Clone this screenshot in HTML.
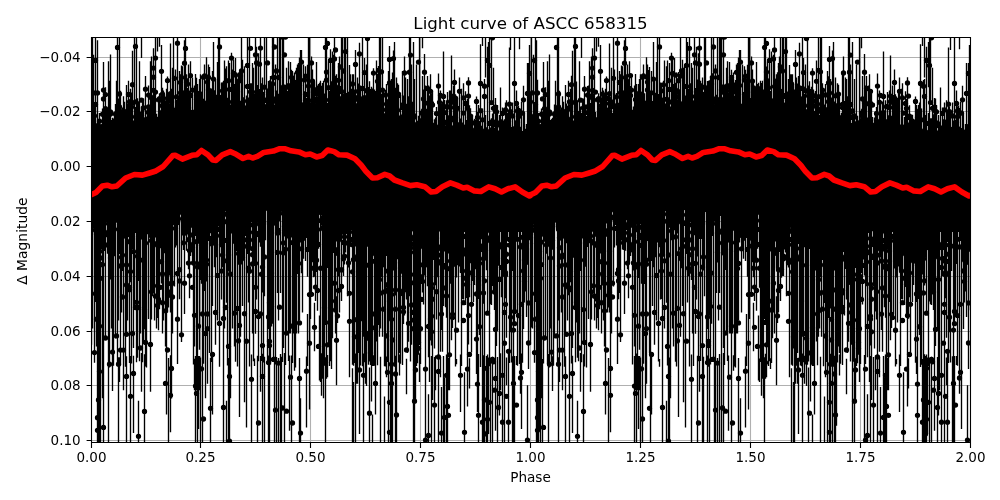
<!DOCTYPE html>
<html><head><meta charset="utf-8"><title>Light curve of ASCC 658315</title>
<style>html,body{margin:0;padding:0;background:#fff;width:1000px;height:500px;overflow:hidden}svg{display:block}</style></head>
<body><svg width="1000" height="500" viewBox="0 0 1000 500">
<rect width="1000" height="500" fill="#fff"/>
<defs><clipPath id="c"><rect x="91" y="37" width="880" height="406"/></clipPath></defs>
<g clip-path="url(#c)">
<path d="M91.5 37.0V443.0M200.5 37.0V443.0M310.5 37.0V443.0M420.5 37.0V443.0M530.5 37.0V443.0M640.5 37.0V443.0M750.5 37.0V443.0M860.5 37.0V443.0M970.5 37.0V443.0M91.0 57.5H971.0M91.0 111.5H971.0M91.0 166.5H971.0M91.0 221.5H971.0M91.0 276.5H971.0M91.0 331.5H971.0M91.0 385.5H971.0M91.0 440.5H971.0" stroke="#b0b0b0" stroke-width="1.1" fill="none"/>
<g fill="#000"><path d="M91 125L93 124.9L95 124.7L97 124.6L99 124.5L101 124.3L103 124.2L105 124.1L107 123.9L109 123.8L111 123.6L113 123.5L115 123.4L117 123.2L119 123.1L121 123L123 122.8L125 122.7L127 122.6L129 122.4L131 122.3L133 122.2L135 122L137 121.9L139 121.7L141 121.6L143 121.5L145 121.3L147 121.2L149 121.1L151 120.7L153 120.2L155 119.7L157 119.1L159 118.6L161 118L163 117.5L165 117L167 116.4L169 115.9L171 115.4L173 114.8L175 114.3L177 113.8L179 113.2L181 112.7L183 112.1L185 111.6L187 111.1L189 110.5L191 110L193 109.8L195 109.7L197 109.5L199 109.3L201 109.2L203 109L205 108.8L207 108.6L209 108.5L211 108.3L213 108.1L215 108L217 107.8L219 107.6L221 107.5L223 107.3L225 107.1L227 106.9L229 106.8L231 106.6L233 106.4L235 106.3L237 106.1L239 105.9L241 105.8L243 105.6L245 105.4L247 105.3L249 105.1L251 105L253 104.9L255 104.9L257 104.8L259 104.8L261 104.7L263 104.7L265 104.6L267 104.6L269 104.5L271 104.5L273 104.4L275 104.4L277 104.3L279 104.3L281 104.2L283 104.2L285 104.1L287 104.1L289 104L291 104L293 103.9L295 103.9L297 103.8L299 103.8L301 103.7L303 103.7L305 103.6L307 103.6L309 103.5L311 103.5L313 103.4L315 103.4L317 103.3L319 103.3L321 103.2L323 103.2L325 103.1L327 103.1L329 103L331 103.2L333 103.5L335 103.8L337 104.1L339 104.5L341 104.8L343 105.1L345 105.4L347 105.7L349 106.1L351 106.4L353 106.7L355 107L357 107.4L359 107.7L361 108L363 108.7L365 109.4L367 110.2L369 110.9L371 111.6L373 112.3L375 113L377 113.7L379 114.5L381 115.2L383 115.9L385 116.6L387 117.3L389 118.1L391 118.8L393 119.5L395 120.2L397 120.9L399 121.6L401 122.2L403 122.5L405 122.8L407 123.1L409 123.4L411 123.8L413 124.1L415 124.4L417 124.7L419 125L421 125.4L423 125.7L425 126L427 126.3L429 126.6L431 127L433 127.3L435 127.6L437 127.9L439 128.2L441 128.6L443 128.9L445 129.2L447 129.5L449 129.8L451 130.1L453 130.2L455 130.3L457 130.4L459 130.6L461 130.7L463 130.8L465 130.9L467 131L469 131.2L471 131.3L473 131.4L475 131.5L477 131.7L479 131.8L481 131.9L483 132L485 132.1L487 132.3L489 132.4L491 132.5L493 132.6L495 132.8L497 132.9L499 133L501 133.1L503 133.3L505 133.4L507 133.5L509 133.6L511 133.7L513 133.9L515 134L517 134.1L519 134.2L521 134.4L523 134.5L525 134.6L527 134.7L529 134.8L531 135L531 232L529 232L527 232L525 232L523 232L521 232L519 232L517 232L515 232L513 232L511 232L509 232L507 232L505 232L503 232L501 232L499 232L497 232L495 232L493 232L491 232L489 232L487 232L485 232L483 232L481 232L479 232L477 232L475 232L473 232L471 232L469 232L467 232L465 232L463 232L461 232L459 232L457 232L455 232L453 232L451 232L449 232L447 231.9L445 231.8L443 231.7L441 231.6L439 231.6L437 231.5L435 231.4L433 231.3L431 231.2L429 231.2L427 231.1L425 231L423 230.9L421 230.8L419 230.8L417 230.7L415 230.6L413 230.5L411 230.4L409 230.4L407 230.3L405 230.2L403 230.1L401 230L399 229.8L397 229.5L395 229.2L393 228.9L391 228.6L389 228.2L387 227.9L385 227.6L383 227.3L381 227L379 226.6L377 226.3L375 226L373 225.7L371 225.4L369 225L367 224.7L365 224.4L363 224.1L361 223.8L359 223.4L357 223.1L355 222.8L353 222.5L351 222.2L349 221.8L347 221.3L345 220.8L343 220.4L341 219.9L339 219.5L337 219L335 218.5L333 218.1L331 217.6L329 217.2L327 216.7L325 216.2L323 215.8L321 215.3L319 214.8L317 214.4L315 213.9L313 213.5L311 213L309 212.9L307 212.8L305 212.7L303 212.6L301 212.5L299 212.4L297 212.3L295 212.2L293 212.1L291 212L289 211.9L287 211.8L285 211.7L283 211.6L281 211.5L279 211.4L277 211.3L275 211.2L273 211.1L271 211L269 210.9L267 210.8L265 210.7L263 210.6L261 210.5L259 210.4L257 210.3L255 210.2L253 210.1L251 210L249 210L247 210L245 210L243 210L241 210L239 210L237 210L235 210L233 210L231 210L229 210L227 210L225 210L223 210L221 210L219 210L217 210L215 210L213 210L211 210L209 210L207 210L205 210L203 210L201 210L199 210L197 210L195 210L193 210L191 210L189 210L187 210L185 210L183 210L181 210L179 210L177 210L175 210L173 210L171 210L169 210.2L167 210.6L165 211L163 211.4L161 211.8L159 212.2L157 212.6L155 213L153 213.4L151 213.8L149 214.2L147 214.6L145 215L143 215.4L141 215.8L139 216.2L137 216.6L135 217L133 217.4L131 217.8L129 218.2L127 218.5L125 218.9L123 219.3L121 219.6L119 220L117 220.3L115 220.7L113 221.1L111 221.4L109 221.8L107 222.1L105 222.5L103 222.8L101 223.2L99 223.6L97 223.9L95 224.3L93 224.6L91 225Z"/><path d="M530.5 125L532.5 124.9L534.5 124.7L536.5 124.6L538.5 124.5L540.5 124.3L542.5 124.2L544.5 124.1L546.5 123.9L548.5 123.8L550.5 123.6L552.5 123.5L554.5 123.4L556.5 123.2L558.5 123.1L560.5 123L562.5 122.8L564.5 122.7L566.5 122.6L568.5 122.4L570.5 122.3L572.5 122.2L574.5 122L576.5 121.9L578.5 121.7L580.5 121.6L582.5 121.5L584.5 121.3L586.5 121.2L588.5 121.1L590.5 120.7L592.5 120.2L594.5 119.7L596.5 119.1L598.5 118.6L600.5 118L602.5 117.5L604.5 117L606.5 116.4L608.5 115.9L610.5 115.4L612.5 114.8L614.5 114.3L616.5 113.8L618.5 113.2L620.5 112.7L622.5 112.1L624.5 111.6L626.5 111.1L628.5 110.5L630.5 110L632.5 109.8L634.5 109.7L636.5 109.5L638.5 109.3L640.5 109.2L642.5 109L644.5 108.8L646.5 108.6L648.5 108.5L650.5 108.3L652.5 108.1L654.5 108L656.5 107.8L658.5 107.6L660.5 107.5L662.5 107.3L664.5 107.1L666.5 106.9L668.5 106.8L670.5 106.6L672.5 106.4L674.5 106.3L676.5 106.1L678.5 105.9L680.5 105.8L682.5 105.6L684.5 105.4L686.5 105.3L688.5 105.1L690.5 105L692.5 104.9L694.5 104.9L696.5 104.8L698.5 104.8L700.5 104.7L702.5 104.7L704.5 104.6L706.5 104.6L708.5 104.5L710.5 104.5L712.5 104.4L714.5 104.4L716.5 104.3L718.5 104.3L720.5 104.2L722.5 104.2L724.5 104.1L726.5 104.1L728.5 104L730.5 104L732.5 103.9L734.5 103.9L736.5 103.8L738.5 103.8L740.5 103.7L742.5 103.7L744.5 103.6L746.5 103.6L748.5 103.5L750.5 103.5L752.5 103.4L754.5 103.4L756.5 103.3L758.5 103.3L760.5 103.2L762.5 103.2L764.5 103.1L766.5 103.1L768.5 103L770.5 103.2L772.5 103.5L774.5 103.8L776.5 104.1L778.5 104.5L780.5 104.8L782.5 105.1L784.5 105.4L786.5 105.7L788.5 106.1L790.5 106.4L792.5 106.7L794.5 107L796.5 107.4L798.5 107.7L800.5 108L802.5 108.7L804.5 109.4L806.5 110.2L808.5 110.9L810.5 111.6L812.5 112.3L814.5 113L816.5 113.7L818.5 114.5L820.5 115.2L822.5 115.9L824.5 116.6L826.5 117.3L828.5 118.1L830.5 118.8L832.5 119.5L834.5 120.2L836.5 120.9L838.5 121.6L840.5 122.2L842.5 122.5L844.5 122.8L846.5 123.1L848.5 123.4L850.5 123.8L852.5 124.1L854.5 124.4L856.5 124.7L858.5 125L860.5 125.4L862.5 125.7L864.5 126L866.5 126.3L868.5 126.6L870.5 127L872.5 127.3L874.5 127.6L876.5 127.9L878.5 128.2L880.5 128.6L882.5 128.9L884.5 129.2L886.5 129.5L888.5 129.8L890.5 130.1L892.5 130.2L894.5 130.3L896.5 130.4L898.5 130.6L900.5 130.7L902.5 130.8L904.5 130.9L906.5 131L908.5 131.2L910.5 131.3L912.5 131.4L914.5 131.5L916.5 131.7L918.5 131.8L920.5 131.9L922.5 132L924.5 132.1L926.5 132.3L928.5 132.4L930.5 132.5L932.5 132.6L934.5 132.8L936.5 132.9L938.5 133L940.5 133.1L942.5 133.3L944.5 133.4L946.5 133.5L948.5 133.6L950.5 133.7L952.5 133.9L954.5 134L956.5 134.1L958.5 134.2L960.5 134.4L962.5 134.5L964.5 134.6L966.5 134.7L968.5 134.8L970.5 135L970.5 232L968.5 232L966.5 232L964.5 232L962.5 232L960.5 232L958.5 232L956.5 232L954.5 232L952.5 232L950.5 232L948.5 232L946.5 232L944.5 232L942.5 232L940.5 232L938.5 232L936.5 232L934.5 232L932.5 232L930.5 232L928.5 232L926.5 232L924.5 232L922.5 232L920.5 232L918.5 232L916.5 232L914.5 232L912.5 232L910.5 232L908.5 232L906.5 232L904.5 232L902.5 232L900.5 232L898.5 232L896.5 232L894.5 232L892.5 232L890.5 232L888.5 232L886.5 231.9L884.5 231.8L882.5 231.7L880.5 231.6L878.5 231.6L876.5 231.5L874.5 231.4L872.5 231.3L870.5 231.2L868.5 231.2L866.5 231.1L864.5 231L862.5 230.9L860.5 230.8L858.5 230.8L856.5 230.7L854.5 230.6L852.5 230.5L850.5 230.4L848.5 230.4L846.5 230.3L844.5 230.2L842.5 230.1L840.5 230L838.5 229.8L836.5 229.5L834.5 229.2L832.5 228.9L830.5 228.6L828.5 228.2L826.5 227.9L824.5 227.6L822.5 227.3L820.5 227L818.5 226.6L816.5 226.3L814.5 226L812.5 225.7L810.5 225.4L808.5 225L806.5 224.7L804.5 224.4L802.5 224.1L800.5 223.8L798.5 223.4L796.5 223.1L794.5 222.8L792.5 222.5L790.5 222.2L788.5 221.8L786.5 221.3L784.5 220.8L782.5 220.4L780.5 219.9L778.5 219.5L776.5 219L774.5 218.5L772.5 218.1L770.5 217.6L768.5 217.2L766.5 216.7L764.5 216.2L762.5 215.8L760.5 215.3L758.5 214.8L756.5 214.4L754.5 213.9L752.5 213.5L750.5 213L748.5 212.9L746.5 212.8L744.5 212.7L742.5 212.6L740.5 212.5L738.5 212.4L736.5 212.3L734.5 212.2L732.5 212.1L730.5 212L728.5 211.9L726.5 211.8L724.5 211.7L722.5 211.6L720.5 211.5L718.5 211.4L716.5 211.3L714.5 211.2L712.5 211.1L710.5 211L708.5 210.9L706.5 210.8L704.5 210.7L702.5 210.6L700.5 210.5L698.5 210.4L696.5 210.3L694.5 210.2L692.5 210.1L690.5 210L688.5 210L686.5 210L684.5 210L682.5 210L680.5 210L678.5 210L676.5 210L674.5 210L672.5 210L670.5 210L668.5 210L666.5 210L664.5 210L662.5 210L660.5 210L658.5 210L656.5 210L654.5 210L652.5 210L650.5 210L648.5 210L646.5 210L644.5 210L642.5 210L640.5 210L638.5 210L636.5 210L634.5 210L632.5 210L630.5 210L628.5 210L626.5 210L624.5 210L622.5 210L620.5 210L618.5 210L616.5 210L614.5 210L612.5 210L610.5 210L608.5 210.2L606.5 210.6L604.5 211L602.5 211.4L600.5 211.8L598.5 212.2L596.5 212.6L594.5 213L592.5 213.4L590.5 213.8L588.5 214.2L586.5 214.6L584.5 215L582.5 215.4L580.5 215.8L578.5 216.2L576.5 216.6L574.5 217L572.5 217.4L570.5 217.8L568.5 218.2L566.5 218.5L564.5 218.9L562.5 219.3L560.5 219.6L558.5 220L556.5 220.3L554.5 220.7L552.5 221.1L550.5 221.4L548.5 221.8L546.5 222.1L544.5 222.5L542.5 222.8L540.5 223.2L538.5 223.6L536.5 223.9L534.5 224.3L532.5 224.6L530.5 225Z"/></g>
<path d="M97.5 435.5V444M97.5 355.2V444M98.5 353.6V444M99.5 354.3V444M99.5 357.6V430.7M100.5 357.2V444M102.5 353.8V398.3M103.5 359V444M108.5 354.1V444M109.5 354.2V367.5M112.5 356.2V391M118.5 357.2V444M119.5 357.3V382.1M123.5 357.5V390.2M126.5 356.3V444M130.5 356V444M133.5 355.7V433.1M138.5 400.7V444M141.5 353V391.8M144.5 354.2V444M146.5 355.3V367.5M150.5 353.1V391.8M166.5 357.7V414.5M168.5 358V444M170.5 355.3V432.3M177.5 358.7V361.8M194.5 358.8V390.2M195.5 355.9V444M196.5 356.2V390.2M197.5 353.5V444M197.5 355.2V390.2M198.5 355.9V429M199.5 356V390.2M200.5 357.5V444M202.5 358.9V444M205.5 357.8V398.3M207.5 354.8V383.7M210.5 357.8V444M212.5 356.8V414.5M219.5 359V366.7M223.5 354V444M226.5 400.7V444M228.5 358.1V444M229.5 357.4V444M230.5 353.7V398.3M239.5 355.9V416.9M244.5 353.9V402.3M246.5 355.2V427.4M251.5 354.5V444M254.5 358.5V365.9M257.5 355.8V444M260.5 356V391.8M262.5 353.8V444M264.5 356.8V444M268.5 355.4V444M269.5 358.6V444M274.5 356.7V444M276.5 357.1V444M278.5 358.1V444M280.5 354.1V444M281.5 356.7V444M284.5 353.1V444M289.5 355.5V430.7M291.5 355.4V444M294.5 355.2V370.7M295.5 354.9V367.5M299.5 358.1V444M300.5 398.3V444M306.5 356.4V427.4M309.5 357.6V409.6M319.5 356.6V380.4M320.5 358.4V382.1M321.5 353.2V395.8M322.5 357.7V378.8M323.5 355V398.3M325.5 357.2V444M326.5 353.8V378.8M327.5 355V377.2M331.5 358.2V369.1M336.5 353.9V385.3M349.5 353.3V377.2M352.5 368.3V444M353.5 382.1V444M355.5 353.6V444M356.5 355.6V383.7M357.5 358.1V383.7M359.5 357.8V433.9M363.5 353.4V444M365.5 355.7V383.7M366.5 357.9V386.1M369.5 367.5V444M371.5 353.7V401.5M372.5 414.5V444M373.5 355.2V365.9M375.5 355.6V414.5M380.5 356.7V444M384.5 396.6V444M386.5 356.5V377.2M388.5 357.6V444M390.5 358.8V444M391.5 353.7V444M392.5 356.2V444M395.5 355.7V444M396.5 357.1V425.8M399.5 354.5V375.6M406.5 358.8V394.2M413.5 356.8V444M414.5 358.8V444M415.5 358.3V399.9M419.5 353.2V382.1M425.5 355.1V444M428.5 394.2V444M429.5 356.4V382.1M431.5 355.9V444M432.5 353.8V399.9M434.5 356.9V444M435.5 355.5V390.2M438.5 354.9V444M440.5 356.9V377.2M441.5 386.9V444M443.5 355.9V444M444.5 377.2V444M446.5 354.4V444M447.5 353.5V444M448.5 358.1V390.2M449.5 353.4V390.2M456.5 359V364.2M460.5 354.5V412M464.5 372.3V444M467.5 354.1V406.4M469.5 358.2V388.5M476.5 356.5V374M478.5 354.1V444M482.5 358.9V444M483.5 355.2V444M484.5 354.2V444M486.5 355.9V444M487.5 354.6V444M488.5 357.6V433.9M490.5 357.8V444M492.5 356.8V444M495.5 357.9V430.7M497.5 356.9V444M500.5 353.3V390.2M502.5 355.6V444M504.5 357V444M506.5 357.4V385.3M508.5 353.3V444M512.5 356.3V444M513.5 353.1V444M514.5 355.9V444M516.5 355.9V365.1M521.5 353.6V429M527.5 385.3V444M528.5 354.5V369.1M91.5 221.9V344.8M92.5 221.7V328.6M94.5 221.4V318.9M96.5 221V346.4M97.5 220.8V364.5M98.5 220.7V363.6M99.5 220.5V366.3M99.5 220.4V363.5M100.5 220.3V366.5M102.5 220V361.4M103.5 219.7V363.6M105.5 219.3V338.3M108.5 218.9V364.1M109.5 218.7V366.7M111.5 218.4V328.6M112.5 309.2V362.5M113.5 217.9V365.8M115.5 217.6V338.3M117.5 217.2V365.1M118.5 217V320.5M120.5 216.8V365.3M121.5 216.5V312.4M123.5 216.2V364.8M125.5 215.8V366.8M126.5 215.7V333.5M127.5 215.4V320.5M129.5 215V363M131.5 214.7V363.4M133.5 214.3V348M134.5 214.1V307.5M136.5 213.7V362.2M137.5 213.4V357.8M139.5 213.1V361.3M140.5 212.9V333.5M142.5 212.6V362.3M143.5 212.3V343.2M145.5 211.9V366.5M146.5 211.6V366M148.5 211.3V318.9M150.5 210.9V361.7M152.5 210.6V296.2M154.5 210V320.5M156.5 209.7V328.6M158.5 209.3V330.2M159.5 209V309.2M162.5 208.5V333.5M163.5 208.3V320.5M165.5 208V346.4M166.5 207.7V364.6M167.5 207.4V312.4M170.5 207V312.4M172.5 207V333.5M174.5 207V286.5M177.5 207V363.9M179.5 207V293M181.5 207V291.3M184.5 207V314M193.5 207V364.6M194.5 207V346.4M196.5 207V365M197.5 207V362.8M199.5 207V349.7M202.5 207V366.8M203.5 207V363.8M205.5 207V364.8M207.5 207V364.8M209.5 207V352.9M211.5 207V362.1M212.5 207V305.9M215.5 207V344.8M217.5 207V320.5M219.5 207V361.4M221.5 207V299.4M223.5 207V363.5M224.5 207V328.6M226.5 207V302.7M227.5 207V365.6M229.5 207V365.9M230.5 207V365.4M232.5 207V328.6M234.5 207V346.4M235.5 207V361.7M237.5 207V366.5M239.5 207V365.8M240.5 207V336.7M242.5 207V305.9M244.5 207V366.3M246.5 207V364.1M248.5 207V299.4M249.5 207V366.5M252.5 207.1V333.5M253.5 207.2V361.3M256.5 207.3V299.4M258.5 207.4V361.2M261.5 207.6V361.1M263.5 207.7V362.5M264.5 207.7V296.2M267.5 207.9V362.5M269.5 207.9V362.1M270.5 208V364.4M272.5 208.1V323.7M273.5 208.2V361.2M275.5 208.3V364.5M277.5 208.3V293M278.5 208.4V320.5M280.5 208.5V293M282.5 208.6V362M283.5 208.7V348M285.5 208.7V365.1M286.5 208.8V333.5M288.5 208.9V361.1M289.5 209V333.5M290.5 209V333.5M292.5 209.1V362.9M293.5 209.1V333.5M294.5 209.2V366.6M295.5 209.3V364.2M296.5 209.3V333.5M298.5 209.4V333.5M299.5 209.4V320.5M302.5 209.6V312.4M307.5 314V365.9M309.5 209.9V364.9M310.5 210V318.9M311.5 210.2V296.2M314.5 302.7V351.3M317.5 211.5V310.8M319.5 315.6V364.7M320.5 212.2V362.1M322.5 212.5V364.4M323.5 212.8V361.2M324.5 213.1V365.8M325.5 213.4V323.7M326.5 213.7V366.8M328.5 213.9V344.8M329.5 214.2V366.1M330.5 214.5V361.3M331.5 214.8V363M332.5 215V338.3M334.5 215.3V312.4M335.5 215.6V333.5M336.5 296.2V362.9M337.5 216.2V312.4M339.5 216.5V312.4M341.5 217V301.1M347.5 218.4V296.2M349.5 219V361.7M352.5 219.4V364.8M353.5 219.6V365.8M354.5 219.8V362.9M356.5 220V366.2M357.5 220.1V365.8M358.5 220.3V352.9M359.5 220.5V361.8M360.5 220.7V365.6M362.5 220.9V366.3M363.5 221.1V336.7M364.5 221.3V362.2M365.5 221.5V364.4M366.5 221.7V364.8M368.5 221.9V364.7M369.5 222.1V361.6M370.5 222.3V365M371.5 222.5V364.8M372.5 222.7V365.9M374.5 222.9V365.8M375.5 223.1V363M376.5 223.3V341.6M377.5 223.4V365.3M379.5 223.6V336.7M380.5 223.9V328.6M382.5 224.2V336.7M384.5 224.5V366.2M385.5 224.7V366.4M387.5 224.9V362M388.5 225.1V361.2M390.5 225.4V364.9M391.5 225.7V362.3M392.5 225.8V364.4M394.5 226.1V366.7M396.5 226.4V363.3M398.5 226.7V362.5M399.5 227V352.9M400.5 227V363.7M402.5 227.1V364.9M404.5 227.2V315.6M406.5 227.3V299.4M407.5 227.3V352.9M409.5 227.4V296.2M410.5 227.4V361.6M411.5 227.5V344.8M413.5 227.5V363.3M414.5 227.6V361.8M415.5 227.6V365M416.5 227.7V366M417.5 227.7V363.3M419.5 227.8V344.8M420.5 227.8V363.2M92.5 35V127.9M93.5 54.8V127.8M95.5 35V127.7M97.5 40.2V127.6M103.5 62.1V127.1M108.5 61.3V126.8M110.5 54.5V126.7M116.5 80.7V126.3M117.5 35V126.2M119.5 35V126.1M123.5 111.5V125.8M128.5 80.7V125.5M130.5 88.8V125.3M132.5 50.8V125.2M134.5 35V125M136.5 35V124.9M139.5 61.3V124.7M141.5 35V58.1M142.5 98.6V124.5M145.5 75.9V124.3M148.5 85.6V124.1M150.5 61.3V124M151.5 56.4V123.5M153.5 48.3V123.1M155.5 35V122.5M157.5 35V51.6M159.5 35V46.7M161.5 45.1V120.9M163.5 90.5V120.4M166.5 88.8V119.6M170.5 43.5V118.6M172.5 67.8V118.1M173.5 35V118M175.5 69.4V118M177.5 35V118M179.5 71V118M180.5 74.3V118M182.5 66.2V118M184.5 40.2V118M186.5 74.3V118M188.5 64.5V118M190.5 61.3V118M192.5 77.5V118M194.5 85.6V118M197.5 84V118M199.5 84V118M200.5 74.3V118M202.5 75.9V118M204.5 64.5V118M206.5 57.3V118M208.5 64.5V118M209.5 67V118M212.5 71V118M213.5 41.9V118M215.5 79.1V118M218.5 35V118M219.5 35V118M221.5 82.4V118M223.5 80.7V118M224.5 60.5V118M226.5 66.2V118M228.5 60.5V118M229.5 62.9V118M232.5 69.4V118M233.5 59.7V118M235.5 58.1V118M236.5 72.6V118M238.5 72.6V118M241.5 35V118M242.5 59.7V118M244.5 66.2V118M247.5 35V118M247.5 41.9V118M249.5 35V118M252.5 62.9V118M253.5 67.8V118M255.5 35V118M256.5 46.7V118M258.5 53.2V118M260.5 80.7V118M262.5 77.5V118M264.5 35V118M266.5 35V118M269.5 80.7V118M270.5 75.9V118M272.5 35V118M273.5 35V118M275.5 64.5V118M277.5 35V118M279.5 35V118M280.5 35V118M282.5 35V118M283.5 35V118M286.5 67.8V118M288.5 61.3V118M290.5 62.1V118M292.5 79.1V118M294.5 72.6V118M296.5 67.8V118M298.5 62.9V118M300.5 50V118M301.5 50V118M303.5 64.5V118M305.5 66.2V118M307.5 79.1V118M308.5 35V118M309.5 35V118M311.5 56.4V118M312.5 69.4V118M316.5 62.1V118M314.5 85.6V118M323.5 80.7V118M325.5 35V118M326.5 35V118M328.5 61.3V118M330.5 64.5V118M332.5 51.6V118M333.5 54.8V118M334.5 35V118M336.5 74.3V118M338.5 62.9V118M339.5 56.4V118M341.5 35V118M342.5 35V118M344.5 35V118M345.5 35V118M347.5 35V118M349.5 79.1V118M350.5 74.3V118M352.5 74.3V118M353.5 74.3V118M355.5 50V118M357.5 77.5V118M359.5 75.9V118M360.5 85.6V118M362.5 35V118M364.5 58.1V118M366.5 64.5V118M367.5 35V118M369.5 85.6V118M370.5 106.7V118M372.5 106.7V118M374.5 108.3V118M376.5 60.5V118M379.5 35V118M380.5 35V118.2M382.5 35V118.6M383.5 88.8V119.2M386.5 84V120.1M388.5 71V120.8M389.5 45.9V121.3M391.5 79.1V121.8M392.5 72.6V122.4M394.5 41.9V123M396.5 77.5V123.6M397.5 83.2V124.2M400.5 95.3V125M402.5 71V125.4M404.5 56.4V125.7M405.5 77.5V125.9M407.5 79.1V126.2M409.5 35V126.4M410.5 35V126.6M411.5 64.5V126.8M413.5 41.9V127.1M414.5 79.1V127.3M416.5 64.5V127.7M419.5 35V128.1M422.5 35V48.3M422.5 75.9V128.6M424.5 54V128.9M425.5 85.6V129.1M427.5 75.9V129.4M428.5 85.6V129.6M430.5 74.3V129.9M432.5 90.5V130.1M436.5 111.5V130.8M438.5 73.5V131.2M440.5 90.5V131.4M443.5 51.6V132M446.5 100.2V132.4M447.5 92.1V132.6M449.5 90.5V133M451.5 55.6V133.1M453.5 85.6V133.2M454.5 69.4V133.3M456.5 98.6V133.4M459.5 77.5V133.6M461.5 88.8V133.7M463.5 83.2V133.8M465.5 91.3V134M468.5 83.2V134.1M470.5 108.3V134.3M472.5 114.8V134.4M478.5 105V134.7M480.5 44.3V134.9M482.5 35V45.9M484.5 79.1V135.1M485.5 35V77.5M487.5 46.7V135.3M488.5 41.9V87.2M489.5 35V135.4M491.5 35V105M493.5 67.8V135.6M495.5 98.6V135.8M497.5 105V135.9M506.5 100.2V136.5M509.5 47.5V136.6M510.5 35V50M514.5 35V137M516.5 90.5V137.1M519.5 35V49.2M519.5 108.3V137.2M521.5 101.8V137.4M523.5 96.9V137.5M527.5 62.9V137.7M528.5 62.9V137.8M529.5 45.1V137.9M328.5 104.2V120.4M185.5 37.5V113.4M199.5 79.1V111.2M236.5 82.7V108.2M292.5 71V105.9M126.5 107.6V124.6M422.5 123.4V146.7M345.5 99.9V117.6M222.5 98.1V123.7M125.5 119.2V132.3M426.5 108.8V131.3M148.5 110.5V133.3M149.5 116V134.2M148.5 106.1V123.1M126.5 120.1V137M489.5 123V147.4M209.5 104.7V116.9M225.5 103.5V113.5M457.5 132.7V150.8M363.5 111.5V124.7M173.5 113.1V138.8M282.5 77V106.2M479.5 121V149.8M256.5 89.3V115.8M403.5 113.8V136.1M133.5 120.6V132.7M411.5 115.9V142M432.5 120V144M454.5 116.7V141.2M387.5 99.2V122.5M254.5 100.5V126.7M119.5 122.9V137.4M319.5 101.8V124.6M424.5 124.6V143.9M174.5 117.5V132.9M208.5 82.4V110.5M326.5 66.4V105.1M420.5 122.3V141.1M485.5 122.7V138.8M146.5 124V141.2M172.5 103.8V130.6M442.5 101.4V130.8M374.5 111.1V134.1M408.5 119.3V148.9M529.5 131.2V144M504.5 119.3V138.5M461.5 136.1V146.2M432.5 124.8V141.5M264.5 101.2V130.1M373.5 68.2V114.4M172.5 113.2V137.9M425.5 120.3V147.4M424.5 126.4V145.6M408.5 96.3V125.3M286.5 99V116.7M257.5 102.3V118.1M275.5 89.2V108.4M105.5 114.8V127.1M462.5 134V148.8M329.5 99V113.7M261.5 83.3V113.1M332.5 102.3V117.7M408.5 121.6V134.7M258.5 101.8V130.5M456.5 136.8V147.9M495.5 129.5V158.7M261.5 100.8V127.5M151.5 120.8V143.1M425.5 117.1V134.5M527.5 124.5V136.8M156.5 124.4V134.8M404.5 129.2V139.5M454.5 95.1V132.3M496.5 116.1V134.8M145.5 118.3V146.6M131.5 112.9V132.7M525.5 131.1V160.9M142.5 115.5V139.4M168.5 92.8V118M343.5 97.4V117.6M287.5 105.6V117.1M421.5 132.7V141.5M174.5 109.6V138.4M493.5 136.7V152.1M186.5 116.5V128.6M429.5 130.4V140.7M120.5 123.3V145.7M299.5 104.7V122.8M105.5 109.2V126M229.5 97.3V121M228.5 100.2V113.9M407.5 120.5V145.6M291.5 101.7V120.5M115.5 111.8V131.5M528.5 131.6V149.6M482.5 108.4V134M494.5 128.1V157.9M199.5 106.2V131.8M264.5 105.1V114.6M190.5 86V112M145.5 117.1V130.3M105.5 130.8V141.1M312.5 94.6V106.9M145.5 125.3V138.8M168.5 111.4V140.5M469.5 105.2V133.2M304.5 94.1V120.8M171.5 94.9V118.3M385.5 120.1V135.1M207.5 106.7V123.3M322.5 105.9V123.6M215.5 105.3V119.8M318.5 93.9V111.2M367.5 106.2V131.2M326.5 75.4V105.1M265.5 106.4V120.5M438.5 124V142.5M475.5 119.5V142.4M169.5 116.2V138.5M150.5 117.7V141.7M140.5 122.3V132.6M522.5 130.9V142.9M505.5 102.5V135.4M192.5 83V111.9M517.5 122.8V147.4M182.5 106.7V136.5M313.5 97.9V121M309.5 107.1V115.9M493.5 131.1V145.7M108.5 122.8V148.5M229.5 102.2V130.5M354.5 89.4V110.5M120.5 106.4V125M195.5 113V128.8M295.5 93.2V115.1M478.5 127.2V154.3M425.5 112.9V128.4M455.5 111.6V132.4M425.5 118.2V128.1M402.5 124.7V135.7M464.5 128.9V155.6M390.5 109.4V131.1M414.5 102.1V131.9M223.5 108.9V118.4M164.5 94.8V119M423.5 97.9V127.8M163.5 114.2V136.8M495.5 106.5V134.8M353.5 110.3V127.1M235.5 93.8V115.8M503.5 128.7V151.8M159.5 119.9V137.8M317.5 96.3V108.4M131.5 92.5V124.3M515.5 135V153.3M344.5 95.6V119.4M444.5 118.5V138.3M215.5 115V124.8M443.5 130V143.2M400.5 127.7V137M374.5 89.6V114.7M509.5 131.1V143.5M281.5 106.4V123.5M273.5 103.6V118.7M395.5 87.8V122.4M458.5 122.2V148.2M238.5 102.9V111.4M385.5 89.8V118.8M182.5 100.5V126.3M333.5 96.2V115.9M429.5 116.9V134.5M119.5 119V132.9M411.5 94.5V125.8M97.5 122.4V135.3M512.5 102.5V135.8M297.5 88.8V114.9M270.5 102.5V117.5M407.5 102.3V125.3M321.5 100.7V128.3M412.5 110.1V126M128.5 110.1V132.6M338.5 95.7V122.6M336.5 103V128.6M501.5 119.2V146.1M108.5 113.3V132M290.5 94.6V121.1M368.5 110.1V128.3M333.5 99.8V113.6M123.5 113.3V131.9M352.5 94.2V109.6M188.5 85.9V112.6M177.5 106.7V133M477.5 111.9V133.7M178.5 116.1V127.7M290.5 82.6V106M421.5 120.9V139.1M402.5 112.7V141.7M334.5 87.7V116.4M446.5 125.7V155M295.5 80V105.9M363.5 102.3V125.2M451.5 132V145.9M389.5 110.2V126.4M373.5 91.6V114.5M269.5 80.3V106.6M336.5 107.5V121.5M265.5 110.8V120.6M418.5 115.8V130.7M258.5 104.6V119.7M296.5 92.9V116.9M423.5 112.1V127.7M312.5 105.5V118.5M239.5 89.3V117.1M454.5 125.4V152.2M258.5 103.8V125.7M462.5 122.5V142.8M436.5 107.1V129.8M287.5 90.9V118.1M404.5 102V126.7M106.5 116.8V136.1M262.5 108.3V119.8M469.5 131.5V144.2M345.5 43.5V107.6M336.5 105.7V121M383.5 112.1V121.4M389.5 115.6V132.6M347.5 91.5V109.4M276.5 102.2V116.5M171.5 116.3V132.8M219.5 92.6V109.6M219.5 110.3V126.6M280.5 88V109.6M530.5 92.3V136.9M246.5 111V123.4M287.5 97.9V123.4M254.5 105V124.3M346.5 107V125.1M508.5 109.5V135.6M482.5 120V144.6M256.5 97.7V124.3M208.5 107V132.9M480.5 117.1V139.8M308.5 74.2V105.5M392.5 119.4V130.8M123.5 117.3V140.7M472.5 127.8V141.4M228.5 105.9V119.6M308.5 100.8V111.5M178.5 96.7V115.5M275.5 103.3V111.7M455.5 124.4V146.8M455.5 124.7V149.2M299.5 101.5V126.6M428.5 119.1V129.9M292.5 89.6V111.7M255.5 101.7V128.1M331.5 104V112.8M179.5 101.4V115.1M230.5 104.6V118.5M401.5 119.9V138.1M430.5 120.7V132.4M115.5 104.1V125.3M413.5 117.6V133.2M450.5 109.3V132M286.5 95.7V115.4M118.5 98.6V125.1M391.5 115.1V128.5M199.5 94.2V117.8M374.5 105.2V129.3M256.5 98.6V122.5M371.5 114.5V124M204.5 93.3V122.1M300.5 101.2V121.9M321.5 107.4V121.3M368.5 87V112.7M180.5 113.9V133.3M514.5 120.8V140.2M218.5 111V124.5M225.5 107V120.8M203.5 112.4V128.4M120.5 113.7V138.8M277.5 94.7V112.4M430.5 129.1V137.9M403.5 95.4V124.5M177.5 105.6V118M151.5 123V131.3M232.5 87.1V116.6M429.5 131.3V145.8M305.5 95V114.8M497.5 131.1V147M379.5 120.9V130M364.5 99.9V127.8M428.5 118.7V147.3M421.5 123.8V135.9M242.5 107.8V125M204.5 67.6V110.9M283.5 109.9V121.6M306.5 100.7V123.2M153.5 77.7V122.1M285.5 100V124.7M372.5 111V133.8M150.5 108.2V122.8M151.5 116.7V129.8M167.5 88.6V118.3M215.5 92.8V116.3M514.5 120.5V137M102.5 125.6V143.5M171.5 88.8V117.1M163.5 100.7V119.3M299.5 78.6V105.8M97.5 118.4V132.8M292.5 98.6V128.4M162.5 87.7V119.6M209.5 103.5V112.5M439.5 93.7V130.3M171.5 115.5V137.8M362.5 82.8V110.6M269.5 99V125.5M274.5 107.2V119.5M450.5 121.9V145.4M161.5 118.4V129.9M497.5 119.3V146.7M484.5 80V134.1M385.5 116.2V140.3M112.5 117.7V144.2M382.5 83.3V117.8M355.5 104.2V114.2M430.5 110.1V131M185.5 108.4V127.4M510.5 124.5V143.1M480.5 128.8V154M141.5 106.4V124.6M229.5 79.9V108.7M105.5 99.2V126M456.5 133V151M493.5 114.3V134.7M526.5 125.6V137.1M360.5 97.1V111.6M384.5 113.4V127.2M389.5 76.2V120.2M341.5 93.5V118.7M510.5 106.4V135.7M358.5 106.8V119.3M238.5 94.4V114M316.5 91.9V106.7M99.5 120.1V133.4M409.5 64.1V125.5M396.5 101.1V122.7M276.5 90.5V113.3M465.5 124.7V154.1M423.5 111.1V137.8M239.5 72V107.9M125.5 121.2V139.1M149.5 111.4V128.6M172.5 117.7V131M224.5 84.8V113.7M287.5 111.2V120.7M499.5 137.7V150.2M213.5 92V114.5M486.5 127.6V148.6M390.5 102.9V120.6M466.5 124.7V153.3M268.5 97V114M92.5 114.4V135.5M437.5 131.1V141.1M199.5 102.9V130.5M153.5 115.7V125.9M442.5 122.2V138.8M392.5 106.7V134.2M184.5 105.8V134.6M208.5 86.7V114.6M504.5 130.7V156.9M209.5 106.1V119.2M400.5 115.3V124M148.5 98V123.1M449.5 134.4V143.8M142.5 106.9V136.1M318.5 83.9V105.3M106.5 109.2V125.9M333.5 106.7V119.1M463.5 131.9V140.2M128.5 123.3V142.3M211.5 103.4V113.1M427.5 123.2V151M358.5 85.3V109.6M228.5 108.4V124.5M367.5 106.6V133.1M291.5 75.3V106M470.5 108.6V133.3M219.5 101.9V128.5M424.5 123.7V152.1M370.5 106.5V128.1M416.5 128.2V144M257.5 91.6V119.4M409.5 118.7V147.5M398.5 87.8V123.4M261.5 101.1V111M102.5 118V145.1M514.5 131.1V153.7M404.5 100.9V124.8M181.5 112V132.5M412.5 124.5V139.3M213.5 104.3V132.5M297.5 64.5V105.8M469.5 132.2V144.5M288.5 107.9V116.8M217.5 94.9V110.5M225.5 101.9V131.7M124.5 114.3V127.1M187.5 111.2V129.3M210.5 105.4V134.8M167.5 76.5V118.4M118.5 111.9V126.4M295.5 88.6V114.7M185.5 113.2V123.3M416.5 121.7V150.1M496.5 130.6V157M211.5 107.8V119M342.5 106.2V127.2M313.5 82.1V105.4M124.5 101.8V125.1M145.5 112.8V127.6M480.5 102.5V133.9M299.5 108.6V121.9M445.5 133V147.4M120.5 109.7V125M352.5 98.1V126M471.5 116.4V144M472.5 133.3V149.2M93.5 118.2V141.5M320.5 104.2V122.9M253.5 103V117.1M425.5 123.8V139.5M123.5 96.2V125.5M207.5 74.4V110.6M448.5 115.3V136M297.5 93.6V122.4M290.5 106.9V121.4M517.5 109.3V136.1M231.5 52.8V108.5M109.5 123.4V147.5M263.5 93.3V119M158.5 112.9V139.3M127.5 103.4V132.9M340.5 99.6V123.2M510.5 114.7V144.2M345.5 88.2V107.6M375.5 91V115.3M233.5 103.2V115.9M342.5 109.4V119.3M421.5 111.8V129.4M350.5 105.1V128.9M444.5 100.1V131.1M333.5 103.5V111.9M178.5 108.3V137M347.5 104.6V118.1M307.5 106.5V121M164.5 109.5V135.8M363.5 102V129.6M450.5 115V139.2M150.5 89.7V122.9M330.5 91V109.2M413.5 117.7V144M268.5 97.5V113.4M209.5 107.3V133M254.5 102.4V127.6M329.5 98.8V117.1M393.5 101.2V128.9M337.5 102.7V119.2M138.5 101.2V125.7M450.5 90.6V132.1M497.5 135.5V150.7M135.5 106.9V126.6M200.5 97.2V118.5M167.5 113V132.8M464.5 127.4V137.9M491.5 118.2V148M110.5 111.7V140.9M237.5 110.4V119.2M175.5 104.4V133.2M297.5 105V124.7M496.5 129.8V140.6M121.5 114.9V140.9M166.5 100.6V118.6M305.5 99.9V123.6M321.5 92.4V118.6M419.5 123.8V143.6M283.5 108.9V118M153.5 97.2V123.3M246.5 97.3V120.5M523.5 85.8V136.5M421.5 128.2V142.1M142.5 114.3V139.6M446.5 119.2V146.4M227.5 100.8V116.6M434.5 128.2V145.2M96.5 125.6V141M474.5 118.8V133.5M162.5 99.5V119.7M291.5 69.7V106M382.5 98.9V117.6M314.5 102.1V126.9M163.5 115.1V132.5M152.5 116V136.5M216.5 110.5V124.8M114.5 113V128.9M186.5 92.9V117.4M148.5 86V123.1M295.5 96.4V117.5M247.5 92.4V109.7M349.5 90.8V111M214.5 90.3V118M105.5 125.5V139.3M236.5 86.9V108.1M423.5 114.2V137.3M203.5 108.8V118.8M269.5 101.9V131M423.5 89.4V127.7M269.5 99.6V113M481.5 125.7V150.4M494.5 130V155.9M227.5 99.8V121.7M414.5 101.7V129.8M202.5 96.3V111M152.5 118.6V138.2M283.5 80V106.2M356.5 104.5V132.6M502.5 125.6V147.7M155.5 119.8V141.1M404.5 114.2V130.7M300.5 102.1V122.6M148.5 119.1V139.3M518.5 130.2V158.1M397.5 115.7V141.9M147.5 108.7V132.9M489.5 117.8V146.1M136.5 125.8V135.2M131.5 114.2V139.1M236.5 94.5V112.7M503.5 122.8V147.4M105.5 87.3V126M495.5 98V134.8M360.5 105.2V131.3M120.5 111.9V125M341.5 84.2V106.8M292.5 80.5V105.9M339.5 75V106.5M415.5 122.2V136.1M389.5 109.1V135.2M529.5 135.7V149.1M224.5 208V255.7M334.5 184.7V232.5M378.5 224.6V325M478.5 230V280.4M477.5 230V411.9M201.5 192.2V214.1M419.5 228.8V258.7M370.5 192.9V247.5M260.5 207.3V232.5M432.5 229.3V258.4M485.5 198.6V252.9M301.5 196.1V223.5M494.5 190.1V250M147.5 182.8V234.2M164.5 200.6V253.3M427.5 214.5V237.4M225.5 187V209.4M348.5 206.3V254.5M309.5 190.4V242.1M155.5 210.1V232.8M422.5 228.9V292.4M417.5 228.7V253.8M154.5 204.6V223.2M205.5 191.3V223.6M443.5 229.7V306.1M492.5 202.1V244.3M473.5 230V268.4M311.5 204.8V226M252.5 208.1V257.5M286.5 195.8V220.8M168.5 208.3V273.6M309.5 178.5V235.4M192.5 208V262.5M162.5 198.5V217.2M258.5 208.4V256.5M119.5 195.3V254M297.5 195.9V246M397.5 216.2V259.3M377.5 202.9V233M520.5 230V393.7M480.5 230V262.7M369.5 198.2V248.9M485.5 207.1V257.6M286.5 205.1V240.6M442.5 219.1V272.4M216.5 208V257.3M322.5 196.9V241.8M522.5 224.9V249.8M354.5 220.7V348.6M313.5 211.7V258.2M437.5 221.4V277.2M228.5 195.8V246.2M456.5 206.2V261.4M99.5 221.5V352M195.5 185.4V236M168.5 208.2V300M204.5 208V290.9M507.5 217.6V237.6M101.5 202.8V246.3M222.5 207.8V221.9M343.5 185.2V243.5M400.5 228V289.9M431.5 228.4V248.3M259.5 190.2V239.1M187.5 177V228.6M466.5 216.9V230.9M144.5 202.8V242M119.5 206.3V238.4M192.5 182.6V224.3M307.5 210.8V276.8M505.5 230V298.3M411.5 228.5V293.9M339.5 212.1V250.7M320.5 213.2V287.7M396.5 213.3V225.8M366.5 222.7V274.4M238.5 204.3V233.5M131.5 210.2V230.8M179.5 208V292.7M435.5 201.1V245.6M370.5 186.4V244.6M441.5 229.7V277.9M110.5 219.5V279.4M487.5 213.6V262.2M259.5 198.1V242.4M498.5 222.3V265.8M352.5 220.4V277.8M331.5 207V260.7M450.5 213V232.7M366.5 210.3V231M387.5 226V307.9M160.5 208.2V248.3M356.5 203.1V251.4M247.5 186.5V212.6M124.5 179.1V236.4M149.5 182.4V224.6M302.5 197.4V250M206.5 208V281.6M427.5 229.1V260.5M144.5 203.3V215.9M97.5 221.9V265M529.5 204.3V236.7M228.5 208V271.4M315.5 212V300.9M183.5 191.2V211.7M182.5 188.8V223.5M268.5 186.8V211.1M438.5 194.1V249M108.5 213.3V233.9M459.5 208.1V266.6M526.5 199.5V252.8M337.5 217V268.7M249.5 207.8V256.9M193.5 179.9V219.8M171.5 192.3V226.6M233.5 192.7V243.7M465.5 195V246.9M92.5 215V236.7M436.5 229.5V319.4M384.5 225.5V239.3M99.5 221.5V252.5M121.5 217.5V274.9M414.5 228.6V261.4M387.5 226V287.3M228.5 190.5V225.5M469.5 204.9V239.4M183.5 171.8V227.4M278.5 204.8V260.8M141.5 193V221.6M375.5 205.8V231.6M129.5 198.1V241.5M169.5 208V236.1M428.5 229.1V267.8M311.5 179.7V226.2M382.5 220.1V232.3M413.5 198.7V247.7M357.5 189V236.3M178.5 190.6V221.2M398.5 207.3V231.2M142.5 207.3V245.2M209.5 205.9V232.1M288.5 196.2V247.6M141.5 191.2V231.5M137.5 214.5V269.6M377.5 204.4V255.2M417.5 228.7V280.4M254.5 208V226.4M262.5 196.9V228.8M182.5 189V224.5M320.5 192V249.3M346.5 195.8V223.1M501.5 207.4V240.9M108.5 186.6V245.4M490.5 211.7V244.1M526.5 223.3V275M243.5 208V255.1M410.5 208.9V239.8M453.5 216.5V237.4M377.5 208.2V262.6M218.5 188V226.5M365.5 204.7V227.2M476.5 230V302.1M138.5 214.4V255M302.5 210.6V243.4M100.5 208.9V244.2M462.5 202.7V249.7M433.5 227V253.9M111.5 207.9V228M419.5 205.2V234.5M395.5 223.2V243.2M146.5 191.9V244.4M322.5 213.6V230.8M394.5 227.1V291.8M238.5 194.6V222.6M312.5 211.4V262.3M520.5 222.5V271.5M370.5 217V235.5M311.5 186.6V234.9M120.5 217.8V276.4M144.5 213.1V329.3M465.5 230V299.7M417.5 228.7V293.2M458.5 225.7V246.1M345.5 201.8V249.5M344.5 191.6V243M324.5 214.1V238.2M414.5 214V231.5M236.5 208V251.3M309.5 193.4V235.5M297.5 189.8V219.4M382.5 196.2V254.4M186.5 200.8V250.8M102.5 221V292.6M129.5 209V249.8M169.5 208V275.4M468.5 230V344.4M406.5 218.2V231.9M420.5 228.8V296.4M286.5 199.5V220.5M136.5 203.6V253.7M295.5 196.2V219.4M470.5 211.4V259M315.5 206.8V234.7M369.5 201.8V245.1M255.5 208.3V333.8M157.5 210.6V273M366.5 188.1V242M304.5 185.9V218.9M243.5 175.8V220.9M204.5 208V242.8M397.5 216.3V233M230.5 208V297.3M344.5 209V264.5M205.5 208V258.5M422.5 204.4V241.3M255.5 202.8V245.1M301.5 177.4V224.5M499.5 230V299.1M407.5 228.3V261.9M414.5 210.2V263M240.5 187.5V217.2M460.5 217.5V272.9M260.5 196.3V246.7M525.5 215.9V265.9M485.5 204.9V256.9M381.5 217.8V277.2M456.5 217.9V277.5M330.5 211.5V247.6M413.5 228.5V335.1M145.5 212.8V266.7M525.5 230V291.5M443.5 227.9V270.1M153.5 211.3V292.5M197.5 208V234.5M343.5 218.6V276M426.5 195.9V245.7M156.5 181.8V236.4M513.5 230V345.1M243.5 182.1V218.9M528.5 206.5V243.1M422.5 228.9V273.1M304.5 210.7V240.8M250.5 183.6V220.8M133.5 215.3V269.7M129.5 215V268.5M367.5 212.8V233.5M431.5 229.3V310.6M490.5 214.1V239.1M251.5 184.1V222M503.5 201.4V247.4M221.5 208V235.5M504.5 230V341.2M495.5 230V407.4M159.5 171.2V229.8M469.5 215V227.1M400.5 209.6V252.5M400.5 226.4V270.7M460.5 209.8V264M327.5 214.7V267.9M313.5 211.7V277.2M252.5 208.1V280.1M471.5 230V260.3M487.5 212.7V227.9M161.5 195.7V212.1M430.5 229.2V340.5M212.5 208V260.9M171.5 183.2V231.1M177.5 185.5V236.2M343.5 208.3V220.4M214.5 208V267.3M197.5 179.8V234.1M134.5 200.9V257.7M233.5 183.5V232.4M431.5 209.1V239.5M100.5 221.3V290.2M303.5 192.8V248.6M356.5 208.9V241.1M112.5 208.6V244M220.5 199.6V245.2M489.5 205.4V250.4M528.5 230V365.6M465.5 203.3V245.3M165.5 208.9V249M427.5 229.1V286.3M289.5 209.9V242.5M166.5 206.9V231.5M302.5 175.4V231M497.5 195.4V248M476.5 222.8V269.3M263.5 191.8V211.9M118.5 218V236.4M487.5 198.8V255.1M524.5 230V288.7M316.5 200V225M190.5 208V256.1M330.5 202.4V215.2M397.5 223.2V254.1M303.5 193.8V239.6M246.5 208V254.5M200.5 208V262.8M221.5 208V299M112.5 219.1V249.8M203.5 183.9V229M510.5 230V332.2M94.5 222.4V362.8M411.5 228.4V319.4M438.5 229.5V280.5M269.5 182V237M352.5 220.3V269.1M188.5 208V269.2M384.5 220V234.7M402.5 216.2V275.9M414.5 203.2V241.9M307.5 182.9V224.2M517.5 224.8V253.8M472.5 197V248.9M342.5 195.6V234.4M391.5 208.7V249.1M211.5 208V255.8M506.5 230V286.1M374.5 224V272.4M484.5 223.9V242.5M217.5 201.9V242.6M523.5 201.4V253.4M137.5 193.1V219.2M324.5 212.2V238.7M139.5 199.5V218.7M174.5 189.7V230.6M427.5 221.8V270.8M120.5 217.8V275M259.5 197.3V235M175.5 208V247.4M465.5 230V258.5M127.5 190.8V228.3M239.5 186.6V211.7M467.5 223.7V245.3M393.5 207.8V267.1M400.5 216.7V233.1M527.5 211.8V240.3M101.5 208V249.6M383.5 215.6V247.1M418.5 228.8V354.7M420.5 194.3V247.9M405.5 228.2V269.4M122.5 217.3V271M127.5 187.4V243M431.5 229.2V345.5M360.5 203.7V259.6M206.5 208V276M95.5 190.4V238.1M325.5 189.3V242M130.5 215.8V282.3M420.5 228.8V357.9M240.5 199.6V216.5M446.5 229.9V317.8M133.5 196.8V220.3M308.5 190.5V212.9M134.5 211.3V229.9M434.5 211.2V268.4M337.5 217.1V258.8M194.5 175.1V230.9M514.5 230V321.5M391.5 226.6V308.4M238.5 208V264.8M467.5 230V314.1M258.5 204.2V220.7M505.5 196.7V250.1M221.5 208V238.8M524.5 195.7V253.4M118.5 191.1V239.1M414.5 225.8V250.5M219.5 208V247.8M277.5 209.4V262.4M370.5 214.6V246.1M111.5 219.4V250.2M189.5 208V298.2M136.5 214.6V322.5M416.5 228.7V268.1M188.5 208V246M310.5 196.2V253.3M235.5 208V236.7M194.5 208V255.6M502.5 230V254.1M314.5 193.6V224M377.5 203.4V234.7M400.5 223.7V261.3M452.5 230V328.1M206.5 208V238.1M125.5 184.3V234M296.5 210.3V264.2M165.5 186.1V214.1M99.5 221.4V262.6M495.5 230V264.7M366.5 220.8V267.7M273.5 191.4V207.5M151.5 189.1V216.6M425.5 219.3V251.5M325.5 201.3V225.7M167.5 191.8V244.1M523.5 230V260.8M509.5 205.5V237.7M498.5 208.6V243.1M454.5 214.9V266.7M324.5 214.2V319M223.5 179.1V230.9M377.5 219.7V277.2M157.5 210.5V317.9M362.5 208.6V228.7M120.5 212.8V262.6M96.5 212.5V239.5M405.5 228.2V268.1M241.5 208V256.6M397.5 201.7V243.2M434.5 228.9V285.9M458.5 203.1V257.4M361.5 221.9V321.2M463.5 205.2V238.3M380.5 204V262.8M499.5 230V415.4M485.5 191.6V249.5M110.5 208.5V253.6M208.5 185.8V231.3M262.5 193.2V238.9M201.5 193.2V211.3M168.5 208.2V307.4M475.5 216.8V232M102.5 213.7V270.4M171.5 208V398.4M425.5 205.3V246.4M189.5 200V219.5M204.5 208V250.8M516.5 204V237.4M426.5 229.1V266.5M288.5 199.9V221.3M150.5 204.7V221M209.5 208V260M522.5 197.4V247.4M439.5 215.7V230.7M121.5 216.8V243.6M402.5 228.1V306.7M256.5 184.3V222.3M407.5 213.3V254.3M220.5 182.7V214.4M148.5 193.3V246.9M99.5 208.6V239.4M221.5 208V258M469.5 230V297.3M483.5 219.3V271.7M391.5 226.7V346.4M420.5 228.8V254.2M176.5 197.7V219.2M246.5 197.7V231.9M486.5 211.9V270.3M524.5 230V302.4M285.5 209.8V270.1M432.5 229.3V313.1M501.5 230V297.2M529.5 214.1V234.9M221.5 193.1V232M378.5 193.8V238.2M262.5 208.6V292.5M295.5 175.7V226.8M294.5 200.2V230.8M213.5 208V241.5M99.5 221.5V401.1M428.5 229.1V345.8M397.5 209.9V235.4M460.5 226.4V245M158.5 191.9V242.5M195.5 176V228.8M353.5 220.5V279.4M503.5 230V273.6M298.5 199.4V243.1M179.5 208V299.2M352.5 206V245.8M512.5 221.3V271M472.5 226.8V281.1M486.5 204.9V253.2M271.5 191.8V227.1M206.5 205.4V225.9M474.5 210.5V255.9M437.5 197.6V249.5M465.5 224.8V283M263.5 196V215.3M216.5 208V230.3M196.5 179.3V221.8M474.5 230V285M495.5 230V262.2M252.5 208.1V284.6M475.5 230V256M258.5 208.4V346.6M288.5 187.3V216.7M340.5 217.8V240.3M188.5 192.6V242.2M208.5 201.8V228.2M208.5 204.6V236.7M205.5 208V283.9M317.5 212.6V243.4M135.5 210.3V228.7M434.5 227.2V251.6M167.5 196.7V236.5M286.5 187.3V213.7M373.5 211V255M151.5 211.7V319.5M271.5 209V326.4M338.5 217.4V276.4M333.5 195V253.1M483.5 230V303.7M436.5 223.8V252.4M144.5 213.2V251.2M457.5 223.5V265.2M332.5 197.8V226.2M389.5 226.3V317.9M161.5 209.7V253.6M298.5 210.4V280.3M398.5 210.7V236.3M441.5 229.7V329.9M445.5 229.8V280.7M186.5 190V216M457.5 203.2V244.1M341.5 217.9V288.4M385.5 210.7V242.4M465.5 201.8V247.8M269.5 209V366.8M495.5 208.6V251.7M478.5 230V299M446.5 229.9V296.3M258.5 208.4V242M323.5 201.6V252.2M167.5 191.2V223.4M425.5 229V268.3M483.5 222V274.4M161.5 209.6V283.4M418.5 198.2V257M396.5 227.4V442.1M107.5 220.1V253.8M494.5 230V310M301.5 210.5V273.2M209.5 208V235.3M104.5 212.9V250.9M435.5 225.6V285.2M239.5 188.8V212.3M316.5 194.6V212.2M176.5 195.3V221.2M358.5 215.3V243.9M265.5 186.2V212M445.5 210.7V243.4M384.5 195.9V247.9M408.5 228.3V341.7M201.5 207.1V247.4M119.5 217.7V234.9M478.5 230V271M502.5 218.7V276.3M374.5 223.9V328.4M496.5 196.8V254.3M401.5 228.1V273.8M357.5 192.2V234.9M275.5 177.6V221.4M247.5 208V254M306.5 195.7V211.1M188.5 195V228.2M279.5 198.9V217M314.5 194.3V220.5M104.5 208V229.4M264.5 208.7V270.4M216.5 198.6V232.5M370.5 209.9V236.8M448.5 221.7V249.8M361.5 204.2V239.5M383.5 199.4V244.2M361.5 221.8V255.5M203.5 193.9V253.8M256.5 200.6V233.3M462.5 230V299M507.5 215.9V228.3M170.5 208V225.9M95.5 222.2V302.1M514.5 199.7V255.5M469.5 204.4V236.2M358.5 189.7V242.3M450.5 230V283.8M352.5 204.4V220.6M489.5 207.3V236.6M198.5 208V243.8M286.5 183.4V217.1M386.5 193.6V241.7M185.5 208V235.6M405.5 212.6V269.1M206.5 181.5V216.4M403.5 228.1V305.4M444.5 202.8V248.3M277.5 205.3V230.5M526.5 220.4V266.6M368.5 201.4V233.3M423.5 224.5V259.5M100.5 221.4V268.4M140.5 213.9V271M404.5 198.6V251.9M505.5 230V292.5M367.5 213.5V245.8M431.5 229.3V298.3M492.5 214.1V242M160.5 207.8V217.3M530.5 223.8V251.8M97.5 221.9V245M361.5 214.8V229M207.5 208V240.7M201.5 208V283.7M308.5 210.9V226.5M356.5 213.6V236M283.5 209.6V253M405.5 228.2V289.7M509.5 227.7V251.4M165.5 208.6V229.3M195.5 205V217.5M359.5 215.6V233.4M271.5 209.1V284.2M229.5 199.5V220M312.5 206.5V225.4M397.5 227.6V256.8M490.5 230V304.2M504.5 226.7V235.6M451.5 230V260.2M243.5 208V233.6M479.5 230V335.1M403.5 228.1V324.1M167.5 208.4V248M510.5 230V284.8M199.5 203.1V218.7M391.5 223.7V240M396.5 217.9V236.8M490.5 225.3V251.5M384.5 215.6V235.6M523.5 230V277.9M117.5 207.2V228.4M107.5 211.6V226.2M177.5 208V232.1M344.5 218.6V261.2M277.5 198.8V218.1M127.5 216.5V243.2M179.5 203.7V224.6M345.5 219V252.6M268.5 198.5V218M426.5 216.3V239.1M296.5 210.3V328.1M477.5 230V290.5M424.5 229V275.6M308.5 210.9V237.3M248.5 208V276.2M185.5 203.7V213.4M219.5 197.8V224.3M247.5 208V234.5M249.5 200.4V227.9M169.5 206.6V223.8M299.5 210.4V242.9M140.5 214V243.8M473.5 230V250.8M333.5 205.9V231.9M132.5 215.4V248.9M235.5 208V224.6M203.5 202.9V213.5M159.5 210.1V228.8M302.5 209.2V227.8M171.5 202.8V223.9M157.5 199.4V218.7M400.5 215.8V241.4M280.5 196.9V220.9M386.5 220.2V230.3M297.5 210.4V229.9M312.5 197.7V223.4M227.5 208V259.3M278.5 209.4V234.6M302.5 210.6V237.6M241.5 208V264.4M454.5 229.7V247.8M199.5 208V278M188.5 206.8V216.3M242.5 196.4V220.9M436.5 218.7V236.4M463.5 225.9V253.5M339.5 217.6V251.9M249.5 208V244.5M376.5 224.2V270.5M454.5 230V257.5M197.5 208V224.8M384.5 225.6V302.9M403.5 226V239.1M262.5 206.1V218.2M154.5 211.1V250.9M358.5 221.3V248.3M183.5 208V249.4M252.5 208.1V223.8M330.5 205.6V222.1M514.5 230V253.1M155.5 210.9V237.5M123.5 217.2V253.2M328.5 214.2V234.5M505.5 221.8V247M111.5 216.3V226.9M373.5 222.6V243.8M103.5 220.8V235.6M333.5 208.4V233.8M143.5 213.3V238.4M381.5 225V270.2M249.5 208V283.7M379.5 224.6V246.9M204.5 208V241.9M123.5 211.3V220.9M171.5 198.3V224.4M211.5 208V230.5M163.5 197V222.3M178.5 202.5V212M330.5 215.5V240.5M283.5 209.7V226.4M454.5 227V245.8M309.5 210.9V256.4M328.5 215V239.6M403.5 220.2V246.7M466.5 230V243.1M348.5 219.6V261.6M107.5 220.1V247.8M293.5 210.1V218.4M105.5 220.5V241.7M357.5 221.1V263.3M119.5 204.2V227.6M328.5 208.8V228M156.5 210.6V227.2M467.5 230V287.6M132.5 215.5V248.7M381.5 216.4V237.2M400.5 215.7V236.8M212.5 195.5V220.8M351.5 216.1V230M236.5 194.6V222.5M204.5 208V226.1M205.5 208V243.2M97.5 221.7V264.3M387.5 225.9V290.4M122.5 217.3V232.7M177.5 208V282.5M129.5 216.1V233.8M444.5 229.8V248.7M323.5 214V231.5M296.5 207V216.7M347.5 215.9V235.9M446.5 225.5V242.5M365.5 216.6V227.8M316.5 212.3V272.1M228.5 208V225.5M318.5 212.7V248.8M525.5 217.8V243.4M341.5 218.1V277.7M300.5 210.5V237.7M481.5 225.5V239.3M114.5 218.7V256.2M118.5 215.6V224.5M438.5 224.1V238.8M505.5 230V258.6M113.5 219V240.1M101.5 221.1V247.8M95.5 222.2V235.8M344.5 218.8V234.6M151.5 209.1V220.7M337.5 217.2V322.9M383.5 225.3V260M97.5 221.8V248.7M473.5 230V262.1M202.5 203.2V227.9M334.5 216.5V242.8M246.5 208V234.5M242.5 203V226.8M268.5 205.9V226.6M92.5 212V236.1M279.5 205.6V221.2M207.5 203.9V226.9M248.5 208V302.5M162.5 207.7V230.4M238.5 208V233.6M398.5 227.8V346.5M523.5 230V256.3M177.5 208V223.2M472.5 221.8V238.4M361.5 210.1V229.9M135.5 203.5V227.9M97.5 221.8V251M479.5 230V274M193.5 208V270.4M137.5 214.5V225.2M379.5 224.7V287M401.5 225.5V246.3M484.5 230V285.6M311.5 206.6V231.6M228.5 208V221.7M231.5 207.2V219.9M181.5 208V342.1M370.5 223.3V295.9M505.5 230V258.4M128.5 201.7V229M261.5 208.5V287.2M245.5 208V236.1M126.5 216.7V277.3M352.5 214.6V229.4M523.5 230V251.5M212.5 208V268.9M410.5 228.4V245.3M487.5 230V272.3M210.5 205.9V232.5M495.5 230V255.3M420.5 228.8V276.3M375.5 224V269.5M176.5 208V221.9M213.5 207.3V224.8M135.5 214.9V233.1M485.5 230V258M446.5 229.5V237.9M129.5 216.2V295.3M324.5 214.1V234.4M184.5 208V240.1M427.5 229.1V273.3M343.5 218.4V276.1M506.5 230V272.5M410.5 220.5V233.3M135.5 201.5V224.5M255.5 208.2V235.3M344.5 218.7V239.1M492.5 230V282.1M254.5 204.7V216.9M173.5 208V225.3M215.5 208V235.5M200.5 208V279.9M158.5 210.2V234.2M242.5 208V268.2M200.5 195.1V221M315.5 212.1V248.3M484.5 230V248.9M510.5 230V244.7M161.5 209.8V239.5M341.5 218V245.7M387.5 222.7V235.1M158.5 209.6V229.9M324.5 214.2V317.2M179.5 208V239.8M251.5 196.4V219.1M233.5 207.4V229.4M449.5 230V302M194.5 208V249.8M328.5 205.7V226.5M348.5 219.7V267.6M236.5 203.9V227.8M499.5 230V256.1M237.5 208V217.1M234.5 200.2V228.2M395.5 227.3V295.6M305.5 210.7V261M409.5 228.4V284.7M158.5 209.2V236.8M156.5 206V214.3M414.5 216.9V238.6M261.5 202.3V227.1M468.5 230V244.8M193.5 208V224.8M196.5 208V223M470.5 230V263.2M250.5 208V247.9M139.5 208.2V226.8M187.5 208V234.5M429.5 220.1V240.7M207.5 204.1V224M335.5 214.6V226.6M458.5 230V250.3M359.5 221.5V272.8M422.5 228.9V266.1M520.5 224.3V241.1M222.5 198.4V222.3M476.5 230V261.2M333.5 216.2V250.6M179.5 206.2V218.2M149.5 199.8V222.7M235.5 193.3V220.6M151.5 209.7V237.4M430.5 224.6V239.7M336.5 216.8V232M110.5 213.8V228.2M477.5 230V254.7M353.5 218.2V245.9M285.5 203.2V217.4M153.5 206.7V231.7M297.5 210.3V225.2M494.5 230V270.9M348.5 219.6V243M293.5 206.8V231.5M358.5 221.4V241.4M333.5 203.6V226.9M365.5 222.5V247.3M178.5 208V223.7M156.5 210.7V229.8M96.5 214.6V240.2M457.5 230V260.8M92.5 222.7V327.4M203.5 198.2V218.2M348.5 219.7V234.3M310.5 198.3V224.8M487.5 228.7V249.9M184.5 208V262.9M141.5 213.8V239.6M161.5 202.6V215.3M310.5 211V245.9M219.5 198.2V219.9M291.5 210V237.6M393.5 227V268.2M232.5 208V237.3M383.5 225.4V253.8M99.5 221.4V261.7M331.5 215.7V237.7M490.5 222.5V248.9M502.5 228.8V238.8M342.5 216.7V229.3M523.5 230V301.1M194.5 208V233.1M221.5 203.1V217.8M288.5 209.9V246.1M314.5 211.9V276.8M451.5 230V252.3M287.5 209.9V238.5M112.5 216.8V241M398.5 227.8V257.4M188.5 208V223.3M479.5 228.4V246.8M184.5 201.5V223.8M221.5 208V229.3M151.5 211.7V245.3M224.5 206V222.4M355.5 219.9V246.6M208.5 195.8V218.4M112.5 219.2V322.5M348.5 219.8V245.4M414.5 218.7V240M138.5 214.2V281M277.5 209.4V239.8M121.5 217.6V233.5M98.5 220V236.1M255.5 208.3V270.9M217.5 207.3V221M476.5 230V262.7M96.5 221.9V245.9M375.5 224.1V263M413.5 228.6V257.9M274.5 201.8V223.2M311.5 211.1V239.8M199.5 208V247.8M202.5 201.5V222.1M114.5 209.8V231.7M489.5 230V301.6M103.5 220.7V243.9M151.5 211.7V248.8M409.5 228.4V258.8M292.5 210.1V250.2M316.5 212.2V259.2M220.5 206.8V233.3M161.5 209.6V239.4M442.5 222.5V239.3M145.5 203.2V219.2M221.5 203.7V214.3M421.5 214.4V241.9M222.5 201.1V222.6M509.5 230V258.7M168.5 198.5V219.1M323.5 213.8V238.2M327.5 205.1V228M311.5 196.8V222.5M431.5 229.3V283.2M111.5 214.6V229.6M331.5 211.1V229.2M438.5 229.5V293.9M113.5 214.9V233.1M331.5 215.7V251.5M284.5 209.7V235.8M269.5 208.9V234.9M327.5 214.8V227.3M365.5 222.5V246.1M400.5 228V239.9M486.5 222.8V239.5M379.5 224.8V241.7M530.5 230V310.3M383.5 225.4V267.3M209.5 208V218.8M155.5 210.8V236.7M122.5 217.4V245.8M209.5 200V224.8M143.5 205V220.3M391.5 226.7V289M394.5 227.1V246.2M360.5 220.7V238.1M259.5 208.5V237.6M295.5 210.2V230.7M205.5 203.4V217.4M495.5 219.9V236.3M97.5 221.7V243.9M232.5 208V240.3M343.5 218.4V253.9M170.5 202.6V227.1M466.5 230V298.1M302.5 210.6V300.2M254.5 208.2V263.3M118.5 210.7V230.3M214.5 208V228.1M350.5 215.6V228.3M214.5 206.2V220.9M110.5 219.4V244.7M346.5 215.1V233.9M224.5 208V265.4M463.5 229.2V248.1M395.5 227.3V267M408.5 228.3V241.1M482.5 230V244.2M447.5 229.9V282.4M235.5 203.2V222.8M341.5 218V241.1M204.5 204V223.6M179.5 208V231.8M181.5 208V227M139.5 214V241.3M196.5 208V234.5M189.5 203V221.9M386.5 225.9V255.9M201.5 208V251.9M111.5 219.3V250M276.5 209.3V232.1M179.5 208V239.9M394.5 223.8V233.1M188.5 208V233.2M336.5 216.8V241.5M168.5 208.3V262.6M303.5 198.1V219.5M472.5 230V260M224.5 208V230M322.5 208.2V221M283.5 209.7V262.1M121.5 217.5V239.3M100.5 221.4V269.9M461.5 230V266.5M240.5 208V271.2M392.5 226.9V245.7M272.5 209.1V236M459.5 230V261.3M176.5 208V245.5M303.5 210.7V258.7M332.5 213.3V240.1M440.5 229.6V263.7M103.5 220.7V321.8M250.5 208V232.6M300.5 210.5V242.6M350.5 220V246.7M153.5 211.4V223.6M330.5 215.4V236.3M396.5 222.1V242.7M413.5 228.5V248.6M189.5 208V263.6M284.5 209.7V226.5M222.5 208V267.2M261.5 194.5V221.4M250.5 195.7V218.6M506.5 224.7V235M96.5 221.9V237.5M507.5 230V240.7M105.5 220.4V248.1M125.5 204.7V227.9M181.5 208V240.6M217.5 208V284M468.5 230V242.6M461.5 230V260.9M502.5 230V256M262.5 203V226.9M97.5 221.7V281.5M366.5 221.9V233.7M486.5 221V243M138.5 214.3V235.2M455.5 230V268.4M91.5 214.5V233.7M413.5 228.5V247M308.5 210.9V245.4M490.5 217.5V241.2M475.5 230V269.2M111.5 219.3V245.1M310.5 211V236.5M197.5 208V279.6M284.5 209.7V236.5M120.5 202.8V230.5M249.5 208V249.4M270.5 209V250.2M92.5 214.4V238.3M299.5 209.3V225.1M484.5 230V281.2M117.5 203.3V230.5M506.5 230V259.9M306.5 205.1V226.1M183.5 208V236.1M517.5 230V264.1M299.5 206.7V215.9M283.5 209.6V231.9M256.5 208.3V224.9M478.5 230V247.3M148.5 212.4V241.8M183.5 208V249.9M215.5 208V246.3M118.5 218.1V272.3M462.5 222.3V233.9M305.5 210.8V239.3M355.5 217.7V228.9M480.5 224.9V244.8M308.5 203.7V230.6M212.5 192.8V219.7M324.5 213V232.1M311.5 211V229.7M222.5 208V249.4M192.5 208V226.9M248.5 203.5V217.8M414.5 228.6V259.5M163.5 209.3V237.2M529.5 228.7V237.5M194.5 204.2V227.2M210.5 208V233.2M145.5 213V253M263.5 200.6V215.9M254.5 197.4V218.4M390.5 226.6V293.2M485.5 230V259.1M200.5 208V233.6M447.5 225V244.4M226.5 195.8V221.8M269.5 209V315.6M147.5 199.8V225.3M483.5 230V271.3M255.5 206.5V228.6M399.5 227.9V242.5M102.5 216.3V234.1M397.5 227.6V245.3M190.5 208V256M289.5 209.3V230.2M387.5 226V250.4M166.5 208.8V219.1M322.5 212.5V223.1M458.5 230V264.1M162.5 209.4V285.4M296.5 203.7V213.2M171.5 208V227.4M154.5 204.8V219.3M306.5 210.8V237.9M291.5 209.3V218.3M374.5 217.8V227.7M468.5 230V249.5M401.5 228.1V236.8M238.5 208V249.8M304.5 208.9V217.4M387.5 226V295.4M460.5 230V270.2M391.5 216V237.3M312.5 211.3V231.7M149.5 212.1V234.8M473.5 227.9V239.7M214.5 208V220.1M269.5 208.9V229.8M480.5 230V309M182.5 208V235.4M493.5 230V293.1M191.5 207.5V227.8M129.5 205.3V228.2M316.5 210.5V235M440.5 229.6V253.3M268.5 208.9V329.1M461.5 230V262.1M265.5 208.8V240.3M449.5 230V258M140.5 212V223.4M215.5 206.5V225.4M144.5 202.6V230M416.5 228.7V259.4M297.5 210.3V274.1M379.5 224.7V250.4M195.5 206.4V220M414.5 228.6V280.1M527.5 230V264.7M125.5 216.8V311.5M231.5 208V230M473.5 230V262.3M465.5 229.4V243.7M474.5 230V260.2M190.5 198.6V218.4M338.5 214.6V225.4M128.5 204.1V227.6M280.5 200.7V214.5M344.5 209.3V226.4M204.5 208V233M276.5 207.1V224.9M252.5 208.1V226.5M128.5 212.9V227.3M121.5 217.6V240.5M434.5 229.4V276.8M92.5 222.8V240.7M524.5 223.7V237.3M111.5 119.9V131.3M477.5 118.2V141.9M357.5 85.3V109.5M132.5 118V133.5M402.5 115.6V128M115.5 113.7V133M369.5 103.7V112.9M335.5 75.7V105.8M405.5 108.3V124.9M132.5 117.1V125.9M490.5 127.6V141M504.5 119.2V135.4M524.5 133.2V141.3M428.5 121V133.5M228.5 96.8V120.6M521.5 128.1V148.5M361.5 102.3V111.2M407.5 108.4V130.5M381.5 104.3V119.7M181.5 65.6V114.4M466.5 119.9V133.1M375.5 99.4V115.2M188.5 98.4V117.3M257.5 95.5V111.3M154.5 93.8V121.9M281.5 97.7V114.1M526.5 126.1V144.3M259.5 90.4V106.8M264.5 89.9V111.1M444.5 112.3V132.2M127.5 109.5V129.5M143.5 98.6V123.4M419.5 120.5V132.2M148.5 108.8V128.1M359.5 92.7V109.8M450.5 126.4V136.7M338.5 83.1V106.4M126.5 85V124.6M181.5 108.3V118.3M328.5 78.9V105M510.5 111.3V135.7M378.5 65.9V116.4M397.5 104.5V123.2M352.5 91.8V108.7M234.5 84V108.3M358.5 93.7V110.9M95.5 102V126.7M273.5 73.2V106.4M448.5 118.2V137.4M180.5 106.8V122.9M376.5 107.3V124.5M407.5 105.4V125.3M159.5 107.3V129.8M468.5 127.6V142.6M198.5 95.7V118.3M514.5 127V137.8M242.5 94.3V109.6M360.5 100V110.9M508.5 119V135.6M451.5 119.4V141.9M304.5 91.3V114.9M176.5 103V118.6M361.5 98V110.5M349.5 98.7V111.8M119.5 104.2V126.6M259.5 89.1V106.8M496.5 126.6V137.8M322.5 95.1V116.5M170.5 110.9V127.1M374.5 107.8V122.6M290.5 91V113.5M493.5 73.8V134.6M306.5 101.9V110.2M102.5 114.8V138.3M162.5 107V122.3M168.5 112V122.9M509.5 124.6V147.2M249.5 89V107.1M244.5 94.4V113.3M520.5 126.8V146.8M181.5 95.3V114.5M364.5 93.9V117.6M507.5 113.8V135.6M491.5 118.2V134.5M161.5 113V129.6M298.5 98.7V107M201.5 93.8V117.5M398.5 84.8V123.6M199.5 100.8V114.9M168.5 109.3V130.1M210.5 98.5V119.2M148.5 112.9V132.2M406.5 107.2V125M213.5 105.1V114.5M267.5 88.6V110.3M212.5 93.4V115.6M258.5 79.6V106.8M225.5 99.6V113.7M246.5 100.2V114.7M402.5 101.4V124.5M167.5 103.4V126.4M393.5 50.4V121.5M243.5 97.3V116.6M132.5 75.8V124.2M143.5 116.5V125.9M487.5 123V134.3M109.5 105.1V125.7M212.5 102.8V118.7M470.5 124.6V142.6M125.5 112.5V136.4M183.5 94.9V117.3M209.5 69.9V110.5M458.5 122.4V136.6M141.5 118.5V132M507.5 127.8V147M143.5 118.2V131.7M339.5 91.3V111.5M431.5 93.5V129M336.5 100.5V110.4M314.5 81.6V105.4M283.5 90.1V106.2M202.5 103.7V116.8M527.5 125.9V149.5M268.5 93.7V112.1M372.5 88.4V114.1M347.5 79.2V107.8M514.5 122.8V135.9M198.5 99.2V119.9M159.5 93.2V120.5M486.5 127.3V136.3M314.5 96.7V106.4M373.5 105.3V115.3M366.5 102.7V120.8M435.5 117.4V135.7M459.5 116.1V137.7M399.5 115.5V128.2M93.5 116.9V137.1M459.5 127.3V139.6M109.5 118.4V131.4M468.5 114.3V133.1M91.5 120.6V134.9M431.5 112.6V136.6M372.5 101.9V114.9M102.5 108.4V126.2M422.5 116.7V138.7M345.5 85.6V107.6M144.5 119.7V130.3M476.5 118.9V133.6M351.5 88.8V108.4M294.5 100.6V109.7M506.5 129V142.9M180.5 106.1V126.4M168.5 98.5V118.8M483.5 130.1V140.5M161.5 106.3V119.9M450.5 113.4V132M183.5 103V122M449.5 128.4V138.5M270.5 92.7V116.4M362.5 90V110.6M358.5 83.5V109.5M264.5 95.8V115.1M319.5 82.7V105.9M376.5 88.1V115.7M151.5 103V124.7M493.5 119.4V135.9M453.5 112.3V132.2M182.5 93V114.3M190.5 97V114.7M264.5 92.3V108.8M430.5 117.3V137.8M318.5 97.8V114.5M229.5 99V113.1M429.5 121.8V138.1M177.5 93.1V115.7M402.5 112.9V124.4M422.5 102.4V127.6M135.5 112.6V129.8M341.5 97.5V116.9M352.5 86.9V108.6M518.5 106.7V136.2M222.5 82.8V109.3M293.5 80.8V105.9M502.5 107.5V135.2M148.5 102.2V123.1M485.5 114.9V137.7M251.5 83.2V107M242.5 101.9V113.5M528.5 117V136.8M262.5 86.3V106.7M199.5 93.2V116M182.5 104.2V114.4M397.5 103.3V123.6M370.5 90.5V113.5M196.5 82.9V111.6M308.5 91.7V109.4M217.5 95.8V109.8M459.5 124.6V143.6M248.5 97.5V114M361.5 103.8V115.6M492.5 126.9V136.8M196.5 92.4V111.6M509.5 107.5V135.7M304.5 96.3V111.9M372.5 106.6V114.8M210.5 93.9V110.3M396.5 114.5V133.4M409.5 116.1V132.9M351.5 93.8V113.7M470.5 125.4V140.1M298.5 90.3V105.8M97.5 79.7V126.6M492.5 128.6V140.1M340.5 104.1V113.1M361.5 104.2V118M354.5 99.2V114.4M109.5 107.7V125.8M217.5 99.8V123.1M130.5 118V129.7M376.5 106.7V116.7M467.5 99V133M381.5 93.8V117.4M448.5 125.9V138.4M237.5 100.9V115.5M104.5 115.3V127.7M271.5 81.8V106.5M165.5 105.2V118.9M225.5 68.4V109.1M196.5 77.8V111.6M170.5 105.3V122.6M393.5 99.1V122.7M353.5 83.7V108.9M453.5 106.3V132.2M524.5 112.4V136.5M195.5 73.9V111.6M503.5 128.1V142M428.5 112.5V132.9M338.5 101.6V111.7M518.5 125V143.6M316.5 87.3V105.3M103.5 112.8V135.5M145.5 104.5V123.3M228.5 103.1V116.3M397.5 104V123.1M340.5 99.8V116.5M391.5 97.5V121M99.5 112.9V129.6M200.5 97.9V117.7M335.5 98.7V115.1M378.5 93.3V116.4M281.5 92.7V110.1M187.5 103.6V121.1M227.5 97.7V115.2M425.5 119.7V132.5M406.5 117.6V129.9M199.5 99.6V112.9M509.5 113.6V135.6M110.5 108.8V125.7M194.5 106.4V119M283.5 89.7V106.2M444.5 111.9V134.5M339.5 92.9V112.1M388.5 110.1V126.4M509.5 125.5V145M252.5 101.1V116.2M170.5 111.2V120M271.5 95.1V114.1M338.5 95V114.3M150.5 101.8V123M107.5 113.8V135.4M410.5 116.5V137M526.5 124V145.2M500.5 132.3V141.1M256.5 69.4V106.8M290.5 96.5V113.9M455.5 123.8V141.3M524.5 127.2V145M247.5 94.3V107.2M509.5 127.1V139.9M398.5 111.4V133.4M155.5 112V129.6M289.5 92.2V115.5M92.5 115.9V127.2M270.5 92.6V110M321.5 98V115.6M442.5 114.2V130.7M236.5 99.4V117.4M376.5 94.7V115.7M382.5 109.3V124.2M321.5 85.8V105.2M360.5 102.7V120.2M293.5 87V105.9M359.5 42.8V109.8M293.5 96.5V118M492.5 123.6V147.3M140.5 113.4V137M471.5 120.1V139.3M418.5 122.1V134.5M95.5 96.1V126.7M407.5 118.5V127.8M250.5 83.3V107M314.5 88.1V105.4M318.5 90.2V106.7M414.5 114.8V134.8M305.5 90V105.6M370.5 104V126M187.5 88V112.9M122.5 107.4V124.9M385.5 110.1V121.5M525.5 129.2V137.8M125.5 115.6V131.2M491.5 126.5V138.7M260.5 102.5V111.8M378.5 97.8V119M208.5 104.5V116.4M395.5 101.4V124.5M282.5 97.9V115.6M440.5 114.2V130.5M212.5 105.4V114.4M237.5 80.8V108.1M366.5 85.8V111.9M137.5 98.3V123.9M520.5 128.8V145.2M358.5 83.6V109.6M518.5 105.6V136.2M169.5 103.4V118.1M402.5 119.7V127.9M179.5 95.6V115.8M127.5 105.7V125M285.5 93.1V106.1M298.5 98V114.2M336.5 94.5V106.1M296.5 96.3V115.7M177.5 110.7V121.7M391.5 114.8V125.6M208.5 78.3V110.6M218.5 94V117.5M434.5 119.2V140.3M390.5 111.1V125.5M410.5 113.1V133.8M496.5 105V134.9M466.5 128.6V139.6M187.5 100.2V122.5M520.5 130V138.5M319.5 87.5V108.2M336.5 92.5V115.9M213.5 99.6V110.1M261.5 89.8V111.6M336.5 84.5V106M105.5 100.1V126M407.5 109.4V125.3M244.5 67.8V107.5M395.5 111.5V125.6M413.5 114.1V128.2M363.5 95.5V110.8M123.5 116.6V124.8M338.5 84.2V106.4M246.5 99.4V112.1M405.5 117.1V135.4M403.5 109.6V128.8M312.5 90.3V110.3M412.5 101.7V126M154.5 109.5V131.8M450.5 112.3V132M517.5 129.1V142.1M487.5 129.8V138.5M448.5 116.5V136.1M269.5 82.2V106.5M501.5 122.5V135.1M338.5 72.2V106.3M185.5 83.2V113.4M329.5 91V108.7M465.5 124.4V137.3M389.5 91.3V120.2M457.5 97.8V132.5M106.5 121.5V129.7M517.5 106.3V136.2M496.5 113.8V137.2M312.5 99.4V108.9M497.5 112.8V134.9M171.5 112V120.5M251.5 100.7V115.5M165.5 107V119.5M385.5 111.6V125.1M494.5 130.4V139.9M500.5 87.4V135.1M126.5 101.7V124.6M429.5 95.5V128.7M336.5 79.1V106.1M188.5 103.4V124.3M484.5 115.7V137.6M323.5 89.5V105.2M109.5 80.8V125.7M256.5 88V106.8M391.5 114.9V124M465.5 120.7V134.7M178.5 111.4V121.2M351.5 97.6V121.1M129.5 99.8V124.4M492.5 130.1V143.1M95.5 118.2V135.5M518.5 130V140.7M339.5 83.2V106.6M421.5 112.4V128.4M385.5 105.5V124.7M313.5 93.5V105.4M283.5 82.3V106.2M182.5 100V119.4M217.5 103.3V117.5M132.5 98.3V124.2M209.5 100.6V116.1M378.5 86V116.4M333.5 96.1V111.5M340.5 96.3V120M323.5 93.2V110.2M507.5 112.8V135.5M465.5 124.7V133.2M207.5 103.2V121.3M335.5 79.6V106M517.5 123.1V136.8M208.5 91.4V113.8M399.5 118.8V128.3M375.5 107.7V123.5M385.5 112.6V125.5M335.5 93.4V116.8M416.5 114.8V135.3M256.5 90.9V106.8M503.5 120.4V135.3M340.5 104.3V112.7M239.5 103.2V114.1M372.5 99.5V122.3M392.5 105.8V127.8M495.5 124.1V144.9M370.5 99.7V114.2M320.5 80.8V105.2M246.5 95.6V112.8M278.5 93.7V114.7M217.5 104.3V112.3M363.5 95.3V111M469.5 124.2V141.5M351.5 101.5V111.8M180.5 101V124M107.5 110.1V125.9M477.5 113.3V136.9M220.5 95.1V109.5M394.5 115.4V126.5M507.5 128V142.8M504.5 120.1V138.3M335.5 94.1V117.8M492.5 113.5V134.6M268.5 81V106.5M504.5 120.6V142.9M389.5 98.3V122M126.5 116.6V130.3M448.5 118.1V133.7M161.5 106.3V119.9M529.5 129.6V143.7M112.5 119V132.7M424.5 124.3V134.3M158.5 99.1V120.8M328.5 92.2V105M254.5 95.5V106.9M476.5 96.6V133.6M211.5 88.6V110.3M407.5 100.3V125.3M504.5 122.4V138.9M119.5 108V125.1M405.5 119.2V133.9M127.5 106.9V130.4M433.5 123.2V137.3M468.5 126.2V141.8M152.5 95.3V122.4M480.5 118.2V141.1M283.5 76V106.2M226.5 97V119.1M515.5 122.6V136M260.5 36.5V106.7M183.5 101.6V122.8M236.5 94.3V108.2M489.5 112.9V134.4M524.5 117.1V140.4M291.5 96.6V116.5M308.5 88.4V108.2M354.5 94.2V115.6M460.5 118.5V140.6M94.5 105.5V126.7M441.5 103.8V130.6M518.5 123.4V136.2M269.5 92.2V106.5M283.5 72.4V106.2M512.5 131.5V140.5M270.5 97.6V114.4M256.5 83.5V106.8M469.5 122.6V146.3M299.5 57.6V105.8M375.5 107.6V126.5M217.5 62V109.8M390.5 82V120.5M252.5 89.2V106.9M435.5 121.8V131.4M307.5 64.8V105.6M495.5 119.1V134.8M331.5 81.2V105.3M468.5 77.2V133.1M284.5 91V110.6M385.5 104.4V127.6M208.5 98.7V114.3M348.5 91.8V108.1M382.5 104.7V128.7M175.5 107.5V120.5M330.5 49.3V105M496.5 122V141.4M179.5 112.7V120.9M305.5 69.7V105.6M459.5 92.8V132.6M278.5 97.4V106.3M104.5 108.8V130.5M322.5 83.1V105.7M294.5 89.6V109.8M499.5 114.9V135.8M383.5 99.9V117.9M432.5 117.1V138M252.5 94.1V109.5M485.5 120.3V134.9M455.5 94.3V132.3M131.5 116.7V132.1M381.5 107.4V120.4M488.5 129.6V141.9M377.5 73.8V115.8M518.5 129.2V143.3M205.5 100.8V120.9M349.5 65V108.2M325.5 94.9V115.7M220.5 97.6V119.1M434.5 123.8V137.6M280.5 100.5V114.4M376.5 98V119.4M435.5 121.5V132.4M410.5 102.6V125.8M135.5 117.4V133.8M115.5 104.5V125.4M451.5 120.6V139.7M377.5 106.2V124.9M156.5 113.8V125.6M148.5 119.6V128M309.5 94.9V118.1M169.5 107.3V129.7M500.5 121.6V137.6M189.5 99.5V118.1M506.5 131.7V141.1M405.5 98.4V125M335.5 95.9V113.3M386.5 100.1V119.3M395.5 118V129.5M216.5 94.8V109.8M305.5 88.8V112.2M120.5 90.8V125M112.5 119.5V130.4M506.5 121.7V142.8M465.5 116.9V137.9M422.5 114.6V127.6M136.5 81.4V123.9M365.5 95.2V111.6M405.5 115.1V128.4M280.5 89V106.2M257.5 84.9V106.8M410.5 99.8V125.7M95.5 109.9V126.7M298.5 101.2V110.8M203.5 98.8V119.5M286.5 98.3V111.4M334.5 96.6V108.9M276.5 91.3V109.5M476.5 105V133.6M479.5 121.9V144.5M425.5 105.7V128M440.5 112.6V133.3M311.5 99V112.5M210.5 101.8V116.7M449.5 117.8V132M142.5 113.1V125.1M352.5 88V108.6M369.5 81.2V113.1M139.5 114V130M180.5 82.2V114.7M386.5 111.7V121.5M468.5 117.6V133.1M262.5 101.5V110.1M324.5 93.6V116.2M402.5 96.3V124.4M346.5 95.9V112.6M294.5 95.5V114.3M371.5 86.7V113.9M403.5 110V133.7M443.5 117.6V141.3M337.5 91.2V106.3M381.5 112.7V122.9M176.5 100.1V118.5M162.5 97.2V119.8M447.5 121.7V139.4M420.5 228.8V364.1M423.5 228.9V304.5M425.5 229V363.9M428.5 229.1V357.2M429.5 229.2V365.1M432.5 229.3V361.6M434.5 229.4V348.4M436.5 229.4V311.4M438.5 229.5V363.1M440.5 229.6V351.8M442.5 229.7V351.8M445.5 229.8V307.3M447.5 229.9V365.9M449.5 230V366.4M451.5 230V340.3M453.5 230V314M455.5 230V366.4M458.5 230V322.4M461.5 230V366.1M463.5 230V299.5M465.5 230V304.9M467.5 230V361.8M468.5 230V318.7M471.5 230V352.5M473.5 230V302M476.5 230V362.7M477.5 230V321.5M480.5 230V366.9M482.5 230V364.8M484.5 230V364M487.5 230V312.5M489.5 230V366.3M491.5 230V304.9M493.5 230V291.8M496.5 230V346M497.5 230V330.3M499.5 230V366.1M502.5 230V363.2M504.5 230V362M506.5 230V337.7M509.5 230V363.1M511.5 230V362.6M513.5 230V363.5M515.5 230V313.4M517.5 230V365.8M519.5 230V364.1M522.5 230V362.8M523.5 230V328.9M526.5 230V317.1M528.5 230V355.1M536.5 435.5V444M536.5 355.2V444M537.5 353.6V444M538.5 354.3V444M539.5 357.6V430.7M540.5 357.2V444M541.5 353.8V398.3M542.5 359V444M548.5 354.1V444M549.5 354.2V367.5M552.5 356.2V391M558.5 357.2V444M559.5 357.3V382.1M562.5 357.5V390.2M565.5 356.3V444M569.5 356V444M572.5 355.7V433.1M577.5 400.7V444M580.5 353V391.8M583.5 354.2V444M586.5 355.3V367.5M590.5 353.1V391.8M605.5 357.7V414.5M608.5 358V444M610.5 355.3V432.3M617.5 358.7V361.8M634.5 358.8V390.2M634.5 355.9V444M635.5 356.2V390.2M636.5 353.5V444M637.5 355.2V390.2M638.5 355.9V429M639.5 356V390.2M640.5 357.5V444M642.5 358.9V444M645.5 357.8V398.3M646.5 354.8V383.7M650.5 357.8V444M651.5 356.8V414.5M659.5 359V366.7M662.5 354V444M666.5 400.7V444M668.5 358.1V444M669.5 357.4V444M670.5 353.7V398.3M678.5 355.9V416.9M683.5 353.9V402.3M685.5 355.2V427.4M691.5 354.5V444M693.5 358.5V365.9M697.5 355.8V444M699.5 356V391.8M702.5 353.8V444M703.5 356.8V444M707.5 355.4V444M709.5 358.6V444M714.5 356.7V444M715.5 357.1V444M717.5 358.1V444M719.5 354.1V444M721.5 356.7V444M723.5 353.1V444M728.5 355.5V430.7M731.5 355.4V444M733.5 355.2V370.7M735.5 354.9V367.5M738.5 358.1V444M740.5 398.3V444M745.5 356.4V427.4M748.5 357.6V409.6M758.5 356.6V380.4M759.5 358.4V382.1M761.5 353.2V395.8M762.5 357.7V378.8M763.5 355V398.3M764.5 357.2V444M765.5 353.8V378.8M766.5 355V377.2M770.5 358.2V369.1M776.5 353.9V385.3M789.5 353.3V377.2M791.5 368.3V444M793.5 382.1V444M794.5 353.6V444M795.5 355.6V383.7M797.5 358.1V383.7M798.5 357.8V433.9M802.5 353.4V444M804.5 355.7V383.7M806.5 357.9V386.1M808.5 367.5V444M810.5 353.7V401.5M812.5 414.5V444M813.5 355.2V365.9M814.5 355.6V414.5M820.5 356.7V444M824.5 396.6V444M825.5 356.5V377.2M827.5 357.6V444M829.5 358.8V444M830.5 353.7V444M832.5 356.2V444M834.5 355.7V444M836.5 357.1V425.8M839.5 354.5V375.6M846.5 358.8V394.2M852.5 356.8V444M854.5 358.8V444M855.5 358.3V399.9M859.5 353.2V382.1M864.5 355.1V444M867.5 394.2V444M869.5 356.4V382.1M870.5 355.9V444M871.5 353.8V399.9M873.5 356.9V444M875.5 355.5V390.2M877.5 354.9V444M879.5 356.9V377.2M880.5 386.9V444M883.5 355.9V444M884.5 377.2V444M885.5 354.4V444M886.5 353.5V444M887.5 358.1V390.2M888.5 353.4V390.2M896.5 359V364.2M899.5 354.5V412M903.5 372.3V444M907.5 354.1V406.4M908.5 358.2V388.5M916.5 356.5V374M917.5 354.1V444M922.5 358.9V444M923.5 355.2V444M924.5 354.2V444M925.5 355.9V444M926.5 354.6V444M927.5 357.6V433.9M929.5 357.8V444M931.5 356.8V444M934.5 357.9V430.7M937.5 356.9V444M939.5 353.3V390.2M941.5 355.6V444M944.5 357V444M946.5 357.4V385.3M947.5 353.3V444M952.5 356.3V444M953.5 353.1V444M954.5 355.9V444M956.5 355.9V365.1M961.5 353.6V429M967.5 385.3V444M968.5 354.5V369.1M530.5 221.9V344.8M532.5 221.7V328.6M534.5 221.4V318.9M536.5 221V346.4M536.5 220.8V364.5M537.5 220.7V363.6M538.5 220.5V366.3M539.5 220.4V363.5M540.5 220.3V366.5M541.5 220V361.4M543.5 219.7V363.6M545.5 219.3V338.3M547.5 218.9V364.1M549.5 218.7V366.7M550.5 218.4V328.6M551.5 309.2V362.5M553.5 217.9V365.8M554.5 217.6V338.3M557.5 217.2V365.1M558.5 217V320.5M559.5 216.8V365.3M561.5 216.5V312.4M562.5 216.2V364.8M564.5 215.8V366.8M565.5 215.7V333.5M567.5 215.4V320.5M569.5 215V363M571.5 214.7V363.4M572.5 214.3V348M574.5 214.1V307.5M575.5 213.7V362.2M577.5 213.4V357.8M578.5 213.1V361.3M579.5 212.9V333.5M581.5 212.6V362.3M583.5 212.3V343.2M584.5 211.9V366.5M586.5 211.6V366M588.5 211.3V318.9M590.5 210.9V361.7M591.5 210.6V296.2M594.5 210V320.5M596.5 209.7V328.6M598.5 209.3V330.2M599.5 209V309.2M601.5 208.5V333.5M603.5 208.3V320.5M604.5 208V346.4M605.5 207.7V364.6M607.5 207.4V312.4M609.5 207V312.4M611.5 207V333.5M613.5 207V286.5M617.5 207V363.9M619.5 207V293M620.5 207V291.3M624.5 207V314M632.5 207V364.6M634.5 207V346.4M635.5 207V365M637.5 207V362.8M639.5 207V349.7M642.5 207V366.8M643.5 207V363.8M645.5 207V364.8M646.5 207V364.8M649.5 207V352.9M650.5 207V362.1M652.5 207V305.9M654.5 207V344.8M656.5 207V320.5M658.5 207V361.4M660.5 207V299.4M662.5 207V363.5M664.5 207V328.6M666.5 207V302.7M667.5 207V365.6M668.5 207V365.9M670.5 207V365.4M672.5 207V328.6M673.5 207V346.4M675.5 207V361.7M676.5 207V366.5M678.5 207V365.8M680.5 207V336.7M682.5 207V305.9M683.5 207V366.3M685.5 207V364.1M687.5 207V299.4M689.5 207V366.5M692.5 207.1V333.5M693.5 207.2V361.3M696.5 207.3V299.4M698.5 207.4V361.2M700.5 207.6V361.1M702.5 207.7V362.5M704.5 207.7V296.2M706.5 207.9V362.5M708.5 207.9V362.1M710.5 208V364.4M711.5 208.1V323.7M713.5 208.2V361.2M715.5 208.3V364.5M716.5 208.3V293M718.5 208.4V320.5M719.5 208.5V293M721.5 208.6V362M723.5 208.7V348M724.5 208.7V365.1M726.5 208.8V333.5M727.5 208.9V361.1M729.5 209V333.5M730.5 209V333.5M731.5 209.1V362.9M732.5 209.1V333.5M734.5 209.2V366.6M735.5 209.3V364.2M736.5 209.3V333.5M737.5 209.4V333.5M738.5 209.4V320.5M741.5 209.6V312.4M746.5 314V365.9M748.5 209.9V364.9M749.5 210V318.9M751.5 210.2V296.2M753.5 302.7V351.3M756.5 211.5V310.8M758.5 315.6V364.7M760.5 212.2V362.1M761.5 212.5V364.4M762.5 212.8V361.2M763.5 213.1V365.8M765.5 213.4V323.7M766.5 213.7V366.8M767.5 213.9V344.8M768.5 214.2V366.1M769.5 214.5V361.3M771.5 214.8V363M772.5 215V338.3M773.5 215.3V312.4M774.5 215.6V333.5M776.5 296.2V362.9M777.5 216.2V312.4M778.5 216.5V312.4M780.5 217V301.1M786.5 218.4V296.2M789.5 219V361.7M791.5 219.4V364.8M792.5 219.6V365.8M794.5 219.8V362.9M795.5 220V366.2M796.5 220.1V365.8M797.5 220.3V352.9M799.5 220.5V361.8M800.5 220.7V365.6M801.5 220.9V366.3M802.5 221.1V336.7M803.5 221.3V362.2M805.5 221.5V364.4M806.5 221.7V364.8M807.5 221.9V364.7M808.5 222.1V361.6M810.5 222.3V365M811.5 222.5V364.8M812.5 222.7V365.9M813.5 222.9V365.8M814.5 223.1V363M816.5 223.3V341.6M817.5 223.4V365.3M818.5 223.6V336.7M819.5 223.9V328.6M821.5 224.2V336.7M823.5 224.5V366.2M825.5 224.7V366.4M826.5 224.9V362M827.5 225.1V361.2M829.5 225.4V364.9M831.5 225.7V362.3M832.5 225.8V364.4M833.5 226.1V366.7M836.5 226.4V363.3M837.5 226.7V362.5M839.5 227V352.9M840.5 227V363.7M842.5 227.1V364.9M844.5 227.2V315.6M846.5 227.3V299.4M847.5 227.3V352.9M848.5 227.4V296.2M850.5 227.4V361.6M851.5 227.5V344.8M852.5 227.5V363.3M853.5 227.6V361.8M854.5 227.6V365M856.5 227.7V366M857.5 227.7V363.3M858.5 227.8V344.8M859.5 227.8V363.2M531.5 35V127.9M533.5 54.8V127.8M535.5 35V127.7M536.5 40.2V127.6M543.5 62.1V127.1M547.5 61.3V126.8M549.5 54.5V126.7M555.5 80.7V126.3M557.5 35V126.2M558.5 35V126.1M562.5 111.5V125.8M568.5 80.7V125.5M570.5 88.8V125.3M572.5 50.8V125.2M574.5 35V125M575.5 35V124.9M579.5 61.3V124.7M581.5 35V58.1M582.5 98.6V124.5M584.5 75.9V124.3M588.5 85.6V124.1M589.5 61.3V124M591.5 56.4V123.5M592.5 48.3V123.1M594.5 35V122.5M596.5 35V51.6M598.5 35V46.7M600.5 45.1V120.9M603.5 90.5V120.4M605.5 88.8V119.6M609.5 43.5V118.6M611.5 67.8V118.1M613.5 35V118M614.5 69.4V118M617.5 35V118M619.5 71V118M620.5 74.3V118M622.5 66.2V118M624.5 40.2V118M626.5 74.3V118M627.5 64.5V118M629.5 61.3V118M631.5 77.5V118M634.5 85.6V118M636.5 84V118M638.5 84V118M640.5 74.3V118M642.5 75.9V118M643.5 64.5V118M646.5 57.3V118M647.5 64.5V118M649.5 67V118M651.5 71V118M653.5 41.9V118M654.5 79.1V118M657.5 35V118M659.5 35V118M660.5 82.4V118M663.5 80.7V118M664.5 60.5V118M666.5 66.2V118M667.5 60.5V118M669.5 62.9V118M671.5 69.4V118M672.5 59.7V118M674.5 58.1V118M676.5 72.6V118M678.5 72.6V118M680.5 35V118M682.5 59.7V118M684.5 66.2V118M686.5 35V118M687.5 41.9V118M689.5 35V118M691.5 62.9V118M692.5 67.8V118M694.5 35V118M696.5 46.7V118M698.5 53.2V118M700.5 80.7V118M702.5 77.5V118M704.5 35V118M705.5 35V118M708.5 80.7V118M710.5 75.9V118M711.5 35V118M713.5 35V118M715.5 64.5V118M717.5 35V118M719.5 35V118M720.5 35V118M721.5 35V118M723.5 35V118M726.5 67.8V118M727.5 61.3V118M729.5 62.1V118M732.5 79.1V118M733.5 72.6V118M736.5 67.8V118M737.5 62.9V118M739.5 50V118M740.5 50V118M742.5 64.5V118M744.5 66.2V118M746.5 79.1V118M748.5 35V118M749.5 35V118M751.5 56.4V118M752.5 69.4V118M756.5 62.1V118M754.5 85.6V118M762.5 80.7V118M764.5 35V118M765.5 35V118M767.5 61.3V118M769.5 64.5V118M771.5 51.6V118M773.5 54.8V118M774.5 35V118M776.5 74.3V118M778.5 62.9V118M779.5 56.4V118M780.5 35V118M782.5 35V118M783.5 35V118M785.5 35V118M786.5 35V118M788.5 79.1V118M790.5 74.3V118M791.5 74.3V118M792.5 74.3V118M795.5 50V118M796.5 77.5V118M798.5 75.9V118M800.5 85.6V118M802.5 35V118M803.5 58.1V118M805.5 64.5V118M807.5 35V118M808.5 85.6V118M810.5 106.7V118M812.5 106.7V118M813.5 108.3V118M816.5 60.5V118M818.5 35V118M820.5 35V118.2M821.5 35V118.6M823.5 88.8V119.2M825.5 84V120.1M827.5 71V120.8M829.5 45.9V121.3M830.5 79.1V121.8M832.5 72.6V122.4M833.5 41.9V123M835.5 77.5V123.6M837.5 83.2V124.2M839.5 95.3V125M842.5 71V125.4M843.5 56.4V125.7M845.5 77.5V125.9M846.5 79.1V126.2M848.5 35V126.4M849.5 35V126.6M850.5 64.5V126.8M852.5 41.9V127.1M854.5 79.1V127.3M856.5 64.5V127.7M859.5 35V128.1M861.5 35V48.3M862.5 75.9V128.6M864.5 54V128.9M865.5 85.6V129.1M866.5 75.9V129.4M868.5 85.6V129.6M869.5 74.3V129.9M871.5 90.5V130.1M875.5 111.5V130.8M877.5 73.5V131.2M879.5 90.5V131.4M883.5 51.6V132M885.5 100.2V132.4M887.5 92.1V132.6M889.5 90.5V133M890.5 55.6V133.1M892.5 85.6V133.2M894.5 69.4V133.3M896.5 98.6V133.4M899.5 77.5V133.6M901.5 88.8V133.7M902.5 83.2V133.8M905.5 91.3V134M907.5 83.2V134.1M909.5 108.3V134.3M912.5 114.8V134.4M918.5 105V134.7M920.5 44.3V134.9M922.5 35V45.9M924.5 79.1V135.1M924.5 35V77.5M926.5 46.7V135.3M928.5 41.9V87.2M929.5 35V135.4M930.5 35V105M932.5 67.8V135.6M935.5 98.6V135.8M936.5 105V135.9M946.5 100.2V136.5M948.5 47.5V136.6M950.5 35V50M954.5 35V137M956.5 90.5V137.1M959.5 35V49.2M958.5 108.3V137.2M960.5 101.8V137.4M962.5 96.9V137.5M966.5 62.9V137.7M968.5 62.9V137.8M969.5 45.1V137.9M767.5 104.2V120.4M625.5 37.5V113.4M639.5 79.1V111.2M675.5 82.7V108.2M731.5 71V105.9M566.5 107.6V124.6M861.5 123.4V146.7M785.5 99.9V117.6M662.5 98.1V123.7M564.5 119.2V132.3M866.5 108.8V131.3M588.5 110.5V133.3M589.5 116V134.2M588.5 106.1V123.1M566.5 120.1V137M929.5 123V147.4M648.5 104.7V116.9M665.5 103.5V113.5M896.5 132.7V150.8M803.5 111.5V124.7M612.5 113.1V138.8M721.5 77V106.2M919.5 121V149.8M695.5 89.3V115.8M843.5 113.8V136.1M573.5 120.6V132.7M850.5 115.9V142M872.5 120V144M893.5 116.7V141.2M827.5 99.2V122.5M693.5 100.5V126.7M558.5 122.9V137.4M758.5 101.8V124.6M863.5 124.6V143.9M614.5 117.5V132.9M647.5 82.4V110.5M766.5 66.4V105.1M859.5 122.3V141.1M924.5 122.7V138.8M585.5 124V141.2M611.5 103.8V130.6M882.5 101.4V130.8M814.5 111.1V134.1M847.5 119.3V148.9M969.5 131.2V144M943.5 119.3V138.5M901.5 136.1V146.2M872.5 124.8V141.5M704.5 101.2V130.1M812.5 68.2V114.4M611.5 113.2V137.9M864.5 120.3V147.4M863.5 126.4V145.6M847.5 96.3V125.3M726.5 99V116.7M696.5 102.3V118.1M715.5 89.2V108.4M545.5 114.8V127.1M902.5 134V148.8M769.5 99V113.7M701.5 83.3V113.1M771.5 102.3V117.7M848.5 121.6V134.7M698.5 101.8V130.5M895.5 136.8V147.9M935.5 129.5V158.7M700.5 100.8V127.5M591.5 120.8V143.1M865.5 117.1V134.5M967.5 124.5V136.8M595.5 124.4V134.8M844.5 129.2V139.5M893.5 95.1V132.3M935.5 116.1V134.8M584.5 118.3V146.6M570.5 112.9V132.7M965.5 131.1V160.9M581.5 115.5V139.4M608.5 92.8V118M783.5 97.4V117.6M726.5 105.6V117.1M860.5 132.7V141.5M614.5 109.6V138.4M932.5 136.7V152.1M626.5 116.5V128.6M868.5 130.4V140.7M560.5 123.3V145.7M738.5 104.7V122.8M544.5 109.2V126M668.5 97.3V121M667.5 100.2V113.9M847.5 120.5V145.6M730.5 101.7V120.5M555.5 111.8V131.5M968.5 131.6V149.6M921.5 108.4V134M933.5 128.1V157.9M638.5 106.2V131.8M703.5 105.1V114.6M630.5 86V112M585.5 117.1V130.3M545.5 130.8V141.1M751.5 94.6V106.9M584.5 125.3V138.8M608.5 111.4V140.5M909.5 105.2V133.2M743.5 94.1V120.8M611.5 94.9V118.3M825.5 120.1V135.1M647.5 106.7V123.3M762.5 105.9V123.6M654.5 105.3V119.8M757.5 93.9V111.2M807.5 106.2V131.2M766.5 75.4V105.1M704.5 106.4V120.5M878.5 124V142.5M914.5 119.5V142.4M609.5 116.2V138.5M590.5 117.7V141.7M580.5 122.3V132.6M961.5 130.9V142.9M944.5 102.5V135.4M631.5 83V111.9M957.5 122.8V147.4M621.5 106.7V136.5M753.5 97.9V121M749.5 107.1V115.9M933.5 131.1V145.7M548.5 122.8V148.5M669.5 102.2V130.5M794.5 89.4V110.5M559.5 106.4V125M634.5 113V128.8M735.5 93.2V115.1M918.5 127.2V154.3M865.5 112.9V128.4M895.5 111.6V132.4M865.5 118.2V128.1M841.5 124.7V135.7M904.5 128.9V155.6M830.5 109.4V131.1M854.5 102.1V131.9M663.5 108.9V118.4M604.5 94.8V119M863.5 97.9V127.8M603.5 114.2V136.8M935.5 106.5V134.8M793.5 110.3V127.1M675.5 93.8V115.8M942.5 128.7V151.8M598.5 119.9V137.8M756.5 96.3V108.4M570.5 92.5V124.3M955.5 135V153.3M783.5 95.6V119.4M884.5 118.5V138.3M654.5 115V124.8M883.5 130V143.2M839.5 127.7V137M813.5 89.6V114.7M948.5 131.1V143.5M721.5 106.4V123.5M713.5 103.6V118.7M835.5 87.8V122.4M897.5 122.2V148.2M677.5 102.9V111.4M825.5 89.8V118.8M622.5 100.5V126.3M773.5 96.2V115.9M868.5 116.9V134.5M559.5 119V132.9M850.5 94.5V125.8M537.5 122.4V135.3M952.5 102.5V135.8M736.5 88.8V114.9M710.5 102.5V117.5M847.5 102.3V125.3M760.5 100.7V128.3M852.5 110.1V126M567.5 110.1V132.6M778.5 95.7V122.6M776.5 103V128.6M940.5 119.2V146.1M547.5 113.3V132M729.5 94.6V121.1M808.5 110.1V128.3M772.5 99.8V113.6M563.5 113.3V131.9M791.5 94.2V109.6M628.5 85.9V112.6M616.5 106.7V133M917.5 111.9V133.7M617.5 116.1V127.7M730.5 82.6V106M860.5 120.9V139.1M841.5 112.7V141.7M774.5 87.7V116.4M885.5 125.7V155M735.5 80V105.9M803.5 102.3V125.2M890.5 132V145.9M828.5 110.2V126.4M812.5 91.6V114.5M709.5 80.3V106.6M776.5 107.5V121.5M704.5 110.8V120.6M857.5 115.8V130.7M697.5 104.6V119.7M735.5 92.9V116.9M862.5 112.1V127.7M752.5 105.5V118.5M679.5 89.3V117.1M894.5 125.4V152.2M698.5 103.8V125.7M902.5 122.5V142.8M876.5 107.1V129.8M727.5 90.9V118.1M844.5 102V126.7M545.5 116.8V136.1M702.5 108.3V119.8M909.5 131.5V144.2M785.5 43.5V107.6M775.5 105.7V121M822.5 112.1V121.4M828.5 115.6V132.6M787.5 91.5V109.4M715.5 102.2V116.5M611.5 116.3V132.8M659.5 92.6V109.6M659.5 110.3V126.6M720.5 88V109.6M970.5 92.3V136.9M685.5 111V123.4M727.5 97.9V123.4M694.5 105V124.3M786.5 107V125.1M947.5 109.5V135.6M921.5 120V144.6M696.5 97.7V124.3M647.5 107V132.9M919.5 117.1V139.8M747.5 74.2V105.5M832.5 119.4V130.8M562.5 117.3V140.7M911.5 127.8V141.4M668.5 105.9V119.6M748.5 100.8V111.5M617.5 96.7V115.5M715.5 103.3V111.7M894.5 124.4V146.8M894.5 124.7V149.2M738.5 101.5V126.6M868.5 119.1V129.9M732.5 89.6V111.7M694.5 101.7V128.1M770.5 104V112.8M619.5 101.4V115.1M669.5 104.6V118.5M841.5 119.9V138.1M869.5 120.7V132.4M555.5 104.1V125.3M852.5 117.6V133.2M890.5 109.3V132M726.5 95.7V115.4M557.5 98.6V125.1M830.5 115.1V128.5M638.5 94.2V117.8M813.5 105.2V129.3M696.5 98.6V122.5M810.5 114.5V124M644.5 93.3V122.1M740.5 101.2V121.9M761.5 107.4V121.3M808.5 87V112.7M619.5 113.9V133.3M953.5 120.8V140.2M657.5 111V124.5M665.5 107V120.8M643.5 112.4V128.4M560.5 113.7V138.8M716.5 94.7V112.4M870.5 129.1V137.9M842.5 95.4V124.5M616.5 105.6V118M590.5 123V131.3M671.5 87.1V116.6M868.5 131.3V145.8M745.5 95V114.8M936.5 131.1V147M819.5 120.9V130M803.5 99.9V127.8M868.5 118.7V147.3M860.5 123.8V135.9M681.5 107.8V125M643.5 67.6V110.9M723.5 109.9V121.6M745.5 100.7V123.2M592.5 77.7V122.1M724.5 100V124.7M812.5 111V133.8M590.5 108.2V122.8M591.5 116.7V129.8M606.5 88.6V118.3M655.5 92.8V116.3M953.5 120.5V137M541.5 125.6V143.5M611.5 88.8V117.1M603.5 100.7V119.3M739.5 78.6V105.8M537.5 118.4V132.8M732.5 98.6V128.4M602.5 87.7V119.6M649.5 103.5V112.5M879.5 93.7V130.3M611.5 115.5V137.8M802.5 82.8V110.6M709.5 99V125.5M714.5 107.2V119.5M889.5 121.9V145.4M601.5 118.4V129.9M936.5 119.3V146.7M923.5 80V134.1M824.5 116.2V140.3M552.5 117.7V144.2M822.5 83.3V117.8M794.5 104.2V114.2M870.5 110.1V131M624.5 108.4V127.4M949.5 124.5V143.1M920.5 128.8V154M580.5 106.4V124.6M669.5 79.9V108.7M544.5 99.2V126M896.5 133V151M933.5 114.3V134.7M966.5 125.6V137.1M799.5 97.1V111.6M823.5 113.4V127.2M828.5 76.2V120.2M781.5 93.5V118.7M949.5 106.4V135.7M797.5 106.8V119.3M678.5 94.4V114M756.5 91.9V106.7M538.5 120.1V133.4M849.5 64.1V125.5M835.5 101.1V122.7M715.5 90.5V113.3M905.5 124.7V154.1M862.5 111.1V137.8M678.5 72V107.9M564.5 121.2V139.1M588.5 111.4V128.6M611.5 117.7V131M664.5 84.8V113.7M727.5 111.2V120.7M938.5 137.7V150.2M653.5 92V114.5M925.5 127.6V148.6M829.5 102.9V120.6M906.5 124.7V153.3M707.5 97V114M531.5 114.4V135.5M876.5 131.1V141.1M638.5 102.9V130.5M593.5 115.7V125.9M882.5 122.2V138.8M832.5 106.7V134.2M623.5 105.8V134.6M648.5 86.7V114.6M943.5 130.7V156.9M648.5 106.1V119.2M839.5 115.3V124M587.5 98V123.1M889.5 134.4V143.8M582.5 106.9V136.1M757.5 83.9V105.3M545.5 109.2V125.9M772.5 106.7V119.1M903.5 131.9V140.2M567.5 123.3V142.3M651.5 103.4V113.1M866.5 123.2V151M798.5 85.3V109.6M668.5 108.4V124.5M807.5 106.6V133.1M730.5 75.3V106M909.5 108.6V133.3M659.5 101.9V128.5M863.5 123.7V152.1M810.5 106.5V128.1M856.5 128.2V144M696.5 91.6V119.4M849.5 118.7V147.5M837.5 87.8V123.4M700.5 101.1V111M542.5 118V145.1M954.5 131.1V153.7M844.5 100.9V124.8M620.5 112V132.5M852.5 124.5V139.3M653.5 104.3V132.5M736.5 64.5V105.8M908.5 132.2V144.5M727.5 107.9V116.8M657.5 94.9V110.5M664.5 101.9V131.7M564.5 114.3V127.1M627.5 111.2V129.3M649.5 105.4V134.8M606.5 76.5V118.4M558.5 111.9V126.4M735.5 88.6V114.7M624.5 113.2V123.3M855.5 121.7V150.1M936.5 130.6V157M650.5 107.8V119M782.5 106.2V127.2M753.5 82.1V105.4M563.5 101.8V125.1M585.5 112.8V127.6M919.5 102.5V133.9M739.5 108.6V121.9M884.5 133V147.4M559.5 109.7V125M792.5 98.1V126M911.5 116.4V144M912.5 133.3V149.2M533.5 118.2V141.5M760.5 104.2V122.9M692.5 103V117.1M864.5 123.8V139.5M562.5 96.2V125.5M647.5 74.4V110.6M888.5 115.3V136M737.5 93.6V122.4M729.5 106.9V121.4M956.5 109.3V136.1M671.5 52.8V108.5M548.5 123.4V147.5M703.5 93.3V119M597.5 112.9V139.3M566.5 103.4V132.9M780.5 99.6V123.2M950.5 114.7V144.2M785.5 88.2V107.6M815.5 91V115.3M672.5 103.2V115.9M781.5 109.4V119.3M861.5 111.8V129.4M789.5 105.1V128.9M883.5 100.1V131.1M772.5 103.5V111.9M617.5 108.3V137M786.5 104.6V118.1M746.5 106.5V121M603.5 109.5V135.8M802.5 102V129.6M889.5 115V139.2M589.5 89.7V122.9M770.5 91V109.2M853.5 117.7V144M707.5 97.5V113.4M649.5 107.3V133M694.5 102.4V127.6M768.5 98.8V117.1M832.5 101.2V128.9M776.5 102.7V119.2M577.5 101.2V125.7M890.5 90.6V132.1M936.5 135.5V150.7M575.5 106.9V126.6M640.5 97.2V118.5M606.5 113V132.8M904.5 127.4V137.9M931.5 118.2V148M549.5 111.7V140.9M676.5 110.4V119.2M615.5 104.4V133.2M737.5 105V124.7M935.5 129.8V140.6M561.5 114.9V140.9M605.5 100.6V118.6M744.5 99.9V123.6M761.5 92.4V118.6M858.5 123.8V143.6M723.5 108.9V118M592.5 97.2V123.3M686.5 97.3V120.5M962.5 85.8V136.5M860.5 128.2V142.1M581.5 114.3V139.6M886.5 119.2V146.4M667.5 100.8V116.6M874.5 128.2V145.2M536.5 125.6V141M913.5 118.8V133.5M601.5 99.5V119.7M731.5 69.7V106M821.5 98.9V117.6M753.5 102.1V126.9M603.5 115.1V132.5M591.5 116V136.5M655.5 110.5V124.8M553.5 113V128.9M625.5 92.9V117.4M587.5 86V123.1M735.5 96.4V117.5M687.5 92.4V109.7M788.5 90.8V111M654.5 90.3V118M545.5 125.5V139.3M676.5 86.9V108.1M862.5 114.2V137.3M643.5 108.8V118.8M708.5 101.9V131M862.5 89.4V127.7M709.5 99.6V113M920.5 125.7V150.4M934.5 130V155.9M667.5 99.8V121.7M854.5 101.7V129.8M641.5 96.3V111M591.5 118.6V138.2M723.5 80V106.2M795.5 104.5V132.6M942.5 125.6V147.7M594.5 119.8V141.1M843.5 114.2V130.7M739.5 102.1V122.6M588.5 119.1V139.3M958.5 130.2V158.1M836.5 115.7V141.9M587.5 108.7V132.9M929.5 117.8V146.1M575.5 125.8V135.2M571.5 114.2V139.1M676.5 94.5V112.7M943.5 122.8V147.4M545.5 87.3V126M934.5 98V134.8M799.5 105.2V131.3M560.5 111.9V125M780.5 84.2V106.8M732.5 80.5V105.9M778.5 75V106.5M854.5 122.2V136.1M829.5 109.1V135.2M969.5 135.7V149.1M663.5 208V255.7M774.5 184.7V232.5M818.5 224.6V325M917.5 230V280.4M917.5 230V411.9M640.5 192.2V214.1M858.5 228.8V258.7M809.5 192.9V247.5M700.5 207.3V232.5M871.5 229.3V258.4M925.5 198.6V252.9M741.5 196.1V223.5M933.5 190.1V250M586.5 182.8V234.2M603.5 200.6V253.3M866.5 214.5V237.4M664.5 187V209.4M788.5 206.3V254.5M749.5 190.4V242.1M594.5 210.1V232.8M862.5 228.9V292.4M856.5 228.7V253.8M594.5 204.6V223.2M644.5 191.3V223.6M882.5 229.7V306.1M931.5 202.1V244.3M913.5 230V268.4M751.5 204.8V226M692.5 208.1V257.5M726.5 195.8V220.8M608.5 208.3V273.6M748.5 178.5V235.4M632.5 208V262.5M601.5 198.5V217.2M697.5 208.4V256.5M558.5 195.3V254M737.5 195.9V246M836.5 216.2V259.3M817.5 202.9V233M959.5 230V393.7M920.5 230V262.7M809.5 198.2V248.9M925.5 207.1V257.6M726.5 205.1V240.6M882.5 219.1V272.4M655.5 208V257.3M762.5 196.9V241.8M961.5 224.9V249.8M793.5 220.7V348.6M753.5 211.7V258.2M876.5 221.4V277.2M667.5 195.8V246.2M896.5 206.2V261.4M538.5 221.5V352M635.5 185.4V236M608.5 208.2V300M643.5 208V290.9M946.5 217.6V237.6M541.5 202.8V246.3M661.5 207.8V221.9M783.5 185.2V243.5M839.5 228V289.9M870.5 228.4V248.3M699.5 190.2V239.1M627.5 177V228.6M905.5 216.9V230.9M584.5 202.8V242M559.5 206.3V238.4M632.5 182.6V224.3M747.5 210.8V276.8M945.5 230V298.3M851.5 228.5V293.9M778.5 212.1V250.7M759.5 213.2V287.7M835.5 213.3V225.8M806.5 222.7V274.4M678.5 204.3V233.5M571.5 210.2V230.8M618.5 208V292.7M874.5 201.1V245.6M809.5 186.4V244.6M881.5 229.7V277.9M550.5 219.5V279.4M926.5 213.6V262.2M698.5 198.1V242.4M938.5 222.3V265.8M792.5 220.4V277.8M771.5 207V260.7M890.5 213V232.7M805.5 210.3V231M827.5 226V307.9M599.5 208.2V248.3M796.5 203.1V251.4M687.5 186.5V212.6M563.5 179.1V236.4M589.5 182.4V224.6M741.5 197.4V250M646.5 208V281.6M867.5 229.1V260.5M584.5 203.3V215.9M536.5 221.9V265M969.5 204.3V236.7M668.5 208V271.4M754.5 212V300.9M622.5 191.2V211.7M622.5 188.8V223.5M707.5 186.8V211.1M878.5 194.1V249M547.5 213.3V233.9M898.5 208.1V266.6M966.5 199.5V252.8M776.5 217V268.7M688.5 207.8V256.9M633.5 179.9V219.8M610.5 192.3V226.6M672.5 192.7V243.7M905.5 195V246.9M531.5 215V236.7M876.5 229.5V319.4M824.5 225.5V239.3M538.5 221.5V252.5M561.5 217.5V274.9M853.5 228.6V261.4M826.5 226V287.3M668.5 190.5V225.5M909.5 204.9V239.4M622.5 171.8V227.4M718.5 204.8V260.8M581.5 193V221.6M814.5 205.8V231.6M568.5 198.1V241.5M609.5 208V236.1M867.5 229.1V267.8M750.5 179.7V226.2M821.5 220.1V232.3M853.5 198.7V247.7M797.5 189V236.3M617.5 190.6V221.2M837.5 207.3V231.2M581.5 207.3V245.2M649.5 205.9V232.1M727.5 196.2V247.6M580.5 191.2V231.5M577.5 214.5V269.6M817.5 204.4V255.2M856.5 228.7V280.4M693.5 208V226.4M702.5 196.9V228.8M621.5 189V224.5M760.5 192V249.3M785.5 195.8V223.1M941.5 207.4V240.9M548.5 186.6V245.4M930.5 211.7V244.1M966.5 223.3V275M682.5 208V255.1M849.5 208.9V239.8M893.5 216.5V237.4M816.5 208.2V262.6M657.5 188V226.5M804.5 204.7V227.2M916.5 230V302.1M577.5 214.4V255M741.5 210.6V243.4M540.5 208.9V244.2M902.5 202.7V249.7M873.5 227V253.9M550.5 207.9V228M858.5 205.2V234.5M834.5 223.2V243.2M586.5 191.9V244.4M761.5 213.6V230.8M833.5 227.1V291.8M678.5 194.6V222.6M752.5 211.4V262.3M959.5 222.5V271.5M810.5 217V235.5M751.5 186.6V234.9M559.5 217.8V276.4M583.5 213.1V329.3M904.5 230V299.7M857.5 228.7V293.2M897.5 225.7V246.1M784.5 201.8V249.5M783.5 191.6V243M763.5 214.1V238.2M853.5 214V231.5M675.5 208V251.3M749.5 193.4V235.5M737.5 189.8V219.4M821.5 196.2V254.4M625.5 200.8V250.8M541.5 221V292.6M569.5 209V249.8M609.5 208V275.4M907.5 230V344.4M845.5 218.2V231.9M860.5 228.8V296.4M725.5 199.5V220.5M575.5 203.6V253.7M735.5 196.2V219.4M910.5 211.4V259M754.5 206.8V234.7M808.5 201.8V245.1M695.5 208.3V333.8M596.5 210.6V273M806.5 188.1V242M743.5 185.9V218.9M682.5 175.8V220.9M644.5 208V242.8M836.5 216.3V233M670.5 208V297.3M783.5 209V264.5M644.5 208V258.5M862.5 204.4V241.3M695.5 202.8V245.1M741.5 177.4V224.5M938.5 230V299.1M846.5 228.3V261.9M854.5 210.2V263M679.5 187.5V217.2M900.5 217.5V272.9M700.5 196.3V246.7M965.5 215.9V265.9M924.5 204.9V256.9M820.5 217.8V277.2M896.5 217.9V277.5M769.5 211.5V247.6M853.5 228.5V335.1M585.5 212.8V266.7M965.5 230V291.5M882.5 227.9V270.1M593.5 211.3V292.5M637.5 208V234.5M783.5 218.6V276M866.5 195.9V245.7M595.5 181.8V236.4M953.5 230V345.1M682.5 182.1V218.9M968.5 206.5V243.1M861.5 228.9V273.1M744.5 210.7V240.8M690.5 183.6V220.8M572.5 215.3V269.7M569.5 215V268.5M807.5 212.8V233.5M870.5 229.3V310.6M929.5 214.1V239.1M691.5 184.1V222M943.5 201.4V247.4M661.5 208V235.5M944.5 230V341.2M934.5 230V407.4M598.5 171.2V229.8M909.5 215V227.1M840.5 209.6V252.5M839.5 226.4V270.7M900.5 209.8V264M766.5 214.7V267.9M753.5 211.7V277.2M691.5 208.1V280.1M911.5 230V260.3M926.5 212.7V227.9M601.5 195.7V212.1M870.5 229.2V340.5M651.5 208V260.9M611.5 183.2V231.1M617.5 185.5V236.2M782.5 208.3V220.4M653.5 208V267.3M637.5 179.8V234.1M573.5 200.9V257.7M673.5 183.5V232.4M871.5 209.1V239.5M540.5 221.3V290.2M742.5 192.8V248.6M795.5 208.9V241.1M552.5 208.6V244M659.5 199.6V245.2M929.5 205.4V250.4M968.5 230V365.6M904.5 203.3V245.3M605.5 208.9V249M866.5 229.1V286.3M728.5 209.9V242.5M605.5 206.9V231.5M742.5 175.4V231M936.5 195.4V248M916.5 222.8V269.3M702.5 191.8V211.9M558.5 218V236.4M926.5 198.8V255.1M964.5 230V288.7M755.5 200V225M629.5 208V256.1M769.5 202.4V215.2M836.5 223.2V254.1M742.5 193.8V239.6M685.5 208V254.5M639.5 208V262.8M661.5 208V299M552.5 219.1V249.8M642.5 183.9V229M949.5 230V332.2M534.5 222.4V362.8M850.5 228.4V319.4M877.5 229.5V280.5M708.5 182V237M792.5 220.3V269.1M627.5 208V269.2M824.5 220V234.7M841.5 216.2V275.9M853.5 203.2V241.9M746.5 182.9V224.2M957.5 224.8V253.8M911.5 197V248.9M782.5 195.6V234.4M830.5 208.7V249.1M651.5 208V255.8M945.5 230V286.1M814.5 224V272.4M924.5 223.9V242.5M657.5 201.9V242.6M962.5 201.4V253.4M576.5 193.1V219.2M763.5 212.2V238.7M579.5 199.5V218.7M614.5 189.7V230.6M866.5 221.8V270.8M559.5 217.8V275M698.5 197.3V235M614.5 208V247.4M904.5 230V258.5M566.5 190.8V228.3M678.5 186.6V211.7M907.5 223.7V245.3M832.5 207.8V267.1M839.5 216.7V233.1M966.5 211.8V240.3M540.5 208V249.6M823.5 215.6V247.1M858.5 228.8V354.7M859.5 194.3V247.9M844.5 228.2V269.4M562.5 217.3V271M567.5 187.4V243M870.5 229.2V345.5M799.5 203.7V259.6M646.5 208V276M534.5 190.4V238.1M765.5 189.3V242M570.5 215.8V282.3M859.5 228.8V357.9M680.5 199.6V216.5M885.5 229.9V317.8M572.5 196.8V220.3M747.5 190.5V212.9M574.5 211.3V229.9M873.5 211.2V268.4M776.5 217.1V258.8M633.5 175.1V230.9M954.5 230V321.5M830.5 226.6V308.4M678.5 208V264.8M906.5 230V314.1M697.5 204.2V220.7M945.5 196.7V250.1M661.5 208V238.8M963.5 195.7V253.4M557.5 191.1V239.1M853.5 225.8V250.5M658.5 208V247.8M717.5 209.4V262.4M810.5 214.6V246.1M550.5 219.4V250.2M628.5 208V298.2M576.5 214.6V322.5M855.5 228.7V268.1M627.5 208V246M749.5 196.2V253.3M675.5 208V236.7M634.5 208V255.6M941.5 230V254.1M753.5 193.6V224M816.5 203.4V234.7M840.5 223.7V261.3M891.5 230V328.1M646.5 208V238.1M565.5 184.3V234M736.5 210.3V264.2M605.5 186.1V214.1M539.5 221.4V262.6M935.5 230V264.7M806.5 220.8V267.7M712.5 191.4V207.5M590.5 189.1V216.6M865.5 219.3V251.5M765.5 201.3V225.7M607.5 191.8V244.1M962.5 230V260.8M948.5 205.5V237.7M938.5 208.6V243.1M894.5 214.9V266.7M764.5 214.2V319M662.5 179.1V230.9M817.5 219.7V277.2M597.5 210.5V317.9M801.5 208.6V228.7M559.5 212.8V262.6M536.5 212.5V239.5M845.5 228.2V268.1M681.5 208V256.6M837.5 201.7V243.2M873.5 228.9V285.9M898.5 203.1V257.4M801.5 221.9V321.2M903.5 205.2V238.3M820.5 204V262.8M938.5 230V415.4M925.5 191.6V249.5M549.5 208.5V253.6M648.5 185.8V231.3M701.5 193.2V238.9M641.5 193.2V211.3M608.5 208.2V307.4M914.5 216.8V232M541.5 213.7V270.4M610.5 208V398.4M865.5 205.3V246.4M628.5 200V219.5M644.5 208V250.8M956.5 204V237.4M866.5 229.1V266.5M727.5 199.9V221.3M590.5 204.7V221M648.5 208V260M962.5 197.4V247.4M878.5 215.7V230.7M561.5 216.8V243.6M841.5 228.1V306.7M695.5 184.3V222.3M847.5 213.3V254.3M660.5 182.7V214.4M587.5 193.3V246.9M539.5 208.6V239.4M660.5 208V258M909.5 230V297.3M922.5 219.3V271.7M831.5 226.7V346.4M859.5 228.8V254.2M616.5 197.7V219.2M686.5 197.7V231.9M926.5 211.9V270.3M964.5 230V302.4M725.5 209.8V270.1M871.5 229.3V313.1M941.5 230V297.2M969.5 214.1V234.9M660.5 193.1V232M818.5 193.8V238.2M702.5 208.6V292.5M735.5 175.7V226.8M733.5 200.2V230.8M653.5 208V241.5M538.5 221.5V401.1M867.5 229.1V345.8M836.5 209.9V235.4M900.5 226.4V245M597.5 191.9V242.5M634.5 176V228.8M792.5 220.5V279.4M942.5 230V273.6M738.5 199.4V243.1M618.5 208V299.2M792.5 206V245.8M951.5 221.3V271M912.5 226.8V281.1M926.5 204.9V253.2M711.5 191.8V227.1M645.5 205.4V225.9M913.5 210.5V255.9M877.5 197.6V249.5M905.5 224.8V283M702.5 196V215.3M656.5 208V230.3M636.5 179.3V221.8M913.5 230V285M935.5 230V262.2M692.5 208.1V284.6M915.5 230V256M698.5 208.4V346.6M727.5 187.3V216.7M779.5 217.8V240.3M627.5 192.6V242.2M648.5 201.8V228.2M647.5 204.6V236.7M644.5 208V283.9M757.5 212.6V243.4M574.5 210.3V228.7M873.5 227.2V251.6M607.5 196.7V236.5M725.5 187.3V213.7M812.5 211V255M591.5 211.7V319.5M710.5 209V326.4M778.5 217.4V276.4M772.5 195V253.1M923.5 230V303.7M875.5 223.8V252.4M583.5 213.2V251.2M897.5 223.5V265.2M772.5 197.8V226.2M828.5 226.3V317.9M600.5 209.7V253.6M738.5 210.4V280.3M838.5 210.7V236.3M881.5 229.7V329.9M885.5 229.8V280.7M626.5 190V216M896.5 203.2V244.1M780.5 217.9V288.4M824.5 210.7V242.4M905.5 201.8V247.8M708.5 209V366.8M935.5 208.6V251.7M918.5 230V299M885.5 229.9V296.3M697.5 208.4V242M762.5 201.6V252.2M606.5 191.2V223.4M864.5 229V268.3M922.5 222V274.4M601.5 209.6V283.4M858.5 198.2V257M835.5 227.4V442.1M546.5 220.1V253.8M933.5 230V310M741.5 210.5V273.2M648.5 208V235.3M543.5 212.9V250.9M874.5 225.6V285.2M679.5 188.8V212.3M756.5 194.6V212.2M616.5 195.3V221.2M797.5 215.3V243.9M705.5 186.2V212M885.5 210.7V243.4M823.5 195.9V247.9M848.5 228.3V341.7M641.5 207.1V247.4M558.5 217.7V234.9M917.5 230V271M942.5 218.7V276.3M813.5 223.9V328.4M936.5 196.8V254.3M841.5 228.1V273.8M797.5 192.2V234.9M714.5 177.6V221.4M686.5 208V254M745.5 195.7V211.1M628.5 195V228.2M718.5 198.9V217M753.5 194.3V220.5M544.5 208V229.4M703.5 208.7V270.4M655.5 198.6V232.5M809.5 209.9V236.8M887.5 221.7V249.8M800.5 204.2V239.5M822.5 199.4V244.2M800.5 221.8V255.5M643.5 193.9V253.8M696.5 200.6V233.3M901.5 230V299M946.5 215.9V228.3M610.5 208V225.9M535.5 222.2V302.1M953.5 199.7V255.5M908.5 204.4V236.2M797.5 189.7V242.3M889.5 230V283.8M791.5 204.4V220.6M928.5 207.3V236.6M637.5 208V243.8M725.5 183.4V217.1M825.5 193.6V241.7M625.5 208V235.6M845.5 212.6V269.1M645.5 181.5V216.4M842.5 228.1V305.4M884.5 202.8V248.3M717.5 205.3V230.5M966.5 220.4V266.6M808.5 201.4V233.3M863.5 224.5V259.5M539.5 221.4V268.4M580.5 213.9V271M843.5 198.6V251.9M945.5 230V292.5M806.5 213.5V245.8M871.5 229.3V298.3M931.5 214.1V242M600.5 207.8V217.3M969.5 223.8V251.8M536.5 221.9V245M800.5 214.8V229M646.5 208V240.7M641.5 208V283.7M748.5 210.9V226.5M796.5 213.6V236M722.5 209.6V253M844.5 228.2V289.7M948.5 227.7V251.4M604.5 208.6V229.3M635.5 205V217.5M798.5 215.6V233.4M711.5 209.1V284.2M669.5 199.5V220M752.5 206.5V225.4M837.5 227.6V256.8M930.5 230V304.2M944.5 226.7V235.6M891.5 230V260.2M683.5 208V233.6M919.5 230V335.1M842.5 228.1V324.1M607.5 208.4V248M949.5 230V284.8M639.5 203.1V218.7M830.5 223.7V240M836.5 217.9V236.8M930.5 225.3V251.5M823.5 215.6V235.6M963.5 230V277.9M556.5 207.2V228.4M546.5 211.6V226.2M616.5 208V232.1M783.5 218.6V261.2M717.5 198.8V218.1M566.5 216.5V243.2M619.5 203.7V224.6M785.5 219V252.6M707.5 198.5V218M866.5 216.3V239.1M735.5 210.3V328.1M916.5 230V290.5M864.5 229V275.6M748.5 210.9V237.3M688.5 208V276.2M624.5 203.7V213.4M659.5 197.8V224.3M686.5 208V234.5M689.5 200.4V227.9M609.5 206.6V223.8M738.5 210.4V242.9M579.5 214V243.8M912.5 230V250.8M772.5 205.9V231.9M572.5 215.4V248.9M674.5 208V224.6M642.5 202.9V213.5M599.5 210.1V228.8M741.5 209.2V227.8M611.5 202.8V223.9M597.5 199.4V218.7M839.5 215.8V241.4M719.5 196.9V220.9M826.5 220.2V230.3M737.5 210.4V229.9M752.5 197.7V223.4M667.5 208V259.3M718.5 209.4V234.6M742.5 210.6V237.6M681.5 208V264.4M894.5 229.7V247.8M638.5 208V278M627.5 206.8V216.3M681.5 196.4V220.9M875.5 218.7V236.4M903.5 225.9V253.5M779.5 217.6V251.9M689.5 208V244.5M815.5 224.2V270.5M894.5 230V257.5M637.5 208V224.8M824.5 225.6V302.9M842.5 226V239.1M702.5 206.1V218.2M594.5 211.1V250.9M797.5 221.3V248.3M622.5 208V249.4M692.5 208.1V223.8M770.5 205.6V222.1M954.5 230V253.1M594.5 210.9V237.5M562.5 217.2V253.2M767.5 214.2V234.5M945.5 221.8V247M550.5 216.3V226.9M813.5 222.6V243.8M542.5 220.8V235.6M772.5 208.4V233.8M582.5 213.3V238.4M820.5 225V270.2M689.5 208V283.7M818.5 224.6V246.9M644.5 208V241.9M563.5 211.3V220.9M610.5 198.3V224.4M651.5 208V230.5M602.5 197V222.3M617.5 202.5V212M769.5 215.5V240.5M723.5 209.7V226.4M893.5 227V245.8M749.5 210.9V256.4M767.5 215V239.6M842.5 220.2V246.7M906.5 230V243.1M787.5 219.6V261.6M546.5 220.1V247.8M732.5 210.1V218.4M544.5 220.5V241.7M796.5 221.1V263.3M559.5 204.2V227.6M767.5 208.8V228M596.5 210.6V227.2M906.5 230V287.6M571.5 215.5V248.7M820.5 216.4V237.2M840.5 215.7V236.8M651.5 195.5V220.8M791.5 216.1V230M675.5 194.6V222.5M644.5 208V226.1M644.5 208V243.2M537.5 221.7V264.3M826.5 225.9V290.4M562.5 217.3V232.7M617.5 208V282.5M568.5 216.1V233.8M884.5 229.8V248.7M763.5 214V231.5M736.5 207V216.7M787.5 215.9V235.9M886.5 225.5V242.5M805.5 216.6V227.8M756.5 212.3V272.1M668.5 208V225.5M757.5 212.7V248.8M964.5 217.8V243.4M781.5 218.1V277.7M740.5 210.5V237.7M921.5 225.5V239.3M554.5 218.7V256.2M558.5 215.6V224.5M877.5 224.1V238.8M945.5 230V258.6M552.5 219V240.1M541.5 221.1V247.8M534.5 222.2V235.8M784.5 218.8V234.6M591.5 209.1V220.7M777.5 217.2V322.9M822.5 225.3V260M537.5 221.8V248.7M913.5 230V262.1M641.5 203.2V227.9M774.5 216.5V242.8M686.5 208V234.5M681.5 203V226.8M707.5 205.9V226.6M532.5 212V236.1M719.5 205.6V221.2M647.5 203.9V226.9M687.5 208V302.5M602.5 207.7V230.4M677.5 208V233.6M838.5 227.8V346.5M963.5 230V256.3M617.5 208V223.2M911.5 221.8V238.4M800.5 210.1V229.9M574.5 203.5V227.9M536.5 221.8V251M919.5 230V274M633.5 208V270.4M577.5 214.5V225.2M818.5 224.7V287M841.5 225.5V246.3M924.5 230V285.6M750.5 206.6V231.6M667.5 208V221.7M670.5 207.2V219.9M620.5 208V342.1M810.5 223.3V295.9M945.5 230V258.4M567.5 201.7V229M700.5 208.5V287.2M685.5 208V236.1M565.5 216.7V277.3M792.5 214.6V229.4M963.5 230V251.5M652.5 208V268.9M850.5 228.4V245.3M926.5 230V272.3M649.5 205.9V232.5M934.5 230V255.3M859.5 228.8V276.3M814.5 224V269.5M615.5 208V221.9M652.5 207.3V224.8M575.5 214.9V233.1M924.5 230V258M886.5 229.5V237.9M568.5 216.2V295.3M764.5 214.1V234.4M624.5 208V240.1M867.5 229.1V273.3M782.5 218.4V276.1M946.5 230V272.5M850.5 220.5V233.3M574.5 201.5V224.5M694.5 208.2V235.3M784.5 218.7V239.1M931.5 230V282.1M693.5 204.7V216.9M613.5 208V225.3M655.5 208V235.5M639.5 208V279.9M598.5 210.2V234.2M681.5 208V268.2M640.5 195.1V221M755.5 212.1V248.3M923.5 230V248.9M950.5 230V244.7M600.5 209.8V239.5M781.5 218V245.7M826.5 222.7V235.1M597.5 209.6V229.9M764.5 214.2V317.2M618.5 208V239.8M690.5 196.4V219.1M673.5 207.4V229.4M889.5 230V302M633.5 208V249.8M768.5 205.7V226.5M788.5 219.7V267.6M675.5 203.9V227.8M939.5 230V256.1M676.5 208V217.1M674.5 200.2V228.2M835.5 227.3V295.6M745.5 210.7V261M849.5 228.4V284.7M597.5 209.2V236.8M595.5 206V214.3M854.5 216.9V238.6M701.5 202.3V227.1M907.5 230V244.8M633.5 208V224.8M636.5 208V223M910.5 230V263.2M689.5 208V247.9M578.5 208.2V226.8M627.5 208V234.5M869.5 220.1V240.7M647.5 204.1V224M775.5 214.6V226.6M897.5 230V250.3M799.5 221.5V272.8M861.5 228.9V266.1M960.5 224.3V241.1M662.5 198.4V222.3M916.5 230V261.2M772.5 216.2V250.6M619.5 206.2V218.2M588.5 199.8V222.7M674.5 193.3V220.6M591.5 209.7V237.4M870.5 224.6V239.7M775.5 216.8V232M549.5 213.8V228.2M916.5 230V254.7M792.5 218.2V245.9M725.5 203.2V217.4M592.5 206.7V231.7M737.5 210.3V225.2M934.5 230V270.9M787.5 219.6V243M732.5 206.8V231.5M798.5 221.4V241.4M772.5 203.6V226.9M804.5 222.5V247.3M618.5 208V223.7M595.5 210.7V229.8M536.5 214.6V240.2M896.5 230V260.8M531.5 222.7V327.4M643.5 198.2V218.2M788.5 219.7V234.3M750.5 198.3V224.8M927.5 228.7V249.9M624.5 208V262.9M580.5 213.8V239.6M601.5 202.6V215.3M749.5 211V245.9M658.5 198.2V219.9M730.5 210V237.6M833.5 227V268.2M671.5 208V237.3M823.5 225.4V253.8M539.5 221.4V261.7M770.5 215.7V237.7M929.5 222.5V248.9M941.5 228.8V238.8M782.5 216.7V229.3M963.5 230V301.1M634.5 208V233.1M661.5 203.1V217.8M727.5 209.9V246.1M754.5 211.9V276.8M891.5 230V252.3M727.5 209.9V238.5M551.5 216.8V241M838.5 227.8V257.4M628.5 208V223.3M918.5 228.4V246.8M623.5 201.5V223.8M660.5 208V229.3M590.5 211.7V245.3M663.5 206V222.4M794.5 219.9V246.6M648.5 195.8V218.4M551.5 219.2V322.5M788.5 219.8V245.4M853.5 218.7V240M578.5 214.2V281M717.5 209.4V239.8M560.5 217.6V233.5M537.5 220V236.1M695.5 208.3V270.9M656.5 207.3V221M915.5 230V262.7M536.5 221.9V245.9M814.5 224.1V263M853.5 228.6V257.9M713.5 201.8V223.2M750.5 211.1V239.8M639.5 208V247.8M641.5 201.5V222.1M553.5 209.8V231.7M929.5 230V301.6M543.5 220.7V243.9M590.5 211.7V248.8M849.5 228.4V258.8M731.5 210.1V250.2M755.5 212.2V259.2M660.5 206.8V233.3M601.5 209.6V239.4M882.5 222.5V239.3M584.5 203.2V219.2M660.5 203.7V214.3M861.5 214.4V241.9M661.5 201.1V222.6M949.5 230V258.7M607.5 198.5V219.1M762.5 213.8V238.2M767.5 205.1V228M750.5 196.8V222.5M871.5 229.3V283.2M550.5 214.6V229.6M770.5 211.1V229.2M877.5 229.5V293.9M552.5 214.9V233.1M770.5 215.7V251.5M724.5 209.7V235.8M708.5 208.9V234.9M767.5 214.8V227.3M805.5 222.5V246.1M840.5 228V239.9M925.5 222.8V239.5M819.5 224.8V241.7M970.5 230V310.3M823.5 225.4V267.3M648.5 208V218.8M595.5 210.8V236.7M561.5 217.4V245.8M648.5 200V224.8M582.5 205V220.3M831.5 226.7V289M833.5 227.1V246.2M799.5 220.7V238.1M698.5 208.5V237.6M734.5 210.2V230.7M644.5 203.4V217.4M934.5 219.9V236.3M537.5 221.7V243.9M671.5 208V240.3M782.5 218.4V253.9M609.5 202.6V227.1M906.5 230V298.1M741.5 210.6V300.2M693.5 208.2V263.3M558.5 210.7V230.3M654.5 208V228.1M789.5 215.6V228.3M654.5 206.2V220.9M550.5 219.4V244.7M785.5 215.1V233.9M664.5 208V265.4M902.5 229.2V248.1M834.5 227.3V267M847.5 228.3V241.1M922.5 230V244.2M886.5 229.9V282.4M675.5 203.2V222.8M780.5 218V241.1M644.5 204V223.6M619.5 208V231.8M621.5 208V227M579.5 214V241.3M635.5 208V234.5M629.5 203V221.9M826.5 225.9V255.9M641.5 208V251.9M551.5 219.3V250M716.5 209.3V232.1M618.5 208V239.9M833.5 223.8V233.1M628.5 208V233.2M775.5 216.8V241.5M607.5 208.3V262.6M742.5 198.1V219.5M912.5 230V260M663.5 208V230M762.5 208.2V221M723.5 209.7V262.1M561.5 217.5V239.3M539.5 221.4V269.9M901.5 230V266.5M680.5 208V271.2M832.5 226.9V245.7M712.5 209.1V236M899.5 230V261.3M616.5 208V245.5M743.5 210.7V258.7M771.5 213.3V240.1M879.5 229.6V263.7M543.5 220.7V321.8M689.5 208V232.6M739.5 210.5V242.6M789.5 220V246.7M592.5 211.4V223.6M769.5 215.4V236.3M835.5 222.1V242.7M853.5 228.5V248.6M629.5 208V263.6M724.5 209.7V226.5M661.5 208V267.2M701.5 194.5V221.4M690.5 195.7V218.6M946.5 224.7V235M536.5 221.9V237.5M947.5 230V240.7M545.5 220.4V248.1M564.5 204.7V227.9M621.5 208V240.6M656.5 208V284M907.5 230V242.6M900.5 230V260.9M941.5 230V256M701.5 203V226.9M537.5 221.7V281.5M805.5 221.9V233.7M926.5 221V243M577.5 214.3V235.2M894.5 230V268.4M531.5 214.5V233.7M852.5 228.5V247M747.5 210.9V245.4M930.5 217.5V241.2M915.5 230V269.2M550.5 219.3V245.1M749.5 211V236.5M637.5 208V279.6M723.5 209.7V236.5M559.5 202.8V230.5M689.5 208V249.4M710.5 209V250.2M532.5 214.4V238.3M739.5 209.3V225.1M924.5 230V281.2M557.5 203.3V230.5M946.5 230V259.9M745.5 205.1V226.1M623.5 208V236.1M956.5 230V264.1M738.5 206.7V215.9M722.5 209.6V231.9M696.5 208.3V224.9M918.5 230V247.3M587.5 212.4V241.8M623.5 208V249.9M655.5 208V246.3M557.5 218.1V272.3M901.5 222.3V233.9M745.5 210.8V239.3M795.5 217.7V228.9M920.5 224.9V244.8M748.5 203.7V230.6M652.5 192.8V219.7M764.5 213V232.1M750.5 211V229.7M661.5 208V249.4M632.5 208V226.9M687.5 203.5V217.8M853.5 228.6V259.5M603.5 209.3V237.2M968.5 228.7V237.5M634.5 204.2V227.2M650.5 208V233.2M584.5 213V253M702.5 200.6V215.9M694.5 197.4V218.4M830.5 226.6V293.2M924.5 230V259.1M639.5 208V233.6M886.5 225V244.4M666.5 195.8V221.8M709.5 209V315.6M586.5 199.8V225.3M923.5 230V271.3M694.5 206.5V228.6M838.5 227.9V242.5M542.5 216.3V234.1M837.5 227.6V245.3M630.5 208V256M729.5 209.3V230.2M826.5 226V250.4M605.5 208.8V219.1M762.5 212.5V223.1M898.5 230V264.1M602.5 209.4V285.4M736.5 203.7V213.2M611.5 208V227.4M593.5 204.8V219.3M746.5 210.8V237.9M731.5 209.3V218.3M813.5 217.8V227.7M907.5 230V249.5M841.5 228.1V236.8M678.5 208V249.8M744.5 208.9V217.4M826.5 226V295.4M899.5 230V270.2M830.5 216V237.3M751.5 211.3V231.7M589.5 212.1V234.8M912.5 227.9V239.7M654.5 208V220.1M708.5 208.9V229.8M919.5 230V309M621.5 208V235.4M932.5 230V293.1M631.5 207.5V227.8M568.5 205.3V228.2M756.5 210.5V235M880.5 229.6V253.3M707.5 208.9V329.1M901.5 230V262.1M704.5 208.8V240.3M889.5 230V258M580.5 212V223.4M655.5 206.5V225.4M584.5 202.6V230M855.5 228.7V259.4M737.5 210.3V274.1M818.5 224.7V250.4M635.5 206.4V220M853.5 228.6V280.1M967.5 230V264.7M565.5 216.8V311.5M670.5 208V230M913.5 230V262.3M905.5 229.4V243.7M914.5 230V260.2M630.5 198.6V218.4M778.5 214.6V225.4M568.5 204.1V227.6M720.5 200.7V214.5M783.5 209.3V226.4M644.5 208V233M716.5 207.1V224.9M691.5 208.1V226.5M567.5 212.9V227.3M560.5 217.6V240.5M874.5 229.4V276.8M531.5 222.8V240.7M964.5 223.7V237.3M550.5 119.9V131.3M917.5 118.2V141.9M797.5 85.3V109.5M571.5 118V133.5M842.5 115.6V128M555.5 113.7V133M808.5 103.7V112.9M774.5 75.7V105.8M845.5 108.3V124.9M571.5 117.1V125.9M930.5 127.6V141M944.5 119.2V135.4M963.5 133.2V141.3M867.5 121V133.5M667.5 96.8V120.6M961.5 128.1V148.5M800.5 102.3V111.2M846.5 108.4V130.5M821.5 104.3V119.7M621.5 65.6V114.4M905.5 119.9V133.1M815.5 99.4V115.2M627.5 98.4V117.3M696.5 95.5V111.3M593.5 93.8V121.9M720.5 97.7V114.1M965.5 126.1V144.3M699.5 90.4V106.8M704.5 89.9V111.1M883.5 112.3V132.2M566.5 109.5V129.5M583.5 98.6V123.4M858.5 120.5V132.2M587.5 108.8V128.1M799.5 92.7V109.8M889.5 126.4V136.7M778.5 83.1V106.4M565.5 85V124.6M621.5 108.3V118.3M768.5 78.9V105M950.5 111.3V135.7M818.5 65.9V116.4M837.5 104.5V123.2M792.5 91.8V108.7M673.5 84V108.3M797.5 93.7V110.9M534.5 102V126.7M712.5 73.2V106.4M887.5 118.2V137.4M620.5 106.8V122.9M815.5 107.3V124.5M847.5 105.4V125.3M599.5 107.3V129.8M907.5 127.6V142.6M637.5 95.7V118.3M954.5 127V137.8M682.5 94.3V109.6M799.5 100V110.9M947.5 119V135.6M891.5 119.4V141.9M744.5 91.3V114.9M616.5 103V118.6M801.5 98V110.5M789.5 98.7V111.8M558.5 104.2V126.6M698.5 89.1V106.8M935.5 126.6V137.8M761.5 95.1V116.5M610.5 110.9V127.1M813.5 107.8V122.6M730.5 91V113.5M932.5 73.8V134.6M746.5 101.9V110.2M541.5 114.8V138.3M601.5 107V122.3M607.5 112V122.9M949.5 124.6V147.2M688.5 89V107.1M683.5 94.4V113.3M959.5 126.8V146.8M621.5 95.3V114.5M804.5 93.9V117.6M947.5 113.8V135.6M930.5 118.2V134.5M601.5 113V129.6M737.5 98.7V107M641.5 93.8V117.5M838.5 84.8V123.6M638.5 100.8V114.9M608.5 109.3V130.1M650.5 98.5V119.2M588.5 112.9V132.2M845.5 107.2V125M653.5 105.1V114.5M706.5 88.6V110.3M651.5 93.4V115.6M697.5 79.6V106.8M664.5 99.6V113.7M686.5 100.2V114.7M842.5 101.4V124.5M606.5 103.4V126.4M832.5 50.4V121.5M683.5 97.3V116.6M571.5 75.8V124.2M583.5 116.5V125.9M926.5 123V134.3M548.5 105.1V125.7M652.5 102.8V118.7M910.5 124.6V142.6M565.5 112.5V136.4M623.5 94.9V117.3M648.5 69.9V110.5M898.5 122.4V136.6M581.5 118.5V132M946.5 127.8V147M583.5 118.2V131.7M779.5 91.3V111.5M870.5 93.5V129M776.5 100.5V110.4M753.5 81.6V105.4M723.5 90.1V106.2M641.5 103.7V116.8M967.5 125.9V149.5M708.5 93.7V112.1M811.5 88.4V114.1M786.5 79.2V107.8M953.5 122.8V135.9M637.5 99.2V119.9M598.5 93.2V120.5M926.5 127.3V136.3M754.5 96.7V106.4M812.5 105.3V115.3M805.5 102.7V120.8M874.5 117.4V135.7M899.5 116.1V137.7M839.5 115.5V128.2M532.5 116.9V137.1M898.5 127.3V139.6M549.5 118.4V131.4M907.5 114.3V133.1M530.5 120.6V134.9M871.5 112.6V136.6M811.5 101.9V114.9M541.5 108.4V126.2M862.5 116.7V138.7M785.5 85.6V107.6M583.5 119.7V130.3M916.5 118.9V133.6M790.5 88.8V108.4M734.5 100.6V109.7M946.5 129V142.9M619.5 106.1V126.4M608.5 98.5V118.8M923.5 130.1V140.5M601.5 106.3V119.9M890.5 113.4V132M622.5 103V122M888.5 128.4V138.5M710.5 92.7V116.4M802.5 90V110.6M797.5 83.5V109.5M704.5 95.8V115.1M758.5 82.7V105.9M816.5 88.1V115.7M590.5 103V124.7M933.5 119.4V135.9M892.5 112.3V132.2M622.5 93V114.3M629.5 97V114.7M704.5 92.3V108.8M870.5 117.3V137.8M757.5 97.8V114.5M669.5 99V113.1M868.5 121.8V138.1M616.5 93.1V115.7M842.5 112.9V124.4M862.5 102.4V127.6M575.5 112.6V129.8M781.5 97.5V116.9M791.5 86.9V108.6M957.5 106.7V136.2M661.5 82.8V109.3M732.5 80.8V105.9M942.5 107.5V135.2M587.5 102.2V123.1M925.5 114.9V137.7M691.5 83.2V107M681.5 101.9V113.5M968.5 117V136.8M702.5 86.3V106.7M639.5 93.2V116M621.5 104.2V114.4M836.5 103.3V123.6M810.5 90.5V113.5M635.5 82.9V111.6M748.5 91.7V109.4M656.5 95.8V109.8M898.5 124.6V143.6M687.5 97.5V114M801.5 103.8V115.6M932.5 126.9V136.8M635.5 92.4V111.6M949.5 107.5V135.7M744.5 96.3V111.9M812.5 106.6V114.8M650.5 93.9V110.3M836.5 114.5V133.4M848.5 116.1V132.9M791.5 93.8V113.7M910.5 125.4V140.1M738.5 90.3V105.8M537.5 79.7V126.6M932.5 128.6V140.1M780.5 104.1V113.1M801.5 104.2V118M793.5 99.2V114.4M548.5 107.7V125.8M657.5 99.8V123.1M570.5 118V129.7M816.5 106.7V116.7M906.5 99V133M821.5 93.8V117.4M888.5 125.9V138.4M676.5 100.9V115.5M544.5 115.3V127.7M710.5 81.8V106.5M604.5 105.2V118.9M664.5 68.4V109.1M635.5 77.8V111.6M609.5 105.3V122.6M833.5 99.1V122.7M793.5 83.7V108.9M892.5 106.3V132.2M963.5 112.4V136.5M635.5 73.9V111.6M943.5 128.1V142M868.5 112.5V132.9M778.5 101.6V111.7M958.5 125V143.6M755.5 87.3V105.3M542.5 112.8V135.5M585.5 104.5V123.3M668.5 103.1V116.3M836.5 104V123.1M779.5 99.8V116.5M831.5 97.5V121M538.5 112.9V129.6M639.5 97.9V117.7M774.5 98.7V115.1M818.5 93.3V116.4M720.5 92.7V110.1M626.5 103.6V121.1M666.5 97.7V115.2M865.5 119.7V132.5M846.5 117.6V129.9M639.5 99.6V112.9M948.5 113.6V135.6M549.5 108.8V125.7M633.5 106.4V119M723.5 89.7V106.2M884.5 111.9V134.5M779.5 92.9V112.1M827.5 110.1V126.4M949.5 125.5V145M691.5 101.1V116.2M610.5 111.2V120M710.5 95.1V114.1M778.5 95V114.3M589.5 101.8V123M547.5 113.8V135.4M849.5 116.5V137M965.5 124V145.2M940.5 132.3V141.1M696.5 69.4V106.8M730.5 96.5V113.9M895.5 123.8V141.3M963.5 127.2V145M687.5 94.3V107.2M949.5 127.1V139.9M837.5 111.4V133.4M595.5 112V129.6M728.5 92.2V115.5M531.5 115.9V127.2M709.5 92.6V110M760.5 98V115.6M881.5 114.2V130.7M675.5 99.4V117.4M816.5 94.7V115.7M822.5 109.3V124.2M761.5 85.8V105.2M800.5 102.7V120.2M732.5 87V105.9M799.5 42.8V109.8M733.5 96.5V118M931.5 123.6V147.3M580.5 113.4V137M910.5 120.1V139.3M858.5 122.1V134.5M535.5 96.1V126.7M846.5 118.5V127.8M690.5 83.3V107M753.5 88.1V105.4M758.5 90.2V106.7M853.5 114.8V134.8M744.5 90V105.6M810.5 104V126M626.5 88V112.9M561.5 107.4V124.9M824.5 110.1V121.5M965.5 129.2V137.8M564.5 115.6V131.2M931.5 126.5V138.7M699.5 102.5V111.8M817.5 97.8V119M647.5 104.5V116.4M834.5 101.4V124.5M722.5 97.9V115.6M880.5 114.2V130.5M652.5 105.4V114.4M676.5 80.8V108.1M805.5 85.8V111.9M576.5 98.3V123.9M959.5 128.8V145.2M797.5 83.6V109.6M958.5 105.6V136.2M608.5 103.4V118.1M842.5 119.7V127.9M619.5 95.6V115.8M567.5 105.7V125M725.5 93.1V106.1M737.5 98V114.2M776.5 94.5V106.1M735.5 96.3V115.7M616.5 110.7V121.7M830.5 114.8V125.6M647.5 78.3V110.6M658.5 94V117.5M874.5 119.2V140.3M830.5 111.1V125.5M850.5 113.1V133.8M936.5 105V134.9M905.5 128.6V139.6M627.5 100.2V122.5M959.5 130V138.5M759.5 87.5V108.2M776.5 92.5V115.9M653.5 99.6V110.1M700.5 89.8V111.6M775.5 84.5V106M545.5 100.1V126M847.5 109.4V125.3M683.5 67.8V107.5M834.5 111.5V125.6M852.5 114.1V128.2M802.5 95.5V110.8M563.5 116.6V124.8M778.5 84.2V106.4M686.5 99.4V112.1M844.5 117.1V135.4M843.5 109.6V128.8M751.5 90.3V110.3M852.5 101.7V126M593.5 109.5V131.8M889.5 112.3V132M956.5 129.1V142.1M926.5 129.8V138.5M887.5 116.5V136.1M708.5 82.2V106.5M940.5 122.5V135.1M777.5 72.2V106.3M625.5 83.2V113.4M769.5 91V108.7M904.5 124.4V137.3M828.5 91.3V120.2M897.5 97.8V132.5M545.5 121.5V129.7M957.5 106.3V136.2M936.5 113.8V137.2M751.5 99.4V108.9M936.5 112.8V134.9M610.5 112V120.5M691.5 100.7V115.5M604.5 107V119.5M825.5 111.6V125.1M934.5 130.4V139.9M940.5 87.4V135.1M565.5 101.7V124.6M868.5 95.5V128.7M776.5 79.1V106.1M627.5 103.4V124.3M924.5 115.7V137.6M763.5 89.5V105.2M548.5 80.8V125.7M695.5 88V106.8M830.5 114.9V124M904.5 120.7V134.7M618.5 111.4V121.2M790.5 97.6V121.1M568.5 99.8V124.4M931.5 130.1V143.1M534.5 118.2V135.5M957.5 130V140.7M779.5 83.2V106.6M861.5 112.4V128.4M824.5 105.5V124.7M753.5 93.5V105.4M723.5 82.3V106.2M621.5 100V119.4M656.5 103.3V117.5M571.5 98.3V124.2M648.5 100.6V116.1M818.5 86V116.4M773.5 96.1V111.5M780.5 96.3V120M763.5 93.2V110.2M946.5 112.8V135.5M904.5 124.7V133.2M646.5 103.2V121.3M775.5 79.6V106M956.5 123.1V136.8M648.5 91.4V113.8M839.5 118.8V128.3M815.5 107.7V123.5M825.5 112.6V125.5M775.5 93.4V116.8M856.5 114.8V135.3M695.5 90.9V106.8M942.5 120.4V135.3M780.5 104.3V112.7M679.5 103.2V114.1M811.5 99.5V122.3M832.5 105.8V127.8M934.5 124.1V144.9M810.5 99.7V114.2M760.5 80.8V105.2M685.5 95.6V112.8M717.5 93.7V114.7M656.5 104.3V112.3M803.5 95.3V111M909.5 124.2V141.5M791.5 101.5V111.8M619.5 101V124M546.5 110.1V125.9M916.5 113.3V136.9M660.5 95.1V109.5M833.5 115.4V126.5M946.5 128V142.8M944.5 120.1V138.3M774.5 94.1V117.8M932.5 113.5V134.6M707.5 81V106.5M944.5 120.6V142.9M829.5 98.3V122M565.5 116.6V130.3M887.5 118.1V133.7M601.5 106.3V119.9M969.5 129.6V143.7M552.5 119V132.7M863.5 124.3V134.3M597.5 99.1V120.8M768.5 92.2V105M694.5 95.5V106.9M915.5 96.6V133.6M651.5 88.6V110.3M847.5 100.3V125.3M944.5 122.4V138.9M558.5 108V125.1M844.5 119.2V133.9M567.5 106.9V130.4M873.5 123.2V137.3M907.5 126.2V141.8M591.5 95.3V122.4M919.5 118.2V141.1M723.5 76V106.2M666.5 97V119.1M955.5 122.6V136M699.5 36.5V106.7M622.5 101.6V122.8M675.5 94.3V108.2M928.5 112.9V134.4M963.5 117.1V140.4M730.5 96.6V116.5M747.5 88.4V108.2M793.5 94.2V115.6M899.5 118.5V140.6M534.5 105.5V126.7M880.5 103.8V130.6M958.5 123.4V136.2M708.5 92.2V106.5M723.5 72.4V106.2M951.5 131.5V140.5M709.5 97.6V114.4M696.5 83.5V106.8M908.5 122.6V146.3M738.5 57.6V105.8M815.5 107.6V126.5M656.5 62V109.8M829.5 82V120.5M692.5 89.2V106.9M875.5 121.8V131.4M747.5 64.8V105.6M935.5 119.1V134.8M771.5 81.2V105.3M907.5 77.2V133.1M724.5 91V110.6M824.5 104.4V127.6M648.5 98.7V114.3M788.5 91.8V108.1M822.5 104.7V128.7M614.5 107.5V120.5M769.5 49.3V105M936.5 122V141.4M619.5 112.7V120.9M745.5 69.7V105.6M898.5 92.8V132.6M717.5 97.4V106.3M543.5 108.8V130.5M761.5 83.1V105.7M733.5 89.6V109.8M938.5 114.9V135.8M822.5 99.9V117.9M872.5 117.1V138M692.5 94.1V109.5M924.5 120.3V134.9M895.5 94.3V132.3M570.5 116.7V132.1M821.5 107.4V120.4M928.5 129.6V141.9M816.5 73.8V115.8M957.5 129.2V143.3M645.5 100.8V120.9M789.5 65V108.2M765.5 94.9V115.7M660.5 97.6V119.1M874.5 123.8V137.6M720.5 100.5V114.4M816.5 98V119.4M874.5 121.5V132.4M850.5 102.6V125.8M574.5 117.4V133.8M554.5 104.5V125.4M891.5 120.6V139.7M816.5 106.2V124.9M595.5 113.8V125.6M587.5 119.6V128M749.5 94.9V118.1M608.5 107.3V129.7M939.5 121.6V137.6M629.5 99.5V118.1M945.5 131.7V141.1M845.5 98.4V125M775.5 95.9V113.3M825.5 100.1V119.3M834.5 118V129.5M656.5 94.8V109.8M745.5 88.8V112.2M559.5 90.8V125M551.5 119.5V130.4M945.5 121.7V142.8M904.5 116.9V137.9M862.5 114.6V127.6M576.5 81.4V123.9M804.5 95.2V111.6M845.5 115.1V128.4M719.5 89V106.2M696.5 84.9V106.8M850.5 99.8V125.7M535.5 109.9V126.7M737.5 101.2V110.8M643.5 98.8V119.5M725.5 98.3V111.4M773.5 96.6V108.9M715.5 91.3V109.5M916.5 105V133.6M918.5 121.9V144.5M864.5 105.7V128M880.5 112.6V133.3M750.5 99V112.5M649.5 101.8V116.7M889.5 117.8V132M581.5 113.1V125.1M791.5 88V108.6M809.5 81.2V113.1M578.5 114V130M620.5 82.2V114.7M826.5 111.7V121.5M907.5 117.6V133.1M702.5 101.5V110.1M764.5 93.6V116.2M842.5 96.3V124.4M786.5 95.9V112.6M734.5 95.5V114.3M811.5 86.7V113.9M842.5 110V133.7M882.5 117.6V141.3M777.5 91.2V106.3M821.5 112.7V122.9M616.5 100.1V118.5M601.5 97.2V119.8M886.5 121.7V139.4M860.5 228.8V364.1M862.5 228.9V304.5M865.5 229V363.9M867.5 229.1V357.2M869.5 229.2V365.1M871.5 229.3V361.6M874.5 229.4V348.4M875.5 229.4V311.4M877.5 229.5V363.1M879.5 229.6V351.8M882.5 229.7V351.8M884.5 229.8V307.3M886.5 229.9V365.9M888.5 230V366.4M890.5 230V340.3M893.5 230V314M895.5 230V366.4M897.5 230V322.4M900.5 230V366.1M902.5 230V299.5M904.5 230V304.9M907.5 230V361.8M908.5 230V318.7M910.5 230V352.5M912.5 230V302M915.5 230V362.7M917.5 230V321.5M920.5 230V366.9M921.5 230V364.8M923.5 230V364M926.5 230V312.5M928.5 230V366.3M931.5 230V304.9M933.5 230V291.8M935.5 230V346M937.5 230V330.3M939.5 230V366.1M941.5 230V363.2M944.5 230V362M946.5 230V337.7M948.5 230V363.1M950.5 230V362.6M953.5 230V363.5M955.5 230V313.4M957.5 230V365.8M959.5 230V364.1M961.5 230V362.8M963.5 230V328.9M966.5 230V317.1M968.5 230V355.1" stroke="#000" stroke-width="1.35" fill="none"/>
<path d="M109.5 364.2h0M118.5 364.2h0M126.5 376.4h0M133.5 373.5h0M130.5 396.3h0M144.5 411.5h0M138.5 436.3h0M165.5 383.4h0M170.5 395.3h0M195.5 386.1h0M196.5 393.4h0M98.5 399.9h0M97.5 417.7h0M97.5 430.3h0M103.5 427.4h0M201.5 368.8h0M203.5 419h0M210.5 408.3h0M223.5 407.5h0M229.5 376.4h0M229.5 441.2h0M251.5 379.3h0M258.5 423h0M262.5 376.4h0M268.5 362.6h0M275.5 410.1h0M278.5 363.1h0M282.5 408h0M286.5 411.2h0M290.5 377.2h0M292.5 423h0M299.5 378.5h0M300.5 433.1h0M306.5 371.2h0M325.5 362.6h0M359.5 369.9h0M363.5 375.3h0M369.5 413.2h0M375.5 383.4h0M387.5 372.3h0M389.5 402.3h0M389.5 432.3h0M391.5 364.2h0M391.5 383.4h0M395.5 374h0M414.5 401.2h0M415.5 369.9h0M425.5 369.1h0M425.5 440.1h0M428.5 435.5h0M434.5 405.1h0M438.5 371.5h0M441.5 433.1h0M444.5 417.4h0M446.5 375.3h0M447.5 406.4h0M448.5 415.3h0M460.5 375.3h0M464.5 432.3h0M467.5 369.1h0M478.5 415.3h0M486.5 368.3h0M484.5 399.9h0M489.5 402.3h0M482.5 422.2h0M487.5 419.3h0M485.5 433.9h0M493.5 361.8h0M494.5 390.2h0M498.5 407.5h0M502.5 375.3h0M502.5 422.2h0M506.5 396.3h0M508.5 422.2h0M513.5 383.4h0M516.5 405.1h0M521.5 372.3h0M527.5 440.1h0M96.5 319.2h0M105.5 338h0M112.5 352.1h0M116.5 335.9h0M120.5 350.1h0M122.5 297h0M123.5 350.1h0M126.5 334.3h0M126.5 284.9h0M129.5 289.7h0M132.5 333.5h0M135.5 307.5h0M138.5 307.5h0M140.5 348h0M145.5 342.4h0M150.5 344.5h0M155.5 296.2h0M158.5 299.4h0M160.5 287.3h0M162.5 302.7h0M165.5 310.8h0M167.5 350h0M169.5 292.2h0M172.5 283.2h0M172.5 297h0M177.5 319.2h0M184.5 283.2h0M192.5 287.3h0M194.5 315.3h0M198.5 326.2h0M202.5 314h0M207.5 314h0M205.5 333.5h0M207.5 328.6h0M212.5 354.5h0M215.5 312.4h0M219.5 323.4h0M223.5 318.4h0M225.5 307.5h0M228.5 346.4h0M234.5 313.2h0M237.5 308.4h0M238.5 340.8h0M239.5 325.4h0M244.5 313.7h0M246.5 341.2h0M255.5 287.3h0M260.5 314h0M262.5 345.6h0M269.5 345.6h0M269.5 302.7h0M273.5 359.4h0M279.5 307.2h0M286.5 333.1h0M291.5 326.2h0M299.5 322.9h0M309.5 294.6h0M309.5 343.2h0M311.5 294.3h0M314.5 327.3h0M317.5 290.5h0M318.5 346.4h0M325.5 322.4h0M327.5 344.8h0M331.5 301.1h0M331.5 310h0M334.5 283.2h0M336.5 340.3h0M338.5 290.5h0M341.5 286.5h0M349.5 293.3h0M349.5 321.3h0M354.5 319.7h0M366.5 333.5h0M366.5 338.3h0M370.5 352.9h0M372.5 327.8h0M380.5 293h0M383.5 309.2h0M386.5 335.9h0M392.5 339.9h0M395.5 309.2h0M403.5 307.5h0M406.5 350h0M412.5 312.4h0M413.5 328.6h0M418.5 342.4h0M95.5 60.5h0M93.5 92.9h0M97.5 92.9h0M103.5 90.1h0M103.5 98.9h0M117.5 47.5h0M119.5 94h0M119.5 107h0M128.5 94.5h0M135.5 46.4h0M145.5 89.2h0M153.5 68.1h0M153.5 77.2h0M155.5 58.1h0M161.5 71.3h0M174.5 78.3h0M177.5 43.2h0M180.5 82.4h0M184.5 63.2h0M187.5 84h0M190.5 75.6h0M197.5 94h0M108.5 110.7h0M110.5 111.8h0M129.5 101.8h0M135.5 101.8h0M141.5 100.2h0M149.5 95.3h0M155.5 92.1h0M159.5 98.6h0M165.5 103.4h0M170.5 93.7h0M176.5 96.9h0M181.5 92.1h0M186.5 80.7h0M219.5 47h0M241.5 71h0M247.5 65.4h0M250.5 48.3h0M255.5 54.8h0M256.5 62.9h0M259.5 64.2h0M267.5 62.9h0M274.5 47h0M276.5 71h0M282.5 37h0M284.5 54.8h0M285.5 37h0M288.5 85.6h0M301.5 62.1h0M203.5 77.2h0M208.5 77.5h0M213.5 79.1h0M223.5 84.8h0M228.5 80.7h0M233.5 73.5h0M235.5 75.1h0M240.5 75.9h0M247.5 86.4h0M256.5 92.1h0M264.5 87.2h0M272.5 84h0M278.5 77.5h0M286.5 87.2h0M293.5 84.8h0M304.5 79.9h0M311.5 62.9h0M312.5 81.1h0M316.5 89.7h0M325.5 47.5h0M327.5 43.5h0M335.5 50h0M334.5 58.9h0M340.5 67h0M343.5 71h0M352.5 84h0M355.5 64.5h0M364.5 72.6h0M367.5 38.6h0M368.5 92.1h0M381.5 71.8h0M389.5 59.4h0M389.5 83.2h0M404.5 73h0M410.5 55.1h0M418.5 62.1h0M424.5 72.2h0M427.5 88.5h0M430.5 91.3h0M432.5 105h0M425.5 103.1h0M438.5 86.1h0M440.5 95.3h0M443.5 96.5h0M446.5 106.7h0M451.5 96.1h0M454.5 82.4h0M455.5 98.2h0M459.5 91.3h0M463.5 97.8h0M465.5 103.4h0M468.5 96.1h0M480.5 83.5h0M484.5 96.5h0M487.5 60.5h0M489.5 65.4h0M492.5 37.8h0M491.5 102.6h0M493.5 108.3h0M509.5 104.2h0M514.5 83.5h0M516.5 103.4h0M522.5 113.1h0M527.5 93.4h0M529.5 73.5h0M447.5 106.7h0M450.5 107.5h0M453.5 98.6h0M457.5 108.3h0M463.5 113.1h0M421.5 113.1h0M328.5 112.3h0M185.5 48.4h0M199.5 93.3h0M236.5 90h0M292.5 79.3h0M126.5 111.9h0M422.5 135.1h0M345.5 108.7h0M222.5 110.9h0M125.5 125.7h0M426.5 120h0M148.5 121.9h0M149.5 125.1h0M148.5 112.2h0M126.5 128.5h0M489.5 135.2h0M209.5 110.8h0M225.5 108.5h0M457.5 141.7h0M363.5 118.1h0M173.5 126h0M282.5 90h0M479.5 135.4h0M256.5 102.6h0M403.5 124.9h0M133.5 126.6h0M411.5 129h0M432.5 132h0M454.5 129h0M387.5 110.8h0M254.5 113.6h0M119.5 130.1h0M319.5 113.2h0M424.5 134.3h0M174.5 125.2h0M208.5 90h0M326.5 72.1h0M420.5 131.7h0M485.5 130.7h0M146.5 132.6h0M172.5 117.2h0M442.5 112.9h0M374.5 122.6h0M408.5 134.1h0M529.5 137.6h0M504.5 128.9h0M461.5 141.2h0M432.5 133.1h0M264.5 115.6h0M373.5 73.1h0M172.5 125.5h0M425.5 133.8h0M424.5 136h0M408.5 109.1h0M286.5 107.8h0M257.5 110.2h0M275.5 98.8h0M105.5 121h0M462.5 141.4h0M329.5 106.3h0M261.5 98.2h0M332.5 110h0M408.5 128.2h0M258.5 116.1h0M456.5 142.4h0M495.5 144.1h0M261.5 114.2h0M151.5 132h0M425.5 125.8h0M527.5 130.7h0M156.5 129.6h0M404.5 134.4h0M454.5 103h0M496.5 124.6h0M145.5 132.4h0M131.5 122.8h0M525.5 146h0M142.5 127.4h0M168.5 98.4h0M343.5 107.5h0M287.5 111.4h0M421.5 137.1h0M174.5 124h0M493.5 144.4h0M186.5 122.6h0M429.5 135.5h0M120.5 134.5h0M299.5 113.8h0M105.5 113.3h0M229.5 109.1h0M228.5 107.1h0M407.5 133.1h0M291.5 111.1h0M115.5 121.6h0M528.5 140.6h0M482.5 119.8h0M494.5 143h0M199.5 119h0M264.5 109.8h0M190.5 95.4h0M145.5 123.7h0M105.5 136h0M312.5 100.8h0M145.5 132.1h0M168.5 126h0M469.5 117.4h0M304.5 107.4h0M171.5 106.6h0M385.5 127.6h0M207.5 115h0M322.5 114.8h0M215.5 112.5h0M318.5 102.5h0M367.5 118.7h0M326.5 80.2h0M265.5 113.4h0M438.5 133.3h0M475.5 130.9h0M169.5 127.4h0M150.5 129.7h0M140.5 127.5h0M522.5 136.9h0M505.5 109.9h0M192.5 90.1h0M517.5 135.1h0M182.5 121.6h0M313.5 109.4h0M309.5 111.5h0M493.5 138.4h0M108.5 135.7h0M229.5 116.4h0M354.5 99.9h0M120.5 114.2h0M195.5 120.9h0M295.5 104.2h0M478.5 140.8h0M425.5 120.6h0M455.5 117.7h0M425.5 122.2h0M402.5 130.2h0M464.5 142.3h0M390.5 120.2h0M414.5 117h0M223.5 113.7h0M164.5 102.8h0M423.5 110.7h0M163.5 125.5h0M495.5 111.2h0M353.5 118.7h0M235.5 104.8h0M503.5 140.3h0M159.5 128.9h0M317.5 102.3h0M131.5 107.1h0M515.5 144.1h0M344.5 107.5h0M444.5 128.4h0M215.5 119.9h0M443.5 136.6h0M400.5 132.3h0M374.5 95.7h0M509.5 137.3h0M281.5 114.9h0M273.5 111.2h0M395.5 95.8h0M458.5 135.2h0M238.5 107.2h0M385.5 94.9h0M182.5 113.4h0M333.5 106.1h0M429.5 125.7h0M119.5 125.9h0M411.5 104.4h0M97.5 128.9h0M512.5 116h0M297.5 101.8h0M270.5 110h0M407.5 106.6h0M321.5 114.5h0M412.5 117.4h0M128.5 121.3h0M338.5 109.2h0M336.5 115.8h0M501.5 132.6h0M108.5 122.7h0M290.5 107.9h0M368.5 119.2h0M333.5 106.7h0M123.5 122.6h0M352.5 101.9h0M188.5 98.3h0M177.5 119.8h0M477.5 117.4h0M178.5 121.9h0M290.5 90.8h0M421.5 130h0M402.5 127.2h0M334.5 102h0M446.5 140.4h0M295.5 92h0M363.5 113.8h0M451.5 139h0M389.5 118.3h0M373.5 95.6h0M269.5 93.5h0M336.5 114.5h0M265.5 115.7h0M418.5 123.2h0M258.5 112.2h0M296.5 104.9h0M423.5 116.2h0M312.5 112h0M239.5 103.2h0M454.5 138.8h0M258.5 114.8h0M462.5 132.6h0M436.5 113.6h0M287.5 104.5h0M404.5 114.3h0M106.5 126.4h0M262.5 114h0M469.5 137.8h0M345.5 51.6h0M336.5 113.3h0M383.5 116.8h0M389.5 124.1h0M347.5 100.4h0M276.5 109.4h0M171.5 124.5h0M219.5 100.3h0M219.5 118.5h0M280.5 98.8h0M530.5 101.8h0M246.5 117.2h0M287.5 110.6h0M254.5 114.7h0M346.5 116h0M508.5 121.4h0M482.5 132.3h0M256.5 111h0M208.5 119.9h0M480.5 128.4h0M308.5 86.1h0M392.5 125.1h0M123.5 129h0M472.5 134.6h0M228.5 112.8h0M308.5 106.2h0M178.5 105.1h0M275.5 107.5h0M455.5 135.6h0M455.5 136.9h0M299.5 114h0M428.5 124.5h0M292.5 100.6h0M255.5 114.9h0M331.5 108.4h0M179.5 107.5h0M230.5 111.5h0M401.5 129h0M430.5 126.6h0M115.5 114h0M413.5 125.4h0M450.5 120.5h0M286.5 105.6h0M118.5 110.1h0M391.5 121.8h0M199.5 106h0M374.5 117.2h0M256.5 110.5h0M371.5 119.3h0M204.5 107.7h0M300.5 111.5h0M321.5 114.3h0M368.5 95.8h0M180.5 123.6h0M514.5 130.5h0M218.5 117.8h0M225.5 113.9h0M203.5 120.4h0M120.5 126.3h0M277.5 103.6h0M430.5 133.5h0M403.5 104.4h0M177.5 111.8h0M151.5 127.2h0M232.5 101.9h0M429.5 138.5h0M305.5 104.9h0M497.5 139h0M379.5 125.4h0M364.5 113.8h0M428.5 133h0M421.5 129.8h0M242.5 116.4h0M204.5 75.8h0M283.5 115.7h0M306.5 111.9h0M153.5 90.3h0M285.5 112.4h0M372.5 122.4h0M150.5 112.4h0M151.5 123.3h0M167.5 98.3h0M215.5 104.6h0M514.5 128.8h0M102.5 134.6h0M171.5 102h0M163.5 105h0M299.5 85.5h0M97.5 125.6h0M292.5 113.5h0M162.5 94.2h0M209.5 108h0M439.5 102.3h0M171.5 126.7h0M362.5 88.5h0M269.5 112.2h0M274.5 113.4h0M450.5 133.6h0M161.5 124.2h0M497.5 133h0M484.5 86.2h0M385.5 128.3h0M112.5 131h0M382.5 90.1h0M355.5 109.2h0M430.5 120.6h0M185.5 117.9h0M510.5 133.8h0M480.5 141.4h0M141.5 115.5h0M229.5 89.4h0M105.5 108.6h0M456.5 142h0M493.5 122.8h0M526.5 131.4h0M360.5 104.3h0M384.5 120.3h0M389.5 82.9h0M341.5 106.1h0M510.5 111.7h0M358.5 113.1h0M238.5 104.2h0M316.5 99.3h0M99.5 126.7h0M409.5 72.2h0M396.5 110.7h0M276.5 101.9h0M465.5 139.4h0M423.5 124.5h0M239.5 80.7h0M125.5 130.1h0M149.5 120h0M172.5 124.4h0M224.5 99.3h0M287.5 116h0M499.5 143.9h0M213.5 103.3h0M486.5 138.1h0M390.5 110h0M466.5 139h0M268.5 105.5h0M92.5 124.9h0M437.5 136.1h0M199.5 116.7h0M153.5 120.8h0M442.5 130.5h0M392.5 120.5h0M184.5 120.2h0M208.5 100.6h0M504.5 143.8h0M209.5 112.7h0M400.5 119.7h0M148.5 106.9h0M449.5 139.1h0M142.5 121.5h0M318.5 88h0M106.5 116.8h0M333.5 112.9h0M463.5 136.1h0M128.5 132.8h0M211.5 108.3h0M427.5 137.1h0M358.5 96.8h0M228.5 116.5h0M367.5 119.9h0M291.5 88h0M470.5 116.1h0M219.5 115.2h0M424.5 137.9h0M370.5 117.3h0M416.5 136.1h0M257.5 105.5h0M409.5 133.1h0M398.5 95.6h0M261.5 106h0M102.5 131.6h0M514.5 142.4h0M404.5 107.4h0M181.5 122.3h0M412.5 131.9h0M213.5 118.4h0M297.5 72.3h0M469.5 138.3h0M288.5 112.4h0M217.5 102.7h0M225.5 116.8h0M124.5 120.7h0M187.5 120.2h0M210.5 120.1h0M167.5 80.6h0M118.5 119.2h0M295.5 101.7h0M185.5 118.3h0M416.5 135.9h0M496.5 143.8h0M211.5 113.4h0M342.5 116.7h0M313.5 92.2h0M124.5 113.4h0M145.5 120.2h0M480.5 110.7h0M299.5 115.2h0M445.5 140.2h0M120.5 115.6h0M352.5 112h0M471.5 130.2h0M472.5 141.2h0M93.5 129.9h0M320.5 113.5h0M253.5 110h0M425.5 131.6h0M123.5 110.9h0M207.5 82.1h0M448.5 125.6h0M297.5 108h0M290.5 114.2h0M517.5 122.2h0M231.5 58.1h0M109.5 135.5h0M263.5 106.1h0M158.5 126.1h0M127.5 118.2h0M340.5 111.4h0M510.5 129.4h0M345.5 95.3h0M375.5 100.8h0M233.5 109.6h0M342.5 114.3h0M421.5 120.6h0M350.5 117h0M444.5 112.6h0M333.5 107.7h0M178.5 122.6h0M347.5 111.3h0M307.5 113.7h0M164.5 122.7h0M363.5 115.8h0M450.5 127.1h0M150.5 97.3h0M330.5 100.1h0M413.5 130.8h0M268.5 105.4h0M209.5 120.1h0M254.5 115h0M329.5 107.9h0M393.5 115.1h0M337.5 111h0M138.5 113.4h0M450.5 101.7h0M497.5 143.1h0M135.5 116.8h0M200.5 107.9h0M167.5 122.9h0M464.5 132.6h0M491.5 133.1h0M110.5 126.3h0M237.5 114.8h0M175.5 118.8h0M297.5 114.9h0M496.5 135.2h0M121.5 127.9h0M166.5 109.3h0M305.5 111.8h0M321.5 105.5h0M419.5 133.7h0M283.5 113.5h0M153.5 110.3h0M246.5 108.9h0M523.5 99.8h0M421.5 135.2h0M142.5 127h0M446.5 132.8h0M227.5 108.7h0M434.5 136.7h0M96.5 133.3h0M474.5 122.9h0M162.5 106h0M291.5 77.3h0M382.5 104.1h0M314.5 114.5h0M163.5 123.8h0M152.5 126.3h0M216.5 117.7h0M114.5 121h0M186.5 105.1h0M148.5 95.1h0M295.5 107h0M247.5 101.1h0M349.5 100.9h0M214.5 104.2h0M105.5 132.4h0M236.5 96.7h0M423.5 125.7h0M203.5 113.8h0M269.5 116.5h0M423.5 98.9h0M269.5 106.3h0M481.5 138.1h0M494.5 142.9h0M227.5 110.7h0M414.5 115.8h0M202.5 101.3h0M152.5 128.4h0M283.5 92.2h0M356.5 118.6h0M502.5 136.7h0M155.5 130.4h0M404.5 122.4h0M300.5 112.4h0M148.5 129.2h0M518.5 144.2h0M397.5 128.8h0M147.5 120.8h0M489.5 131.9h0M136.5 130.5h0M131.5 126.7h0M236.5 103.6h0M503.5 135.1h0M105.5 94.6h0M495.5 107.1h0M360.5 118.3h0M120.5 116.3h0M341.5 91.4h0M292.5 89.9h0M339.5 88.4h0M415.5 129.2h0M389.5 122.2h0M529.5 142.4h0M224.5 240.4h0M334.5 208.6h0M378.5 311.1h0M478.5 265.6h0M477.5 384.1h0M201.5 203.2h0M419.5 246.9h0M370.5 220.2h0M260.5 219.9h0M432.5 244.5h0M485.5 225.8h0M301.5 209.8h0M494.5 220h0M147.5 208.5h0M164.5 226.9h0M427.5 226h0M225.5 198.2h0M348.5 230.4h0M309.5 216.2h0M155.5 221.4h0M422.5 281.4h0M417.5 241.9h0M154.5 213.9h0M205.5 207.5h0M443.5 288h0M492.5 223.2h0M473.5 261h0M311.5 215.4h0M252.5 248.7h0M286.5 208.3h0M168.5 263.1h0M309.5 207h0M192.5 247.5h0M162.5 207.9h0M258.5 234.5h0M119.5 224.6h0M297.5 221h0M397.5 237.8h0M377.5 217.9h0M520.5 378h0M480.5 249.5h0M369.5 223.5h0M485.5 232.4h0M286.5 222.9h0M442.5 245.8h0M216.5 235.7h0M322.5 219.3h0M522.5 237.3h0M354.5 336.8h0M313.5 246.7h0M437.5 249.3h0M228.5 221h0M456.5 233.8h0M99.5 326.2h0M195.5 210.7h0M168.5 283.6h0M204.5 266.5h0M507.5 227.6h0M101.5 224.5h0M222.5 214.8h0M343.5 214.3h0M400.5 262.8h0M431.5 238.4h0M259.5 214.6h0M187.5 202.8h0M466.5 223.9h0M144.5 222.4h0M119.5 222.3h0M192.5 203.5h0M307.5 249.5h0M505.5 274.9h0M411.5 282.8h0M339.5 231.4h0M320.5 268.2h0M396.5 219.5h0M366.5 265.2h0M238.5 218.9h0M131.5 220.5h0M179.5 281h0M435.5 223.4h0M370.5 215.5h0M441.5 260.9h0M110.5 257.9h0M487.5 237.9h0M259.5 220.3h0M498.5 244h0M352.5 271.8h0M331.5 233.9h0M450.5 222.9h0M366.5 220.7h0M387.5 289.7h0M160.5 228.3h0M356.5 227.3h0M247.5 199.5h0M124.5 207.8h0M149.5 203.5h0M302.5 223.7h0M206.5 264.2h0M427.5 252.8h0M144.5 209.6h0M97.5 243.6h0M529.5 220.5h0M228.5 254.9h0M315.5 287.1h0M183.5 201.5h0M182.5 206.1h0M268.5 199h0M438.5 221.5h0M108.5 223.6h0M459.5 237.4h0M526.5 226.1h0M337.5 253.5h0M249.5 232.3h0M193.5 199.8h0M171.5 209.5h0M233.5 218.2h0M465.5 221h0M92.5 225.9h0M436.5 291.7h0M384.5 232.5h0M99.5 246.3h0M121.5 257.3h0M414.5 248.1h0M387.5 271.1h0M228.5 208h0M469.5 222.1h0M183.5 199.6h0M278.5 232.8h0M141.5 207.3h0M375.5 218.7h0M129.5 219.8h0M169.5 225.3h0M428.5 252.2h0M311.5 203h0M382.5 226.2h0M413.5 223.2h0M357.5 212.6h0M178.5 205.9h0M398.5 219.2h0M142.5 226.3h0M209.5 219h0M288.5 221.9h0M141.5 211.3h0M137.5 256.2h0M377.5 229.8h0M417.5 259.8h0M254.5 217.2h0M262.5 212.8h0M182.5 206.8h0M320.5 220.6h0M346.5 209.5h0M501.5 224.1h0M108.5 216h0M490.5 227.9h0M526.5 249.1h0M243.5 246.8h0M410.5 224.4h0M453.5 226.9h0M377.5 235.4h0M218.5 207.2h0M365.5 215.9h0M476.5 293.9h0M138.5 238.9h0M302.5 235.1h0M100.5 226.5h0M462.5 226.2h0M433.5 240.4h0M111.5 218h0M419.5 219.9h0M395.5 233.2h0M146.5 218.1h0M322.5 222.5h0M394.5 268.1h0M238.5 208.6h0M312.5 238.8h0M520.5 247h0M370.5 226.2h0M311.5 210.7h0M120.5 247.7h0M144.5 309.6h0M465.5 278.2h0M417.5 279.5h0M458.5 235.9h0M345.5 225.6h0M344.5 217.3h0M324.5 227.3h0M414.5 222.8h0M236.5 236.9h0M309.5 214.4h0M297.5 204.6h0M382.5 225.3h0M186.5 225.8h0M102.5 264.6h0M129.5 229.4h0M169.5 251.2h0M468.5 315.6h0M406.5 225h0M420.5 276.6h0M286.5 210h0M136.5 228.7h0M295.5 207.8h0M470.5 235.2h0M315.5 220.7h0M369.5 223.4h0M255.5 311.5h0M157.5 245.2h0M366.5 215h0M304.5 202.4h0M243.5 198.4h0M204.5 232.4h0M397.5 224.6h0M230.5 274.2h0M344.5 236.8h0M205.5 234.5h0M422.5 222.8h0M255.5 224h0M301.5 200.9h0M499.5 279.4h0M407.5 247.2h0M414.5 236.6h0M240.5 202.4h0M460.5 245.2h0M260.5 221.5h0M525.5 240.9h0M485.5 230.9h0M381.5 247.5h0M456.5 247.7h0M330.5 229.5h0M413.5 320.1h0M145.5 243.1h0M525.5 262.3h0M443.5 249h0M153.5 285.8h0M197.5 227.6h0M343.5 258.8h0M426.5 220.8h0M156.5 209.1h0M513.5 330.1h0M243.5 200.5h0M528.5 224.8h0M422.5 264.8h0M304.5 234.8h0M250.5 202.2h0M133.5 251.6h0M129.5 241.7h0M367.5 223.1h0M431.5 284.1h0M490.5 226.6h0M251.5 203.1h0M503.5 224.4h0M221.5 226h0M504.5 312.5h0M495.5 378.4h0M159.5 200.5h0M469.5 221h0M400.5 231.1h0M400.5 248.6h0M460.5 236.9h0M327.5 257.1h0M313.5 268.2h0M252.5 254.7h0M471.5 248h0M487.5 220.3h0M161.5 203.9h0M430.5 319.1h0M212.5 242h0M171.5 207.1h0M177.5 210.8h0M343.5 214.3h0M214.5 238.9h0M197.5 206.9h0M134.5 229.3h0M233.5 207.9h0M431.5 224.3h0M100.5 278.3h0M303.5 220.7h0M356.5 225h0M112.5 226.3h0M220.5 222.4h0M489.5 227.9h0M528.5 343h0M465.5 224.3h0M165.5 230.7h0M427.5 261.9h0M289.5 227h0M166.5 219.2h0M302.5 203.2h0M497.5 221.7h0M476.5 246.1h0M263.5 201.8h0M118.5 229.3h0M487.5 226.9h0M524.5 260.1h0M316.5 212.5h0M190.5 235h0M330.5 208.8h0M397.5 238.7h0M303.5 216.7h0M246.5 239.8h0M200.5 237.5h0M221.5 271.1h0M112.5 240.5h0M203.5 206.4h0M510.5 317.2h0M94.5 352.6h0M411.5 305h0M438.5 262.9h0M269.5 209.5h0M352.5 244.7h0M188.5 263.1h0M384.5 227.3h0M402.5 246.1h0M414.5 222.5h0M307.5 203.5h0M517.5 239.3h0M472.5 223h0M342.5 215h0M391.5 228.9h0M211.5 243.8h0M506.5 261.5h0M374.5 261.3h0M484.5 233.2h0M217.5 222.2h0M523.5 227.4h0M137.5 206.2h0M324.5 225.4h0M139.5 209.1h0M174.5 210.2h0M427.5 246.3h0M120.5 266h0M259.5 216.1h0M175.5 228.4h0M465.5 249.9h0M127.5 209.5h0M239.5 199.1h0M467.5 234.5h0M393.5 237.4h0M400.5 224.9h0M527.5 226.1h0M101.5 228.8h0M383.5 231.3h0M418.5 348.3h0M420.5 221.1h0M405.5 257.7h0M122.5 255.1h0M127.5 215.2h0M431.5 316.2h0M360.5 231.6h0M206.5 260.1h0M95.5 214.3h0M325.5 215.6h0M130.5 271.6h0M420.5 328.7h0M240.5 208.1h0M446.5 296h0M133.5 208.6h0M308.5 201.7h0M134.5 220.6h0M434.5 239.8h0M337.5 249.7h0M194.5 203h0M514.5 311.5h0M391.5 294.5h0M238.5 253.7h0M467.5 284.4h0M258.5 212.4h0M505.5 223.4h0M221.5 225.6h0M524.5 224.6h0M118.5 215.1h0M414.5 238.2h0M219.5 229.5h0M277.5 252.5h0M370.5 230.4h0M111.5 243.6h0M189.5 275.8h0M136.5 302.3h0M416.5 255.6h0M188.5 239.7h0M310.5 224.7h0M235.5 227.7h0M194.5 241.7h0M502.5 247.5h0M314.5 208.8h0M377.5 219h0M400.5 242.5h0M452.5 314.3h0M206.5 226.1h0M125.5 209.2h0M296.5 251.5h0M165.5 200.1h0M99.5 244.8h0M495.5 252.2h0M366.5 244.3h0M273.5 199.5h0M151.5 202.8h0M425.5 235.4h0M325.5 213.5h0M167.5 218h0M523.5 246.3h0M509.5 221.6h0M498.5 225.9h0M454.5 240.8h0M324.5 307.8h0M223.5 205h0M377.5 248.4h0M157.5 305.5h0M362.5 218.7h0M120.5 237.7h0M96.5 226h0M405.5 256.7h0M241.5 248.7h0M397.5 222.5h0M434.5 257.4h0M458.5 230.3h0M361.5 301.1h0M463.5 221.8h0M380.5 233.4h0M499.5 393.5h0M485.5 220.5h0M110.5 231.1h0M208.5 208.6h0M262.5 216.1h0M201.5 202.2h0M168.5 295.3h0M475.5 224.4h0M102.5 242.1h0M171.5 368.5h0M425.5 225.9h0M189.5 209.7h0M204.5 241.8h0M516.5 220.7h0M426.5 251.1h0M288.5 210.6h0M150.5 212.9h0M209.5 238.4h0M522.5 222.4h0M439.5 223.2h0M121.5 230.2h0M402.5 293.5h0M256.5 203.3h0M407.5 233.8h0M220.5 198.5h0M148.5 220.1h0M99.5 224h0M221.5 244.7h0M469.5 272.9h0M483.5 245.5h0M391.5 319.3h0M420.5 244.1h0M176.5 208.4h0M246.5 214.8h0M486.5 241.1h0M524.5 281.5h0M285.5 249.2h0M432.5 299.2h0M501.5 267.4h0M529.5 224.5h0M221.5 212.5h0M378.5 216h0M262.5 267.1h0M295.5 201.2h0M294.5 215.5h0M213.5 229h0M99.5 371.6h0M428.5 326.5h0M397.5 222.6h0M460.5 235.7h0M158.5 217.2h0M195.5 202.4h0M353.5 259.7h0M503.5 258.4h0M298.5 221.3h0M179.5 269.7h0M352.5 225.9h0M512.5 246.1h0M472.5 253.9h0M486.5 229h0M271.5 209.4h0M206.5 215.6h0M474.5 233.2h0M437.5 223.5h0M465.5 253.9h0M263.5 205.6h0M216.5 221.6h0M196.5 200.6h0M474.5 259.1h0M495.5 254.3h0M252.5 263.9h0M475.5 243.6h0M258.5 316.6h0M288.5 202h0M340.5 232.3h0M188.5 217.4h0M208.5 215h0M208.5 220.6h0M205.5 274.8h0M317.5 229.5h0M135.5 219.5h0M434.5 239.4h0M167.5 216.6h0M286.5 200.5h0M373.5 233h0M151.5 291.8h0M271.5 306.5h0M338.5 269.7h0M333.5 224.1h0M483.5 293h0M436.5 238.1h0M144.5 232.6h0M457.5 244.3h0M332.5 212h0M389.5 301.3h0M161.5 232.6h0M298.5 263.4h0M398.5 223.5h0M441.5 314.1h0M445.5 265.4h0M186.5 203h0M457.5 223.6h0M341.5 270.1h0M385.5 226.5h0M465.5 224.8h0M269.5 341.3h0M495.5 230.1h0M478.5 284.9h0M446.5 267.8h0M258.5 233.5h0M323.5 226.9h0M167.5 207.3h0M425.5 252.8h0M483.5 248.2h0M161.5 261.7h0M418.5 227.6h0M396.5 415h0M107.5 245h0M494.5 291.9h0M301.5 248.8h0M209.5 227.4h0M104.5 231.9h0M435.5 255.4h0M239.5 200.5h0M316.5 203.4h0M176.5 208.2h0M358.5 229.6h0M265.5 199.1h0M445.5 227.1h0M384.5 221.9h0M408.5 323.3h0M201.5 227.3h0M119.5 226.3h0M478.5 263.4h0M502.5 247.5h0M374.5 314h0M496.5 225.6h0M401.5 259.8h0M357.5 213.5h0M275.5 199.5h0M247.5 245.9h0M306.5 203.4h0M188.5 211.6h0M279.5 208h0M314.5 207.4h0M104.5 218.7h0M264.5 256.9h0M216.5 215.6h0M370.5 223.4h0M448.5 235.8h0M361.5 221.8h0M383.5 221.8h0M361.5 248.5h0M203.5 223.8h0M256.5 216.9h0M462.5 270.9h0M507.5 222.1h0M170.5 218.6h0M95.5 293.7h0M514.5 227.6h0M469.5 220.3h0M358.5 216h0M450.5 261.1h0M352.5 212.5h0M489.5 222h0M198.5 229.8h0M286.5 200.2h0M386.5 217.6h0M185.5 227.6h0M405.5 240.9h0M206.5 198.9h0M403.5 290.6h0M444.5 225.6h0M277.5 217.9h0M526.5 243.5h0M368.5 217.4h0M423.5 242h0M100.5 257.9h0M140.5 260.1h0M404.5 225.3h0M505.5 272.7h0M367.5 229.6h0M431.5 288h0M492.5 228.1h0M160.5 212.5h0M530.5 237.8h0M207.5 226.9h0M356.5 224.8h0M283.5 242.9h0M509.5 239.5h0M195.5 211.2h0M271.5 273.1h0M229.5 209.8h0M397.5 245.5h0M243.5 223.4h0M479.5 326.7h0M403.5 311.8h0M167.5 234.3h0M391.5 231.8h0M396.5 227.3h0M523.5 270.9h0M107.5 218.9h0M177.5 222.5h0M344.5 256.2h0M127.5 234.4h0M345.5 243h0M268.5 208.3h0M424.5 265.4h0M308.5 226.5h0M248.5 268.2h0M185.5 208.5h0M247.5 222.2h0M249.5 214.2h0M140.5 231.1h0M473.5 241.3h0M132.5 236.7h0M203.5 208.2h0M159.5 220.7h0M157.5 209.1h0M400.5 228.6h0M280.5 208.9h0M386.5 225.2h0M297.5 222.5h0M278.5 230.5h0M241.5 259.1h0M199.5 264h0M188.5 211.5h0M242.5 208.6h0M436.5 227.6h0M339.5 239.3h0M249.5 239.9h0M376.5 260.1h0M197.5 218h0M384.5 291.9h0M403.5 232.5h0M154.5 243.6h0M358.5 241.4h0M252.5 217.5h0M111.5 221.6h0M143.5 228.5h0M381.5 264.9h0M249.5 271.2h0M379.5 237.6h0M123.5 216.1h0M330.5 229.7h0M454.5 236.4h0M309.5 246.1h0M403.5 233.4h0M293.5 214.3h0M105.5 234.7h0M357.5 256.4h0M119.5 215.9h0M328.5 218.4h0M400.5 226.3h0M387.5 284.6h0M122.5 225.3h0M177.5 273.4h0M444.5 240.5h0M296.5 211.9h0M316.5 260.2h0M318.5 244.5h0M341.5 269.6h0M300.5 232.8h0M95.5 230.2h0M344.5 230.4h0M151.5 214.9h0M337.5 315.9h0M383.5 254.3h0M97.5 238.8h0M334.5 234.1h0M246.5 222.6h0M279.5 213.4h0M238.5 222.2h0M177.5 218.9h0M472.5 230.1h0M135.5 215.7h0M479.5 263.3h0M193.5 263h0M137.5 220.8h0M379.5 279.7h0M484.5 280.8h0M231.5 213.6h0M181.5 334.8h0M505.5 245.1h0M261.5 274.2h0M126.5 265h0M352.5 222h0M523.5 244.6h0M210.5 219.2h0M495.5 247.8h0M135.5 227.4h0M446.5 233.7h0M129.5 287.3h0M184.5 232.8h0M506.5 261.4h0M135.5 213h0M255.5 224.3h0M344.5 229.8h0M492.5 275.8h0M254.5 210.8h0M173.5 217.1h0M215.5 228.8h0M242.5 257.4h0M161.5 226.2h0M158.5 219.8h0M233.5 218.4h0M348.5 262.8h0M236.5 215.9h0M237.5 212.9h0M395.5 289.9h0M414.5 227.7h0M261.5 214.7h0M468.5 237.9h0M193.5 220.7h0M196.5 218.6h0M429.5 230.4h0M207.5 214h0M458.5 244h0M359.5 259h0M222.5 210.3h0M476.5 250h0M179.5 212.2h0M149.5 211.2h0M336.5 227.3h0M477.5 250h0M353.5 232.1h0M285.5 210.3h0M153.5 219.2h0M297.5 218.7h0M494.5 257.3h0M358.5 231.4h0M333.5 215.3h0M178.5 218.8h0M156.5 222.2h0M348.5 229.8h0M310.5 211.6h0M161.5 208.9h0M310.5 235.7h0M219.5 209.1h0M291.5 226h0M393.5 263.2h0M232.5 226h0M383.5 240.7h0M99.5 251.5h0M331.5 232h0M194.5 223.2h0M221.5 210.5h0M112.5 228.9h0M188.5 218.6h0M151.5 240.7h0M224.5 214.2h0M355.5 233.3h0M414.5 229.4h0M277.5 233.1h0M255.5 263.3h0M96.5 234.2h0M375.5 254.1h0M413.5 244.2h0M311.5 226.3h0M199.5 235.5h0M114.5 220.7h0M103.5 232.4h0M151.5 236h0M409.5 251.4h0M292.5 242.6h0M161.5 226.3h0M442.5 230.9h0M222.5 211.8h0M509.5 245.1h0M168.5 208.8h0M323.5 229.1h0M327.5 216.6h0M311.5 209.7h0M331.5 239.4h0M284.5 226.5h0M269.5 222.5h0M327.5 222.6h0M365.5 242.1h0M400.5 235h0M486.5 231.1h0M379.5 234h0M155.5 224.3h0M122.5 236.7h0M295.5 224.2h0M97.5 235h0M232.5 231h0M343.5 242.5h0M170.5 214.9h0M466.5 284.5h0M350.5 221.9h0M110.5 238.4h0M346.5 224.5h0M224.5 260.8h0M447.5 268.7h0M204.5 213.8h0M189.5 212.4h0M386.5 243.7h0M201.5 245.5h0M394.5 228.4h0M188.5 224h0M336.5 229.4h0M303.5 208.8h0M472.5 255.9h0M224.5 221.7h0M283.5 252.9h0M100.5 264.5h0M461.5 253h0M272.5 223.7h0M440.5 255.1h0M250.5 224.8h0M300.5 230.1h0M350.5 239.5h0M153.5 217.5h0M330.5 230.8h0M413.5 239h0M189.5 250.6h0M222.5 255.1h0M250.5 207.2h0M217.5 275.5h0M468.5 238.1h0M475.5 256.5h0M310.5 226.8h0M197.5 266.9h0M117.5 216.9h0M506.5 254.2h0M183.5 242.8h0M305.5 226h0M355.5 223.3h0M308.5 217.1h0M324.5 222.5h0M222.5 240.4h0M248.5 210.6h0M414.5 252.3h0M194.5 215.7h0M210.5 229.1h0M263.5 208.3h0M254.5 207.9h0M485.5 250.3h0M200.5 221.8h0M226.5 208.8h0M483.5 258.7h0M399.5 235.3h0M397.5 240.5h0M190.5 244.7h0M387.5 238.2h0M322.5 217.8h0M162.5 274h0M306.5 230.5h0M291.5 213.8h0M374.5 222.8h0M401.5 232.7h0M460.5 258.7h0M391.5 226.6h0M473.5 233.8h0M214.5 215.6h0M269.5 224h0M493.5 283.4h0M440.5 246.8h0M268.5 317h0M461.5 251.6h0M449.5 251.1h0M140.5 217.7h0M215.5 216h0M297.5 268.5h0M379.5 245.2h0M195.5 213.2h0M414.5 274.5h0M231.5 222.9h0M465.5 236.5h0M474.5 246.3h0M190.5 208.5h0M338.5 220h0M280.5 207.6h0M252.5 219.5h0M128.5 220.1h0M524.5 230.5h0M132.5 125.7h0M115.5 123.3h0M335.5 86.6h0M405.5 112.4h0M490.5 134.3h0M381.5 112h0M181.5 77.5h0M466.5 126.5h0M375.5 105.9h0M188.5 107.8h0M257.5 103.4h0M154.5 100h0M281.5 105.9h0M526.5 135.2h0M259.5 96.9h0M444.5 122.2h0M127.5 119.5h0M143.5 107.9h0M148.5 118.4h0M359.5 98.1h0M338.5 91.2h0M181.5 113.3h0M328.5 87.7h0M378.5 70.3h0M352.5 96.5h0M273.5 77.5h0M376.5 115.9h0M407.5 114.7h0M159.5 118.6h0M514.5 132.4h0M508.5 126h0M451.5 130.6h0M176.5 110.8h0M349.5 105.3h0M259.5 96.7h0M322.5 105.8h0M290.5 102.2h0M306.5 106.1h0M102.5 126.6h0M162.5 114.6h0M520.5 136.8h0M364.5 105.7h0M161.5 121.3h0M298.5 102.9h0M201.5 105.7h0M398.5 94.1h0M199.5 107.9h0M168.5 119.7h0M148.5 122.6h0M213.5 109.8h0M267.5 99.5h0M212.5 104.5h0M402.5 107.6h0M393.5 58.6h0M132.5 84.7h0M212.5 110.7h0M470.5 133.6h0M125.5 124.5h0M183.5 106.1h0M458.5 129.5h0M141.5 125.2h0M507.5 137.4h0M143.5 124.9h0M339.5 101.4h0M431.5 103.3h0M202.5 110.2h0M159.5 100.2h0M366.5 111.7h0M435.5 126.5h0M459.5 126.9h0M93.5 127h0M109.5 124.9h0M91.5 127.8h0M431.5 124.6h0M372.5 108.4h0M102.5 114.3h0M422.5 127.7h0M345.5 96.6h0M144.5 125h0M351.5 96.9h0M180.5 116.3h0M483.5 135.3h0M161.5 112.7h0M450.5 119.6h0M183.5 112.5h0M449.5 133.5h0M358.5 91.7h0M453.5 118.1h0M264.5 100.5h0M318.5 106.2h0M429.5 130h0M402.5 116.9h0M352.5 94.4h0M518.5 116.7h0M222.5 90.8h0M293.5 87.8h0M502.5 113.4h0M148.5 112.6h0M242.5 107.7h0M528.5 126.6h0M262.5 94.4h0M199.5 104.6h0M459.5 134.1h0M361.5 109.7h0M196.5 99.6h0M304.5 104.1h0M492.5 134.3h0M217.5 111.4h0M467.5 108.3h0M448.5 132.2h0M271.5 91.1h0M165.5 110.3h0M170.5 114h0M393.5 110.9h0M503.5 135.1h0M338.5 106.7h0M518.5 134.3h0M316.5 93.9h0M228.5 109.7h0M397.5 110.2h0M99.5 121.2h0M281.5 101.4h0M227.5 106.4h0M110.5 114.1h0M194.5 112.7h0M444.5 123.2h0M509.5 135.2h0M170.5 115.6h0M150.5 111.1h0M410.5 126.7h0M526.5 134.6h0M290.5 105.2h0M524.5 136.1h0M155.5 120.8h0M289.5 103.9h0M92.5 121.6h0M270.5 101.3h0M376.5 101.8h0M360.5 111.4h0M359.5 53.9h0M471.5 129.7h0M95.5 104.4h0M407.5 123.1h0M250.5 91.8h0M305.5 94.5h0M187.5 92.3h0M525.5 133.5h0M491.5 132.6h0M378.5 108.4h0M395.5 112.9h0M282.5 106.8h0M440.5 121h0M237.5 91.7h0M366.5 90.7h0M358.5 91.2h0M518.5 110.3h0M169.5 110.8h0M402.5 123.8h0M296.5 106h0M177.5 116.2h0M390.5 118.3h0M496.5 111.8h0M187.5 111.4h0M336.5 104.2h0M213.5 104.3h0M261.5 100.7h0M395.5 118.5h0M123.5 120.7h0M312.5 100.3h0M412.5 110.8h0M154.5 120.7h0M517.5 135.6h0M487.5 134.1h0M448.5 126.3h0M269.5 90.7h0M501.5 127.8h0M338.5 80.3h0M185.5 94.8h0M329.5 99.9h0M389.5 101.7h0M517.5 110.9h0M496.5 125.5h0M312.5 104.2h0M497.5 123h0M251.5 108.1h0M165.5 113.2h0M494.5 135.2h0M126.5 111.8h0M429.5 103.7h0M188.5 113.8h0M391.5 119.5h0M465.5 127.7h0M178.5 116.3h0M351.5 109.3h0M129.5 109h0M313.5 98.9h0M283.5 90.1h0M182.5 109.7h0M132.5 102.9h0M209.5 108.4h0M378.5 96.6h0M333.5 103.8h0M323.5 101.7h0M517.5 129.9h0M208.5 102.6h0M399.5 123.6h0M375.5 115.6h0M335.5 105.1h0M256.5 96.5h0M340.5 108.5h0M372.5 110.9h0M392.5 116.8h0M495.5 134.5h0M370.5 107h0M278.5 104.2h0M469.5 132.8h0M351.5 106.7h0M107.5 114.4h0M504.5 129.2h0M492.5 121.3h0M268.5 92.2h0M529.5 136.6h0M476.5 101.5h0M211.5 92.8h0M504.5 130.7h0M119.5 116.2h0M405.5 126.5h0M127.5 118.6h0M433.5 130.2h0M283.5 86.9h0M226.5 108h0M515.5 128.1h0M260.5 48.1h0M183.5 112.2h0M236.5 100.9h0M489.5 123.4h0M291.5 106.6h0M354.5 104.9h0M460.5 129.5h0M94.5 115.8h0M518.5 129.1h0M512.5 136h0M270.5 106h0M256.5 94.9h0M469.5 134.4h0M375.5 117h0M390.5 92.9h0M435.5 126.6h0M495.5 123.1h0M468.5 82.9h0M284.5 100.8h0M385.5 116h0M208.5 106.5h0M348.5 99.5h0M330.5 60.4h0M179.5 116.8h0M305.5 76.1h0M294.5 99.7h0M131.5 124.4h0M377.5 81.3h0M518.5 136.3h0M205.5 110.8h0M325.5 105.3h0M220.5 108.3h0M280.5 107.4h0M410.5 112.3h0M135.5 125.6h0M115.5 113.9h0M451.5 130.1h0M377.5 115.5h0M156.5 119.7h0M405.5 106.1h0M386.5 109.7h0M395.5 123.7h0M305.5 100.5h0M506.5 132.3h0M298.5 106h0M203.5 109.1h0M286.5 104.8h0M334.5 102.8h0M276.5 100.4h0M479.5 133.2h0M440.5 122.9h0M210.5 109.2h0M449.5 123.8h0M142.5 119.1h0M352.5 95.3h0M369.5 91.5h0M139.5 122h0M180.5 92.8h0M386.5 116.6h0M262.5 105.8h0M324.5 104.9h0M346.5 104.3h0M371.5 92.4h0M403.5 121.9h0M337.5 97.1h0M176.5 109.3h0M162.5 105.3h0M447.5 130.5h0M421.5 299.4h0M431.5 331.8h0M438.5 357h0M449.5 354.8h0M452.5 317.6h0M456.5 330.2h0M463.5 302.7h0M463.5 320.5h0M469.5 354.5h0M471.5 304.3h0M476.5 339.1h0M487.5 313.2h0M492.5 359.4h0M495.5 329.4h0M504.5 343.2h0M508.5 351.3h0M514.5 323.7h0M518.5 315.6h0M521.5 304.3h0M528.5 303h0M505.5 304.3h0M549.5 364.2h0M558.5 364.2h0M565.5 376.4h0M572.5 373.5h0M569.5 396.3h0M583.5 411.5h0M577.5 436.3h0M605.5 383.4h0M610.5 395.3h0M634.5 386.1h0M635.5 393.4h0M537.5 399.9h0M537.5 417.7h0M537.5 430.3h0M543.5 427.4h0M641.5 368.8h0M642.5 419h0M649.5 408.3h0M662.5 407.5h0M668.5 376.4h0M668.5 441.2h0M691.5 379.3h0M698.5 423h0M702.5 376.4h0M707.5 362.6h0M715.5 410.1h0M717.5 363.1h0M722.5 408h0M725.5 411.2h0M729.5 377.2h0M732.5 423h0M738.5 378.5h0M740.5 433.1h0M745.5 371.2h0M765.5 362.6h0M798.5 369.9h0M802.5 375.3h0M809.5 413.2h0M814.5 383.4h0M826.5 372.3h0M829.5 402.3h0M829.5 432.3h0M830.5 364.2h0M831.5 383.4h0M834.5 374h0M854.5 401.2h0M855.5 369.9h0M865.5 369.1h0M865.5 440.1h0M867.5 435.5h0M873.5 405.1h0M877.5 371.5h0M880.5 433.1h0M883.5 417.4h0M885.5 375.3h0M886.5 406.4h0M888.5 415.3h0M899.5 375.3h0M903.5 432.3h0M906.5 369.1h0M917.5 415.3h0M926.5 368.3h0M923.5 399.9h0M928.5 402.3h0M922.5 422.2h0M926.5 419.3h0M925.5 433.9h0M932.5 361.8h0M933.5 390.2h0M937.5 407.5h0M941.5 375.3h0M941.5 422.2h0M945.5 396.3h0M947.5 422.2h0M953.5 383.4h0M955.5 405.1h0M960.5 372.3h0M967.5 440.1h0M535.5 319.2h0M544.5 338h0M551.5 352.1h0M556.5 335.9h0M559.5 350.1h0M562.5 297h0M562.5 350.1h0M566.5 334.3h0M565.5 284.9h0M569.5 289.7h0M571.5 333.5h0M575.5 307.5h0M577.5 307.5h0M579.5 348h0M584.5 342.4h0M590.5 344.5h0M594.5 296.2h0M597.5 299.4h0M599.5 287.3h0M601.5 302.7h0M604.5 310.8h0M606.5 350h0M609.5 292.2h0M612.5 283.2h0M612.5 297h0M617.5 319.2h0M624.5 283.2h0M632.5 287.3h0M634.5 315.3h0M638.5 326.2h0M642.5 314h0M646.5 314h0M645.5 333.5h0M646.5 328.6h0M651.5 354.5h0M654.5 312.4h0M658.5 323.4h0M662.5 318.4h0M664.5 307.5h0M667.5 346.4h0M673.5 313.2h0M677.5 308.4h0M677.5 340.8h0M679.5 325.4h0M683.5 313.7h0M686.5 341.2h0M694.5 287.3h0M699.5 314h0M702.5 345.6h0M708.5 345.6h0M709.5 302.7h0M712.5 359.4h0M719.5 307.2h0M725.5 333.1h0M731.5 326.2h0M738.5 322.9h0M748.5 294.6h0M748.5 343.2h0M751.5 294.3h0M754.5 327.3h0M756.5 290.5h0M757.5 346.4h0M765.5 322.4h0M766.5 344.8h0M771.5 301.1h0M771.5 310h0M773.5 283.2h0M776.5 340.3h0M778.5 290.5h0M780.5 286.5h0M788.5 293.3h0M788.5 321.3h0M794.5 319.7h0M805.5 333.5h0M806.5 338.3h0M810.5 352.9h0M812.5 327.8h0M820.5 293h0M822.5 309.2h0M825.5 335.9h0M831.5 339.9h0M834.5 309.2h0M842.5 307.5h0M846.5 350h0M851.5 312.4h0M852.5 328.6h0M858.5 342.4h0M534.5 60.5h0M532.5 92.9h0M537.5 92.9h0M543.5 90.1h0M542.5 98.9h0M556.5 47.5h0M558.5 94h0M558.5 107h0M568.5 94.5h0M575.5 46.4h0M584.5 89.2h0M592.5 68.1h0M592.5 77.2h0M594.5 58.1h0M600.5 71.3h0M613.5 78.3h0M617.5 43.2h0M619.5 82.4h0M624.5 63.2h0M627.5 84h0M630.5 75.6h0M637.5 94h0M547.5 110.7h0M549.5 111.8h0M569.5 101.8h0M575.5 101.8h0M580.5 100.2h0M588.5 95.3h0M595.5 92.1h0M598.5 98.6h0M605.5 103.4h0M609.5 93.7h0M616.5 96.9h0M621.5 92.1h0M626.5 80.7h0M659.5 47h0M681.5 71h0M686.5 65.4h0M689.5 48.3h0M694.5 54.8h0M695.5 62.9h0M699.5 64.2h0M706.5 62.9h0M713.5 47h0M715.5 71h0M721.5 37h0M723.5 54.8h0M724.5 37h0M727.5 85.6h0M740.5 62.1h0M642.5 77.2h0M647.5 77.5h0M653.5 79.1h0M663.5 84.8h0M668.5 80.7h0M672.5 73.5h0M675.5 75.1h0M680.5 75.9h0M686.5 86.4h0M696.5 92.1h0M704.5 87.2h0M711.5 84h0M718.5 77.5h0M725.5 87.2h0M733.5 84.8h0M744.5 79.9h0M751.5 62.9h0M752.5 81.1h0M755.5 89.7h0M764.5 47.5h0M766.5 43.5h0M774.5 50h0M773.5 58.9h0M780.5 67h0M782.5 71h0M791.5 84h0M795.5 64.5h0M803.5 72.6h0M806.5 38.6h0M808.5 92.1h0M820.5 71.8h0M829.5 59.4h0M829.5 83.2h0M843.5 73h0M850.5 55.1h0M857.5 62.1h0M864.5 72.2h0M866.5 88.5h0M870.5 91.3h0M872.5 105h0M864.5 103.1h0M877.5 86.1h0M880.5 95.3h0M883.5 96.5h0M886.5 106.7h0M890.5 96.1h0M894.5 82.4h0M894.5 98.2h0M899.5 91.3h0M902.5 97.8h0M905.5 103.4h0M908.5 96.1h0M920.5 83.5h0M924.5 96.5h0M926.5 60.5h0M929.5 65.4h0M931.5 37.8h0M930.5 102.6h0M932.5 108.3h0M948.5 104.2h0M954.5 83.5h0M956.5 103.4h0M961.5 113.1h0M966.5 93.4h0M968.5 73.5h0M887.5 106.7h0M889.5 107.5h0M892.5 98.6h0M897.5 108.3h0M903.5 113.1h0M861.5 113.1h0M767.5 112.3h0M625.5 48.4h0M639.5 93.3h0M675.5 90h0M731.5 79.3h0M566.5 111.9h0M861.5 135.1h0M785.5 108.7h0M662.5 110.9h0M564.5 125.7h0M866.5 120h0M588.5 121.9h0M589.5 125.1h0M588.5 112.2h0M566.5 128.5h0M929.5 135.2h0M648.5 110.8h0M665.5 108.5h0M896.5 141.7h0M803.5 118.1h0M612.5 126h0M721.5 90h0M919.5 135.4h0M695.5 102.6h0M843.5 124.9h0M573.5 126.6h0M850.5 129h0M872.5 132h0M893.5 129h0M827.5 110.8h0M693.5 113.6h0M558.5 130.1h0M758.5 113.2h0M863.5 134.3h0M614.5 125.2h0M647.5 90h0M766.5 72.1h0M859.5 131.7h0M924.5 130.7h0M585.5 132.6h0M611.5 117.2h0M882.5 112.9h0M814.5 122.6h0M847.5 134.1h0M969.5 137.6h0M943.5 128.9h0M901.5 141.2h0M872.5 133.1h0M704.5 115.6h0M812.5 73.1h0M611.5 125.5h0M864.5 133.8h0M863.5 136h0M847.5 109.1h0M726.5 107.8h0M696.5 110.2h0M715.5 98.8h0M545.5 121h0M902.5 141.4h0M769.5 106.3h0M701.5 98.2h0M771.5 110h0M848.5 128.2h0M698.5 116.1h0M895.5 142.4h0M935.5 144.1h0M700.5 114.2h0M591.5 132h0M865.5 125.8h0M967.5 130.7h0M595.5 129.6h0M844.5 134.4h0M893.5 103h0M935.5 124.6h0M584.5 132.4h0M570.5 122.8h0M965.5 146h0M581.5 127.4h0M608.5 98.4h0M783.5 107.5h0M726.5 111.4h0M860.5 137.1h0M614.5 124h0M932.5 144.4h0M626.5 122.6h0M868.5 135.5h0M560.5 134.5h0M738.5 113.8h0M544.5 113.3h0M668.5 109.1h0M667.5 107.1h0M847.5 133.1h0M730.5 111.1h0M555.5 121.6h0M968.5 140.6h0M921.5 119.8h0M933.5 143h0M638.5 119h0M703.5 109.8h0M630.5 95.4h0M585.5 123.7h0M545.5 136h0M751.5 100.8h0M584.5 132.1h0M608.5 126h0M909.5 117.4h0M743.5 107.4h0M611.5 106.6h0M825.5 127.6h0M647.5 115h0M762.5 114.8h0M654.5 112.5h0M757.5 102.5h0M807.5 118.7h0M766.5 80.2h0M704.5 113.4h0M878.5 133.3h0M914.5 130.9h0M609.5 127.4h0M590.5 129.7h0M580.5 127.5h0M961.5 136.9h0M944.5 109.9h0M631.5 90.1h0M957.5 135.1h0M621.5 121.6h0M753.5 109.4h0M749.5 111.5h0M933.5 138.4h0M548.5 135.7h0M669.5 116.4h0M794.5 99.9h0M559.5 114.2h0M634.5 120.9h0M735.5 104.2h0M918.5 140.8h0M865.5 120.6h0M895.5 117.7h0M865.5 122.2h0M841.5 130.2h0M904.5 142.3h0M830.5 120.2h0M854.5 117h0M663.5 113.7h0M604.5 102.8h0M863.5 110.7h0M603.5 125.5h0M935.5 111.2h0M793.5 118.7h0M675.5 104.8h0M942.5 140.3h0M598.5 128.9h0M756.5 102.3h0M570.5 107.1h0M955.5 144.1h0M783.5 107.5h0M884.5 128.4h0M654.5 119.9h0M883.5 136.6h0M839.5 132.3h0M813.5 95.7h0M948.5 137.3h0M721.5 114.9h0M713.5 111.2h0M835.5 95.8h0M897.5 135.2h0M677.5 107.2h0M825.5 94.9h0M622.5 113.4h0M773.5 106.1h0M868.5 125.7h0M559.5 125.9h0M850.5 104.4h0M537.5 128.9h0M952.5 116h0M736.5 101.8h0M710.5 110h0M847.5 106.6h0M760.5 114.5h0M852.5 117.4h0M567.5 121.3h0M778.5 109.2h0M776.5 115.8h0M940.5 132.6h0M547.5 122.7h0M729.5 107.9h0M808.5 119.2h0M772.5 106.7h0M563.5 122.6h0M791.5 101.9h0M628.5 98.3h0M616.5 119.8h0M917.5 117.4h0M617.5 121.9h0M730.5 90.8h0M860.5 130h0M841.5 127.2h0M774.5 102h0M885.5 140.4h0M735.5 92h0M803.5 113.8h0M890.5 139h0M828.5 118.3h0M812.5 95.6h0M709.5 93.5h0M776.5 114.5h0M704.5 115.7h0M857.5 123.2h0M697.5 112.2h0M735.5 104.9h0M862.5 116.2h0M752.5 112h0M679.5 103.2h0M894.5 138.8h0M698.5 114.8h0M902.5 132.6h0M876.5 113.6h0M727.5 104.5h0M844.5 114.3h0M545.5 126.4h0M702.5 114h0M909.5 137.8h0M785.5 51.6h0M775.5 113.3h0M822.5 116.8h0M828.5 124.1h0M787.5 100.4h0M715.5 109.4h0M611.5 124.5h0M659.5 100.3h0M659.5 118.5h0M720.5 98.8h0M970.5 101.8h0M685.5 117.2h0M727.5 110.6h0M694.5 114.7h0M786.5 116h0M947.5 121.4h0M921.5 132.3h0M696.5 111h0M647.5 119.9h0M919.5 128.4h0M747.5 86.1h0M832.5 125.1h0M562.5 129h0M911.5 134.6h0M668.5 112.8h0M748.5 106.2h0M617.5 105.1h0M715.5 107.5h0M894.5 135.6h0M894.5 136.9h0M738.5 114h0M868.5 124.5h0M732.5 100.6h0M694.5 114.9h0M770.5 108.4h0M619.5 107.5h0M669.5 111.5h0M841.5 129h0M869.5 126.6h0M555.5 114h0M852.5 125.4h0M890.5 120.5h0M726.5 105.6h0M557.5 110.1h0M830.5 121.8h0M638.5 106h0M813.5 117.2h0M696.5 110.5h0M810.5 119.3h0M644.5 107.7h0M740.5 111.5h0M761.5 114.3h0M808.5 95.8h0M619.5 123.6h0M953.5 130.5h0M657.5 117.8h0M665.5 113.9h0M643.5 120.4h0M560.5 126.3h0M716.5 103.6h0M870.5 133.5h0M842.5 104.4h0M616.5 111.8h0M590.5 127.2h0M671.5 101.9h0M868.5 138.5h0M745.5 104.9h0M936.5 139h0M819.5 125.4h0M803.5 113.8h0M868.5 133h0M860.5 129.8h0M681.5 116.4h0M643.5 75.8h0M723.5 115.7h0M745.5 111.9h0M592.5 90.3h0M724.5 112.4h0M812.5 122.4h0M590.5 112.4h0M591.5 123.3h0M606.5 98.3h0M655.5 104.6h0M953.5 128.8h0M541.5 134.6h0M611.5 102h0M603.5 105h0M739.5 85.5h0M537.5 125.6h0M732.5 113.5h0M602.5 94.2h0M649.5 108h0M879.5 102.3h0M611.5 126.7h0M802.5 88.5h0M709.5 112.2h0M714.5 113.4h0M889.5 133.6h0M601.5 124.2h0M936.5 133h0M923.5 86.2h0M824.5 128.3h0M552.5 131h0M822.5 90.1h0M794.5 109.2h0M870.5 120.6h0M624.5 117.9h0M949.5 133.8h0M920.5 141.4h0M580.5 115.5h0M669.5 89.4h0M544.5 108.6h0M896.5 142h0M933.5 122.8h0M966.5 131.4h0M799.5 104.3h0M823.5 120.3h0M828.5 82.9h0M781.5 106.1h0M949.5 111.7h0M797.5 113.1h0M678.5 104.2h0M756.5 99.3h0M538.5 126.7h0M849.5 72.2h0M835.5 110.7h0M715.5 101.9h0M905.5 139.4h0M862.5 124.5h0M678.5 80.7h0M564.5 130.1h0M588.5 120h0M611.5 124.4h0M664.5 99.3h0M727.5 116h0M938.5 143.9h0M653.5 103.3h0M925.5 138.1h0M829.5 110h0M906.5 139h0M707.5 105.5h0M531.5 124.9h0M876.5 136.1h0M638.5 116.7h0M593.5 120.8h0M882.5 130.5h0M832.5 120.5h0M623.5 120.2h0M648.5 100.6h0M943.5 143.8h0M648.5 112.7h0M839.5 119.7h0M587.5 106.9h0M889.5 139.1h0M582.5 121.5h0M757.5 88h0M545.5 116.8h0M772.5 112.9h0M903.5 136.1h0M567.5 132.8h0M651.5 108.3h0M866.5 137.1h0M798.5 96.8h0M668.5 116.5h0M807.5 119.9h0M730.5 88h0M909.5 116.1h0M659.5 115.2h0M863.5 137.9h0M810.5 117.3h0M856.5 136.1h0M696.5 105.5h0M849.5 133.1h0M837.5 95.6h0M700.5 106h0M542.5 131.6h0M954.5 142.4h0M844.5 107.4h0M620.5 122.3h0M852.5 131.9h0M653.5 118.4h0M736.5 72.3h0M908.5 138.3h0M727.5 112.4h0M657.5 102.7h0M664.5 116.8h0M564.5 120.7h0M627.5 120.2h0M649.5 120.1h0M606.5 80.6h0M558.5 119.2h0M735.5 101.7h0M624.5 118.3h0M855.5 135.9h0M936.5 143.8h0M650.5 113.4h0M782.5 116.7h0M753.5 92.2h0M563.5 113.4h0M585.5 120.2h0M919.5 110.7h0M739.5 115.2h0M884.5 140.2h0M559.5 115.6h0M792.5 112h0M911.5 130.2h0M912.5 141.2h0M533.5 129.9h0M760.5 113.5h0M692.5 110h0M864.5 131.6h0M562.5 110.9h0M647.5 82.1h0M888.5 125.6h0M737.5 108h0M729.5 114.2h0M956.5 122.2h0M671.5 58.1h0M548.5 135.5h0M703.5 106.1h0M597.5 126.1h0M566.5 118.2h0M780.5 111.4h0M950.5 129.4h0M785.5 95.3h0M815.5 100.8h0M672.5 109.6h0M781.5 114.3h0M861.5 120.6h0M789.5 117h0M883.5 112.6h0M772.5 107.7h0M617.5 122.6h0M786.5 111.3h0M746.5 113.7h0M603.5 122.7h0M802.5 115.8h0M889.5 127.1h0M589.5 97.3h0M770.5 100.1h0M853.5 130.8h0M707.5 105.4h0M649.5 120.1h0M694.5 115h0M768.5 107.9h0M832.5 115.1h0M776.5 111h0M577.5 113.4h0M890.5 101.7h0M936.5 143.1h0M575.5 116.8h0M640.5 107.9h0M606.5 122.9h0M904.5 132.6h0M931.5 133.1h0M549.5 126.3h0M676.5 114.8h0M615.5 118.8h0M737.5 114.9h0M935.5 135.2h0M561.5 127.9h0M605.5 109.3h0M744.5 111.8h0M761.5 105.5h0M858.5 133.7h0M723.5 113.5h0M592.5 110.3h0M686.5 108.9h0M962.5 99.8h0M860.5 135.2h0M581.5 127h0M886.5 132.8h0M667.5 108.7h0M874.5 136.7h0M536.5 133.3h0M913.5 122.9h0M601.5 106h0M731.5 77.3h0M821.5 104.1h0M753.5 114.5h0M603.5 123.8h0M591.5 126.3h0M655.5 117.7h0M553.5 121h0M625.5 105.1h0M587.5 95.1h0M735.5 107h0M687.5 101.1h0M788.5 100.9h0M654.5 104.2h0M545.5 132.4h0M676.5 96.7h0M862.5 125.7h0M643.5 113.8h0M708.5 116.5h0M862.5 98.9h0M709.5 106.3h0M920.5 138.1h0M934.5 142.9h0M667.5 110.7h0M854.5 115.8h0M641.5 101.3h0M591.5 128.4h0M723.5 92.2h0M795.5 118.6h0M942.5 136.7h0M594.5 130.4h0M843.5 122.4h0M739.5 112.4h0M588.5 129.2h0M958.5 144.2h0M836.5 128.8h0M587.5 120.8h0M929.5 131.9h0M575.5 130.5h0M571.5 126.7h0M676.5 103.6h0M943.5 135.1h0M545.5 94.6h0M934.5 107.1h0M799.5 118.3h0M560.5 116.3h0M780.5 91.4h0M732.5 89.9h0M778.5 88.4h0M854.5 129.2h0M829.5 122.2h0M969.5 142.4h0M663.5 240.4h0M774.5 208.6h0M818.5 311.1h0M917.5 265.6h0M917.5 384.1h0M640.5 203.2h0M858.5 246.9h0M809.5 220.2h0M700.5 219.9h0M871.5 244.5h0M925.5 225.8h0M741.5 209.8h0M933.5 220h0M586.5 208.5h0M603.5 226.9h0M866.5 226h0M664.5 198.2h0M788.5 230.4h0M749.5 216.2h0M594.5 221.4h0M862.5 281.4h0M856.5 241.9h0M594.5 213.9h0M644.5 207.5h0M882.5 288h0M931.5 223.2h0M913.5 261h0M751.5 215.4h0M692.5 248.7h0M726.5 208.3h0M608.5 263.1h0M748.5 207h0M632.5 247.5h0M601.5 207.9h0M697.5 234.5h0M558.5 224.6h0M737.5 221h0M836.5 237.8h0M817.5 217.9h0M959.5 378h0M920.5 249.5h0M809.5 223.5h0M925.5 232.4h0M726.5 222.9h0M882.5 245.8h0M655.5 235.7h0M762.5 219.3h0M961.5 237.3h0M793.5 336.8h0M753.5 246.7h0M876.5 249.3h0M667.5 221h0M896.5 233.8h0M538.5 326.2h0M635.5 210.7h0M608.5 283.6h0M643.5 266.5h0M946.5 227.6h0M541.5 224.5h0M661.5 214.8h0M783.5 214.3h0M839.5 262.8h0M870.5 238.4h0M699.5 214.6h0M627.5 202.8h0M905.5 223.9h0M584.5 222.4h0M559.5 222.3h0M632.5 203.5h0M747.5 249.5h0M945.5 274.9h0M851.5 282.8h0M778.5 231.4h0M759.5 268.2h0M835.5 219.5h0M806.5 265.2h0M678.5 218.9h0M571.5 220.5h0M618.5 281h0M874.5 223.4h0M809.5 215.5h0M881.5 260.9h0M550.5 257.9h0M926.5 237.9h0M698.5 220.3h0M938.5 244h0M792.5 271.8h0M771.5 233.9h0M890.5 222.9h0M805.5 220.7h0M827.5 289.7h0M599.5 228.3h0M796.5 227.3h0M687.5 199.5h0M563.5 207.8h0M589.5 203.5h0M741.5 223.7h0M646.5 264.2h0M867.5 252.8h0M584.5 209.6h0M536.5 243.6h0M969.5 220.5h0M668.5 254.9h0M754.5 287.1h0M622.5 201.5h0M622.5 206.1h0M707.5 199h0M878.5 221.5h0M547.5 223.6h0M898.5 237.4h0M966.5 226.1h0M776.5 253.5h0M688.5 232.3h0M633.5 199.8h0M610.5 209.5h0M672.5 218.2h0M905.5 221h0M531.5 225.9h0M876.5 291.7h0M824.5 232.5h0M538.5 246.3h0M561.5 257.3h0M853.5 248.1h0M826.5 271.1h0M668.5 208h0M909.5 222.1h0M622.5 199.6h0M718.5 232.8h0M581.5 207.3h0M814.5 218.7h0M568.5 219.8h0M609.5 225.3h0M867.5 252.2h0M750.5 203h0M821.5 226.2h0M853.5 223.2h0M797.5 212.6h0M617.5 205.9h0M837.5 219.2h0M581.5 226.3h0M649.5 219h0M727.5 221.9h0M580.5 211.3h0M577.5 256.2h0M817.5 229.8h0M856.5 259.8h0M693.5 217.2h0M702.5 212.8h0M621.5 206.8h0M760.5 220.6h0M785.5 209.5h0M941.5 224.1h0M548.5 216h0M930.5 227.9h0M966.5 249.1h0M682.5 246.8h0M849.5 224.4h0M893.5 226.9h0M816.5 235.4h0M657.5 207.2h0M804.5 215.9h0M916.5 293.9h0M577.5 238.9h0M741.5 235.1h0M540.5 226.5h0M902.5 226.2h0M873.5 240.4h0M550.5 218h0M858.5 219.9h0M834.5 233.2h0M586.5 218.1h0M761.5 222.5h0M833.5 268.1h0M678.5 208.6h0M752.5 238.8h0M959.5 247h0M810.5 226.2h0M751.5 210.7h0M559.5 247.7h0M583.5 309.6h0M904.5 278.2h0M857.5 279.5h0M897.5 235.9h0M784.5 225.6h0M783.5 217.3h0M763.5 227.3h0M853.5 222.8h0M675.5 236.9h0M749.5 214.4h0M737.5 204.6h0M821.5 225.3h0M625.5 225.8h0M541.5 264.6h0M569.5 229.4h0M609.5 251.2h0M907.5 315.6h0M845.5 225h0M860.5 276.6h0M725.5 210h0M575.5 228.7h0M735.5 207.8h0M910.5 235.2h0M754.5 220.7h0M808.5 223.4h0M695.5 311.5h0M596.5 245.2h0M806.5 215h0M743.5 202.4h0M682.5 198.4h0M644.5 232.4h0M836.5 224.6h0M670.5 274.2h0M783.5 236.8h0M644.5 234.5h0M862.5 222.8h0M695.5 224h0M741.5 200.9h0M938.5 279.4h0M846.5 247.2h0M854.5 236.6h0M679.5 202.4h0M900.5 245.2h0M700.5 221.5h0M965.5 240.9h0M924.5 230.9h0M820.5 247.5h0M896.5 247.7h0M769.5 229.5h0M853.5 320.1h0M585.5 243.1h0M965.5 262.3h0M882.5 249h0M593.5 285.8h0M637.5 227.6h0M783.5 258.8h0M866.5 220.8h0M595.5 209.1h0M953.5 330.1h0M682.5 200.5h0M968.5 224.8h0M861.5 264.8h0M744.5 234.8h0M690.5 202.2h0M572.5 251.6h0M569.5 241.7h0M807.5 223.1h0M870.5 284.1h0M929.5 226.6h0M691.5 203.1h0M943.5 224.4h0M661.5 226h0M944.5 312.5h0M934.5 378.4h0M598.5 200.5h0M909.5 221h0M840.5 231.1h0M839.5 248.6h0M900.5 236.9h0M766.5 257.1h0M753.5 268.2h0M691.5 254.7h0M911.5 248h0M926.5 220.3h0M601.5 203.9h0M870.5 319.1h0M651.5 242h0M611.5 207.1h0M617.5 210.8h0M782.5 214.3h0M653.5 238.9h0M637.5 206.9h0M573.5 229.3h0M673.5 207.9h0M871.5 224.3h0M540.5 278.3h0M742.5 220.7h0M795.5 225h0M552.5 226.3h0M659.5 222.4h0M929.5 227.9h0M968.5 343h0M904.5 224.3h0M605.5 230.7h0M866.5 261.9h0M728.5 227h0M605.5 219.2h0M742.5 203.2h0M936.5 221.7h0M916.5 246.1h0M702.5 201.8h0M558.5 229.3h0M926.5 226.9h0M964.5 260.1h0M755.5 212.5h0M629.5 235h0M769.5 208.8h0M836.5 238.7h0M742.5 216.7h0M685.5 239.8h0M639.5 237.5h0M661.5 271.1h0M552.5 240.5h0M642.5 206.4h0M949.5 317.2h0M534.5 352.6h0M850.5 305h0M877.5 262.9h0M708.5 209.5h0M792.5 244.7h0M627.5 263.1h0M824.5 227.3h0M841.5 246.1h0M853.5 222.5h0M746.5 203.5h0M957.5 239.3h0M911.5 223h0M782.5 215h0M830.5 228.9h0M651.5 243.8h0M945.5 261.5h0M814.5 261.3h0M924.5 233.2h0M657.5 222.2h0M962.5 227.4h0M576.5 206.2h0M763.5 225.4h0M579.5 209.1h0M614.5 210.2h0M866.5 246.3h0M559.5 266h0M698.5 216.1h0M614.5 228.4h0M904.5 249.9h0M566.5 209.5h0M678.5 199.1h0M907.5 234.5h0M832.5 237.4h0M839.5 224.9h0M966.5 226.1h0M540.5 228.8h0M823.5 231.3h0M858.5 348.3h0M859.5 221.1h0M844.5 257.7h0M562.5 255.1h0M567.5 215.2h0M870.5 316.2h0M799.5 231.6h0M646.5 260.1h0M534.5 214.3h0M765.5 215.6h0M570.5 271.6h0M859.5 328.7h0M680.5 208.1h0M885.5 296h0M572.5 208.6h0M747.5 201.7h0M574.5 220.6h0M873.5 239.8h0M776.5 249.7h0M633.5 203h0M954.5 311.5h0M830.5 294.5h0M678.5 253.7h0M906.5 284.4h0M697.5 212.4h0M945.5 223.4h0M661.5 225.6h0M963.5 224.6h0M557.5 215.1h0M853.5 238.2h0M658.5 229.5h0M717.5 252.5h0M810.5 230.4h0M550.5 243.6h0M628.5 275.8h0M576.5 302.3h0M855.5 255.6h0M627.5 239.7h0M749.5 224.7h0M675.5 227.7h0M634.5 241.7h0M941.5 247.5h0M753.5 208.8h0M816.5 219h0M840.5 242.5h0M891.5 314.3h0M646.5 226.1h0M565.5 209.2h0M736.5 251.5h0M605.5 200.1h0M539.5 244.8h0M935.5 252.2h0M806.5 244.3h0M712.5 199.5h0M590.5 202.8h0M865.5 235.4h0M765.5 213.5h0M607.5 218h0M962.5 246.3h0M948.5 221.6h0M938.5 225.9h0M894.5 240.8h0M764.5 307.8h0M662.5 205h0M817.5 248.4h0M597.5 305.5h0M801.5 218.7h0M559.5 237.7h0M536.5 226h0M845.5 256.7h0M681.5 248.7h0M837.5 222.5h0M873.5 257.4h0M898.5 230.3h0M801.5 301.1h0M903.5 221.8h0M820.5 233.4h0M938.5 393.5h0M925.5 220.5h0M549.5 231.1h0M648.5 208.6h0M701.5 216.1h0M641.5 202.2h0M608.5 295.3h0M914.5 224.4h0M541.5 242.1h0M610.5 368.5h0M865.5 225.9h0M628.5 209.7h0M644.5 241.8h0M956.5 220.7h0M866.5 251.1h0M727.5 210.6h0M590.5 212.9h0M648.5 238.4h0M962.5 222.4h0M878.5 223.2h0M561.5 230.2h0M841.5 293.5h0M695.5 203.3h0M847.5 233.8h0M660.5 198.5h0M587.5 220.1h0M539.5 224h0M660.5 244.7h0M909.5 272.9h0M922.5 245.5h0M831.5 319.3h0M859.5 244.1h0M616.5 208.4h0M686.5 214.8h0M926.5 241.1h0M964.5 281.5h0M725.5 249.2h0M871.5 299.2h0M941.5 267.4h0M969.5 224.5h0M660.5 212.5h0M818.5 216h0M702.5 267.1h0M735.5 201.2h0M733.5 215.5h0M653.5 229h0M538.5 371.6h0M867.5 326.5h0M836.5 222.6h0M900.5 235.7h0M597.5 217.2h0M634.5 202.4h0M792.5 259.7h0M942.5 258.4h0M738.5 221.3h0M618.5 269.7h0M792.5 225.9h0M951.5 246.1h0M912.5 253.9h0M926.5 229h0M711.5 209.4h0M645.5 215.6h0M913.5 233.2h0M877.5 223.5h0M905.5 253.9h0M702.5 205.6h0M656.5 221.6h0M636.5 200.6h0M913.5 259.1h0M935.5 254.3h0M692.5 263.9h0M915.5 243.6h0M698.5 316.6h0M727.5 202h0M779.5 232.3h0M627.5 217.4h0M648.5 215h0M647.5 220.6h0M644.5 274.8h0M757.5 229.5h0M574.5 219.5h0M873.5 239.4h0M607.5 216.6h0M725.5 200.5h0M812.5 233h0M591.5 291.8h0M710.5 306.5h0M778.5 269.7h0M772.5 224.1h0M923.5 293h0M875.5 238.1h0M583.5 232.6h0M897.5 244.3h0M772.5 212h0M828.5 301.3h0M600.5 232.6h0M738.5 263.4h0M838.5 223.5h0M881.5 314.1h0M885.5 265.4h0M626.5 203h0M896.5 223.6h0M780.5 270.1h0M824.5 226.5h0M905.5 224.8h0M708.5 341.3h0M935.5 230.1h0M918.5 284.9h0M885.5 267.8h0M697.5 233.5h0M762.5 226.9h0M606.5 207.3h0M864.5 252.8h0M922.5 248.2h0M601.5 261.7h0M858.5 227.6h0M835.5 415h0M546.5 245h0M933.5 291.9h0M741.5 248.8h0M648.5 227.4h0M543.5 231.9h0M874.5 255.4h0M679.5 200.5h0M756.5 203.4h0M616.5 208.2h0M797.5 229.6h0M705.5 199.1h0M885.5 227.1h0M823.5 221.9h0M848.5 323.3h0M641.5 227.3h0M558.5 226.3h0M917.5 263.4h0M942.5 247.5h0M813.5 314h0M936.5 225.6h0M841.5 259.8h0M797.5 213.5h0M714.5 199.5h0M686.5 245.9h0M745.5 203.4h0M628.5 211.6h0M718.5 208h0M753.5 207.4h0M544.5 218.7h0M703.5 256.9h0M655.5 215.6h0M809.5 223.4h0M887.5 235.8h0M800.5 221.8h0M822.5 221.8h0M800.5 248.5h0M643.5 223.8h0M696.5 216.9h0M901.5 270.9h0M946.5 222.1h0M610.5 218.6h0M535.5 293.7h0M953.5 227.6h0M908.5 220.3h0M797.5 216h0M889.5 261.1h0M791.5 212.5h0M928.5 222h0M637.5 229.8h0M725.5 200.2h0M825.5 217.6h0M625.5 227.6h0M845.5 240.9h0M645.5 198.9h0M842.5 290.6h0M884.5 225.6h0M717.5 217.9h0M966.5 243.5h0M808.5 217.4h0M863.5 242h0M539.5 257.9h0M580.5 260.1h0M843.5 225.3h0M945.5 272.7h0M806.5 229.6h0M871.5 288h0M931.5 228.1h0M600.5 212.5h0M969.5 237.8h0M646.5 226.9h0M796.5 224.8h0M722.5 242.9h0M948.5 239.5h0M635.5 211.2h0M711.5 273.1h0M669.5 209.8h0M837.5 245.5h0M683.5 223.4h0M919.5 326.7h0M842.5 311.8h0M607.5 234.3h0M830.5 231.8h0M836.5 227.3h0M963.5 270.9h0M546.5 218.9h0M616.5 222.5h0M783.5 256.2h0M566.5 234.4h0M785.5 243h0M707.5 208.3h0M864.5 265.4h0M748.5 226.5h0M688.5 268.2h0M624.5 208.5h0M686.5 222.2h0M689.5 214.2h0M579.5 231.1h0M912.5 241.3h0M572.5 236.7h0M642.5 208.2h0M599.5 220.7h0M597.5 209.1h0M839.5 228.6h0M719.5 208.9h0M826.5 225.2h0M737.5 222.5h0M718.5 230.5h0M681.5 259.1h0M638.5 264h0M627.5 211.5h0M681.5 208.6h0M875.5 227.6h0M779.5 239.3h0M689.5 239.9h0M815.5 260.1h0M637.5 218h0M824.5 291.9h0M842.5 232.5h0M594.5 243.6h0M797.5 241.4h0M692.5 217.5h0M550.5 221.6h0M582.5 228.5h0M820.5 264.9h0M689.5 271.2h0M818.5 237.6h0M563.5 216.1h0M769.5 229.7h0M893.5 236.4h0M749.5 246.1h0M842.5 233.4h0M732.5 214.3h0M544.5 234.7h0M796.5 256.4h0M559.5 215.9h0M767.5 218.4h0M840.5 226.3h0M826.5 284.6h0M562.5 225.3h0M617.5 273.4h0M884.5 240.5h0M736.5 211.9h0M756.5 260.2h0M757.5 244.5h0M781.5 269.6h0M740.5 232.8h0M534.5 230.2h0M784.5 230.4h0M591.5 214.9h0M777.5 315.9h0M822.5 254.3h0M537.5 238.8h0M774.5 234.1h0M686.5 222.6h0M719.5 213.4h0M677.5 222.2h0M617.5 218.9h0M911.5 230.1h0M574.5 215.7h0M919.5 263.3h0M633.5 263h0M577.5 220.8h0M818.5 279.7h0M924.5 280.8h0M670.5 213.6h0M620.5 334.8h0M945.5 245.1h0M700.5 274.2h0M565.5 265h0M792.5 222h0M963.5 244.6h0M649.5 219.2h0M934.5 247.8h0M575.5 227.4h0M886.5 233.7h0M568.5 287.3h0M624.5 232.8h0M946.5 261.4h0M574.5 213h0M694.5 224.3h0M784.5 229.8h0M931.5 275.8h0M693.5 210.8h0M613.5 217.1h0M655.5 228.8h0M681.5 257.4h0M600.5 226.2h0M597.5 219.8h0M673.5 218.4h0M788.5 262.8h0M675.5 215.9h0M676.5 212.9h0M835.5 289.9h0M854.5 227.7h0M701.5 214.7h0M907.5 237.9h0M633.5 220.7h0M636.5 218.6h0M869.5 230.4h0M647.5 214h0M897.5 244h0M799.5 259h0M662.5 210.3h0M916.5 250h0M619.5 212.2h0M588.5 211.2h0M775.5 227.3h0M916.5 250h0M792.5 232.1h0M725.5 210.3h0M592.5 219.2h0M737.5 218.7h0M934.5 257.3h0M798.5 231.4h0M772.5 215.3h0M618.5 218.8h0M595.5 222.2h0M788.5 229.8h0M750.5 211.6h0M601.5 208.9h0M749.5 235.7h0M658.5 209.1h0M730.5 226h0M833.5 263.2h0M671.5 226h0M823.5 240.7h0M539.5 251.5h0M770.5 232h0M634.5 223.2h0M661.5 210.5h0M551.5 228.9h0M628.5 218.6h0M590.5 240.7h0M663.5 214.2h0M794.5 233.3h0M853.5 229.4h0M717.5 233.1h0M695.5 263.3h0M536.5 234.2h0M814.5 254.1h0M853.5 244.2h0M750.5 226.3h0M639.5 235.5h0M553.5 220.7h0M543.5 232.4h0M590.5 236h0M849.5 251.4h0M731.5 242.6h0M601.5 226.3h0M882.5 230.9h0M661.5 211.8h0M949.5 245.1h0M607.5 208.8h0M762.5 229.1h0M767.5 216.6h0M750.5 209.7h0M770.5 239.4h0M724.5 226.5h0M708.5 222.5h0M767.5 222.6h0M805.5 242.1h0M840.5 235h0M925.5 231.1h0M819.5 234h0M595.5 224.3h0M561.5 236.7h0M734.5 224.2h0M537.5 235h0M671.5 231h0M782.5 242.5h0M609.5 214.9h0M906.5 284.5h0M789.5 221.9h0M550.5 238.4h0M785.5 224.5h0M664.5 260.8h0M886.5 268.7h0M644.5 213.8h0M629.5 212.4h0M826.5 243.7h0M641.5 245.5h0M833.5 228.4h0M628.5 224h0M775.5 229.4h0M742.5 208.8h0M912.5 255.9h0M663.5 221.7h0M723.5 252.9h0M539.5 264.5h0M901.5 253h0M712.5 223.7h0M879.5 255.1h0M689.5 224.8h0M739.5 230.1h0M789.5 239.5h0M592.5 217.5h0M769.5 230.8h0M853.5 239h0M629.5 250.6h0M661.5 255.1h0M690.5 207.2h0M656.5 275.5h0M907.5 238.1h0M915.5 256.5h0M749.5 226.8h0M637.5 266.9h0M557.5 216.9h0M946.5 254.2h0M623.5 242.8h0M745.5 226h0M795.5 223.3h0M748.5 217.1h0M764.5 222.5h0M661.5 240.4h0M687.5 210.6h0M853.5 252.3h0M634.5 215.7h0M650.5 229.1h0M702.5 208.3h0M694.5 207.9h0M924.5 250.3h0M639.5 221.8h0M666.5 208.8h0M923.5 258.7h0M838.5 235.3h0M837.5 240.5h0M630.5 244.7h0M826.5 238.2h0M762.5 217.8h0M602.5 274h0M746.5 230.5h0M731.5 213.8h0M813.5 222.8h0M841.5 232.7h0M899.5 258.7h0M830.5 226.6h0M912.5 233.8h0M654.5 215.6h0M708.5 224h0M932.5 283.4h0M880.5 246.8h0M707.5 317h0M901.5 251.6h0M889.5 251.1h0M580.5 217.7h0M655.5 216h0M737.5 268.5h0M818.5 245.2h0M635.5 213.2h0M853.5 274.5h0M670.5 222.9h0M905.5 236.5h0M914.5 246.3h0M630.5 208.5h0M778.5 220h0M720.5 207.6h0M691.5 219.5h0M567.5 220.1h0M964.5 230.5h0M571.5 125.7h0M555.5 123.3h0M774.5 86.6h0M845.5 112.4h0M930.5 134.3h0M821.5 112h0M621.5 77.5h0M905.5 126.5h0M815.5 105.9h0M627.5 107.8h0M696.5 103.4h0M593.5 100h0M720.5 105.9h0M965.5 135.2h0M699.5 96.9h0M883.5 122.2h0M566.5 119.5h0M583.5 107.9h0M587.5 118.4h0M799.5 98.1h0M778.5 91.2h0M621.5 113.3h0M768.5 87.7h0M818.5 70.3h0M792.5 96.5h0M712.5 77.5h0M815.5 115.9h0M847.5 114.7h0M599.5 118.6h0M954.5 132.4h0M947.5 126h0M891.5 130.6h0M616.5 110.8h0M789.5 105.3h0M698.5 96.7h0M761.5 105.8h0M730.5 102.2h0M746.5 106.1h0M541.5 126.6h0M601.5 114.6h0M959.5 136.8h0M804.5 105.7h0M601.5 121.3h0M737.5 102.9h0M641.5 105.7h0M838.5 94.1h0M638.5 107.9h0M608.5 119.7h0M588.5 122.6h0M653.5 109.8h0M706.5 99.5h0M651.5 104.5h0M842.5 107.6h0M832.5 58.6h0M571.5 84.7h0M652.5 110.7h0M910.5 133.6h0M565.5 124.5h0M623.5 106.1h0M898.5 129.5h0M581.5 125.2h0M946.5 137.4h0M583.5 124.9h0M779.5 101.4h0M870.5 103.3h0M641.5 110.2h0M598.5 100.2h0M805.5 111.7h0M874.5 126.5h0M899.5 126.9h0M532.5 127h0M549.5 124.9h0M530.5 127.8h0M871.5 124.6h0M811.5 108.4h0M541.5 114.3h0M862.5 127.7h0M785.5 96.6h0M583.5 125h0M790.5 96.9h0M619.5 116.3h0M923.5 135.3h0M601.5 112.7h0M890.5 119.6h0M622.5 112.5h0M888.5 133.5h0M797.5 91.7h0M892.5 118.1h0M704.5 100.5h0M757.5 106.2h0M868.5 130h0M842.5 116.9h0M791.5 94.4h0M957.5 116.7h0M661.5 90.8h0M732.5 87.8h0M942.5 113.4h0M587.5 112.6h0M681.5 107.7h0M968.5 126.6h0M702.5 94.4h0M639.5 104.6h0M898.5 134.1h0M801.5 109.7h0M635.5 99.6h0M744.5 104.1h0M932.5 134.3h0M657.5 111.4h0M906.5 108.3h0M888.5 132.2h0M710.5 91.1h0M604.5 110.3h0M609.5 114h0M833.5 110.9h0M943.5 135.1h0M778.5 106.7h0M958.5 134.3h0M755.5 93.9h0M668.5 109.7h0M836.5 110.2h0M538.5 121.2h0M720.5 101.4h0M666.5 106.4h0M549.5 114.1h0M633.5 112.7h0M884.5 123.2h0M949.5 135.2h0M610.5 115.6h0M589.5 111.1h0M849.5 126.7h0M965.5 134.6h0M730.5 105.2h0M963.5 136.1h0M595.5 120.8h0M728.5 103.9h0M531.5 121.6h0M709.5 101.3h0M816.5 101.8h0M800.5 111.4h0M799.5 53.9h0M910.5 129.7h0M535.5 104.4h0M846.5 123.1h0M690.5 91.8h0M744.5 94.5h0M626.5 92.3h0M965.5 133.5h0M931.5 132.6h0M817.5 108.4h0M834.5 112.9h0M722.5 106.8h0M880.5 121h0M676.5 91.7h0M805.5 90.7h0M797.5 91.2h0M958.5 110.3h0M608.5 110.8h0M842.5 123.8h0M735.5 106h0M616.5 116.2h0M830.5 118.3h0M936.5 111.8h0M627.5 111.4h0M776.5 104.2h0M653.5 104.3h0M700.5 100.7h0M834.5 118.5h0M563.5 120.7h0M751.5 100.3h0M852.5 110.8h0M593.5 120.7h0M956.5 135.6h0M926.5 134.1h0M887.5 126.3h0M708.5 90.7h0M940.5 127.8h0M777.5 80.3h0M625.5 94.8h0M769.5 99.9h0M828.5 101.7h0M957.5 110.9h0M936.5 125.5h0M751.5 104.2h0M936.5 123h0M691.5 108.1h0M604.5 113.2h0M934.5 135.2h0M565.5 111.8h0M868.5 103.7h0M627.5 113.8h0M830.5 119.5h0M904.5 127.7h0M618.5 116.3h0M790.5 109.3h0M568.5 109h0M753.5 98.9h0M723.5 90.1h0M621.5 109.7h0M571.5 102.9h0M648.5 108.4h0M818.5 96.6h0M773.5 103.8h0M763.5 101.7h0M956.5 129.9h0M648.5 102.6h0M839.5 123.6h0M815.5 115.6h0M775.5 105.1h0M695.5 96.5h0M780.5 108.5h0M811.5 110.9h0M832.5 116.8h0M934.5 134.5h0M810.5 107h0M717.5 104.2h0M909.5 132.8h0M791.5 106.7h0M546.5 114.4h0M944.5 129.2h0M932.5 121.3h0M707.5 92.2h0M969.5 136.6h0M915.5 101.5h0M651.5 92.8h0M944.5 130.7h0M558.5 116.2h0M844.5 126.5h0M567.5 118.6h0M873.5 130.2h0M723.5 86.9h0M666.5 108h0M955.5 128.1h0M699.5 48.1h0M622.5 112.2h0M675.5 100.9h0M928.5 123.4h0M730.5 106.6h0M793.5 104.9h0M899.5 129.5h0M534.5 115.8h0M958.5 129.1h0M951.5 136h0M709.5 106h0M696.5 94.9h0M908.5 134.4h0M815.5 117h0M829.5 92.9h0M875.5 126.6h0M935.5 123.1h0M907.5 82.9h0M724.5 100.8h0M824.5 116h0M648.5 106.5h0M788.5 99.5h0M769.5 60.4h0M619.5 116.8h0M745.5 76.1h0M733.5 99.7h0M570.5 124.4h0M816.5 81.3h0M957.5 136.3h0M645.5 110.8h0M765.5 105.3h0M660.5 108.3h0M720.5 107.4h0M850.5 112.3h0M574.5 125.6h0M554.5 113.9h0M891.5 130.1h0M816.5 115.5h0M595.5 119.7h0M845.5 106.1h0M825.5 109.7h0M834.5 123.7h0M745.5 100.5h0M945.5 132.3h0M737.5 106h0M643.5 109.1h0M725.5 104.8h0M773.5 102.8h0M715.5 100.4h0M918.5 133.2h0M880.5 122.9h0M649.5 109.2h0M889.5 123.8h0M581.5 119.1h0M791.5 95.3h0M809.5 91.5h0M578.5 122h0M620.5 92.8h0M826.5 116.6h0M702.5 105.8h0M764.5 104.9h0M786.5 104.3h0M811.5 92.4h0M842.5 121.9h0M777.5 97.1h0M616.5 109.3h0M601.5 105.3h0M886.5 130.5h0M861.5 299.4h0M871.5 331.8h0M877.5 357h0M888.5 354.8h0M892.5 317.6h0M895.5 330.2h0M902.5 302.7h0M902.5 320.5h0M909.5 354.5h0M910.5 304.3h0M916.5 339.1h0M926.5 313.2h0M931.5 359.4h0M935.5 329.4h0M943.5 343.2h0M947.5 351.3h0M954.5 323.7h0M957.5 315.6h0M960.5 304.3h0M968.5 303h0M944.5 304.3h0" stroke="#000" stroke-width="5.3" stroke-linecap="round" fill="none"/>
<path d="M91.2 194.8L96 192.4L102.4 186L107.2 185.2L112 186.8L116.8 186L125.6 178L134.4 174.5L142.4 175.1L148.8 173.2L155.2 171.3L163.2 166.5L172.8 155.6L175.2 155.3L182.4 159.1L192 155.3L196.8 154.8L201.5 150.5L208 154.8L212.8 160L216 160.4L222.3 154.8L230.3 151.6L235 153.7L243 158.5L248.6 156.4L252.6 158L257.4 156.4L263.8 152.4L273.4 151.1L279.8 148.7L284.6 148.7L291 150.8L299 151.9L305.4 154.8L310.2 154L316.6 156.9L322.2 155.6L327.8 150L334.2 151.6L339 154.8L347 155.1L355 158.8L361.3 165.2L366.1 171.6L372.5 178L377.3 177.7L384.8 174.4L389.6 176L394.4 180L402.4 182.9L410.4 185.6L416.8 184.8L424.8 186.7L431.2 192L436 191.5L442.4 186.7L450.4 182.9L456.8 185.1L463.2 188L467.2 187.2L474.4 190.9L480.8 191.5L488.7 186.9L495.1 188.8L501.5 192L507.9 188.8L515.1 186.9L522.3 192L529.5 196L530.5 195.5L530.7 194.8L535.5 192.4L541.9 186L546.7 185.2L551.5 186.8L556.3 186L565.1 178L573.9 174.5L581.9 175.1L588.3 173.2L594.7 171.3L602.7 166.5L612.3 155.6L614.7 155.3L621.9 159.1L631.5 155.3L636.3 154.8L641 150.5L647.5 154.8L652.3 160L655.5 160.4L661.8 154.8L669.8 151.6L674.5 153.7L682.5 158.5L688.1 156.4L692.1 158L696.9 156.4L703.3 152.4L712.9 151.1L719.3 148.7L724.1 148.7L730.5 150.8L738.5 151.9L744.9 154.8L749.7 154L756.1 156.9L761.7 155.6L767.3 150L773.7 151.6L778.5 154.8L786.5 155.1L794.5 158.8L800.8 165.2L805.6 171.6L812 178L816.8 177.7L824.3 174.4L829.1 176L833.9 180L841.9 182.9L849.9 185.6L856.3 184.8L864.3 186.7L870.7 192L875.5 191.5L881.9 186.7L889.9 182.9L896.3 185.1L902.7 188L906.7 187.2L913.9 190.9L920.3 191.5L928.2 186.9L934.6 188.8L941 192L947.4 188.8L954.6 186.9L961.8 192L969 196L970 195.5" stroke="#f00" stroke-width="5.6" stroke-linejoin="round" stroke-linecap="round" fill="none"/>
</g>
<path d="M91.5 442.5V37.5H970.5V442.5Z" stroke="#000" stroke-width="1.1" fill="none"/>
<path d="M91.5 443.0v4.9M200.5 443.0v4.9M310.5 443.0v4.9M420.5 443.0v4.9M530.5 443.0v4.9M640.5 443.0v4.9M750.5 443.0v4.9M860.5 443.0v4.9M970.5 443.0v4.9M91.5 57.5h-4.9M91.5 111.5h-4.9M91.5 166.5h-4.9M91.5 221.5h-4.9M91.5 276.5h-4.9M91.5 331.5h-4.9M91.5 385.5h-4.9M91.5 440.5h-4.9" stroke="#000" stroke-width="1.1" fill="none"/>
<g style="font-family:'DejaVu Sans','Liberation Sans',sans-serif" font-size="13.889" fill="#000">
<text x="91.50" y="462.28" text-anchor="middle" font-size="13.5">0.00</text><text x="200.50" y="462.28" text-anchor="middle" font-size="13.5">0.25</text><text x="310.50" y="462.28" text-anchor="middle" font-size="13.5">0.50</text><text x="420.50" y="462.28" text-anchor="middle" font-size="13.5">0.75</text><text x="530.50" y="462.28" text-anchor="middle" font-size="13.5">1.00</text><text x="640.50" y="462.28" text-anchor="middle" font-size="13.5">1.25</text><text x="750.50" y="462.28" text-anchor="middle" font-size="13.5">1.50</text><text x="860.50" y="462.28" text-anchor="middle" font-size="13.5">1.75</text><text x="970.50" y="462.28" text-anchor="middle" font-size="13.5">2.00</text><text x="80.68" y="61.80" text-anchor="end" font-size="13.5">−0.04</text><text x="80.68" y="115.80" text-anchor="end" font-size="13.5">−0.02</text><text x="80.68" y="170.80" text-anchor="end" font-size="13.5">0.00</text><text x="80.68" y="225.80" text-anchor="end" font-size="13.5">0.02</text><text x="80.68" y="280.80" text-anchor="end" font-size="13.5">0.04</text><text x="80.68" y="335.80" text-anchor="end" font-size="13.5">0.06</text><text x="80.68" y="389.80" text-anchor="end" font-size="13.5">0.08</text><text x="80.68" y="444.80" text-anchor="end" font-size="13.5">0.10</text><text x="530.50" y="482.17" text-anchor="middle" font-size="13.6">Phase</text><text transform="translate(27.14 284.85) rotate(-90)" x="0" y="-0.56">Δ Magnitude</text><text x="530.50" y="28.67" text-anchor="middle" font-size="16.667">Light curve of ASCC 658315</text>
</g>
</svg></body></html>
